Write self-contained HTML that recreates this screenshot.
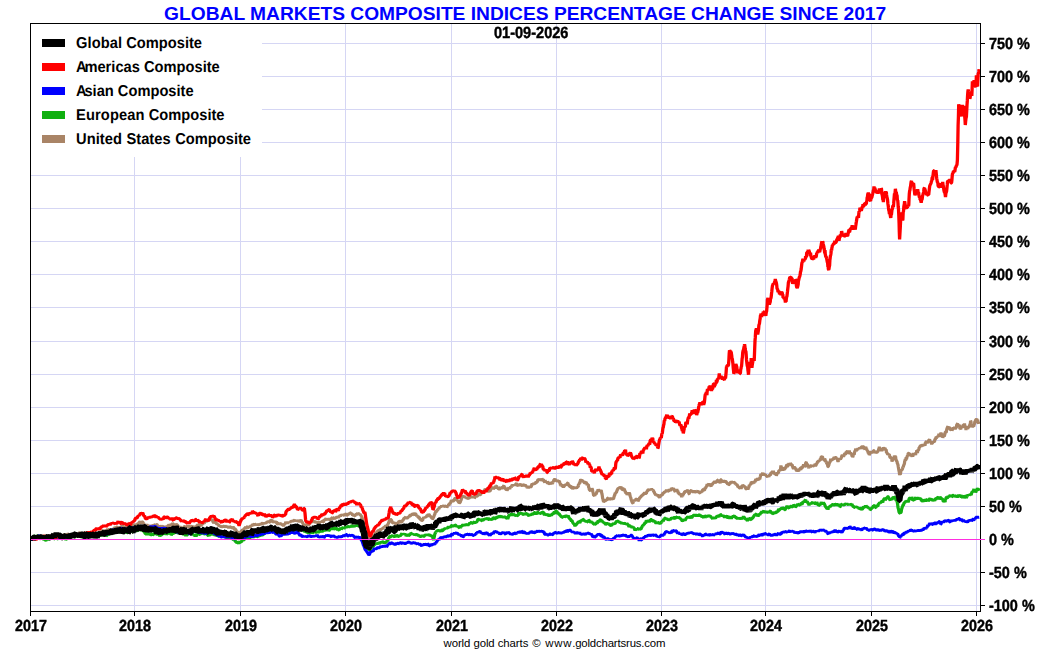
<!DOCTYPE html>
<html><head><meta charset="utf-8"><title>Global Markets Composite Indices</title>
<style>
html,body{margin:0;padding:0;background:#fff;}
body{width:1050px;height:650px;overflow:hidden;position:relative;font-family:"Liberation Sans",sans-serif;}
svg{position:absolute;left:0;top:0;}
.t{position:absolute;white-space:nowrap;color:#000;font-weight:bold;line-height:1;}
.yl{-webkit-text-stroke:0.4px #000;font-size:14.45px;left:989px;transform:scaleY(1.12);transform-origin:0 50%;text-rendering:geometricPrecision;will-change:transform;}
.xl{-webkit-text-stroke:0.4px #000;font-size:14.3px;width:60px;text-align:center;transform:scaleY(1.12);transform-origin:50% 50%;text-rendering:geometricPrecision;will-change:transform;}
.lg{font-size:14.68px;left:76px;}
.ka{letter-spacing:-2.2px;}
.lg{transform:scaleY(1.07);transform-origin:0 85%;text-rendering:geometricPrecision;}
.sw{position:absolute;left:42px;width:23px;height:8px;}
</style></head><body>

<svg width="1050" height="650" viewBox="0 0 1050 650">
<rect x="0" y="0" width="1050" height="650" fill="#fff"/>
<g shape-rendering="crispEdges" stroke="#d5d6f4" stroke-width="1" fill="none"><line x1="31" y1="43.5" x2="980" y2="43.5"/><line x1="31" y1="76.5" x2="980" y2="76.5"/><line x1="31" y1="109.5" x2="980" y2="109.5"/><line x1="31" y1="142.5" x2="980" y2="142.5"/><line x1="31" y1="175.5" x2="980" y2="175.5"/><line x1="31" y1="208.5" x2="980" y2="208.5"/><line x1="31" y1="241.5" x2="980" y2="241.5"/><line x1="31" y1="274.5" x2="980" y2="274.5"/><line x1="31" y1="307.5" x2="980" y2="307.5"/><line x1="31" y1="341.5" x2="980" y2="341.5"/><line x1="31" y1="374.5" x2="980" y2="374.5"/><line x1="31" y1="407.5" x2="980" y2="407.5"/><line x1="31" y1="440.5" x2="980" y2="440.5"/><line x1="31" y1="473.5" x2="980" y2="473.5"/><line x1="31" y1="506.5" x2="980" y2="506.5"/><line x1="31" y1="572.5" x2="980" y2="572.5"/><line x1="31" y1="605.5" x2="980" y2="605.5"/><line x1="134.5" y1="24" x2="134.5" y2="611"/><line x1="240.5" y1="24" x2="240.5" y2="611"/><line x1="345.5" y1="24" x2="345.5" y2="611"/><line x1="451.5" y1="24" x2="451.5" y2="611"/><line x1="556.5" y1="24" x2="556.5" y2="611"/><line x1="661.5" y1="24" x2="661.5" y2="611"/><line x1="765.5" y1="24" x2="765.5" y2="611"/><line x1="871.5" y1="24" x2="871.5" y2="611"/><line x1="976.5" y1="24" x2="976.5" y2="611"/></g>
<rect x="31" y="24" width="231" height="133" fill="#fff"/>
<defs><clipPath id="plot"><rect x="31" y="24" width="949" height="587"/></clipPath></defs>
<g fill="none" stroke-linejoin="bevel" stroke-linecap="butt" clip-path="url(#plot)">
<path d="M30.0,538.6 L30.3,538.1 L30.6,538.0 L30.9,538.1 L31.2,538.0 L31.5,537.8 L31.8,538.0 L32.1,537.9 L32.4,538.2 L32.7,537.7 L33.0,537.2 L33.3,537.2 L33.6,537.4 L33.9,538.1 L34.2,537.7 L34.5,537.6 L34.8,538.1 L35.1,538.3 L35.4,538.4 L35.7,538.0 L36.0,537.1 L36.3,538.0 L36.6,537.8 L36.9,537.2 L37.2,537.3 L37.5,537.1 L37.8,537.0 L38.1,537.4 L38.4,537.6 L38.7,537.2 L39.0,537.2 L39.3,536.6 L39.6,536.8 L39.9,535.7 L40.1,536.1 L40.4,535.9 L40.7,535.5 L41.0,536.0 L41.3,536.1 L41.6,536.6 L41.9,536.2 L42.2,536.3 L42.5,535.8 L42.8,536.0 L43.1,536.2 L43.4,535.9 L43.7,535.0 L44.0,535.9 L44.3,536.0 L44.6,536.1 L44.9,535.4 L45.2,535.7 L45.5,535.8 L45.8,536.6 L46.1,535.8 L46.4,535.9 L46.7,536.2 L47.0,536.1 L47.3,536.7 L47.6,536.0 L47.9,535.8 L48.2,536.2 L48.5,536.5 L48.8,536.7 L49.1,536.4 L49.4,535.9 L49.7,536.3 L50.0,536.2 L50.3,535.9 L50.6,535.7 L50.9,536.3 L51.2,536.2 L51.5,536.3 L51.8,536.8 L52.1,536.4 L52.4,536.5 L52.7,536.8 L53.0,536.5 L53.3,536.0 L53.6,536.6 L53.9,535.9 L54.2,536.8 L54.5,537.0 L54.8,537.1 L55.1,536.9 L55.4,535.8 L55.7,536.5 L56.0,536.2 L56.3,536.8 L56.6,537.0 L56.9,537.0 L57.2,536.3 L57.5,536.8 L57.8,536.1 L58.1,535.9 L58.4,535.5 L58.7,535.6 L59.0,536.8 L59.3,536.8 L59.6,537.2 L59.9,537.1 L60.1,536.7 L60.4,536.1 L60.7,535.7 L61.0,535.8 L61.3,535.9 L61.6,535.4 L61.9,535.4 L62.2,536.0 L62.5,535.6 L62.8,535.2 L63.1,535.3 L63.4,535.5 L63.7,535.0 L64.0,534.9 L64.3,535.3 L64.6,534.6 L64.9,534.3 L65.2,534.6 L65.5,534.9 L65.8,535.5 L66.1,535.2 L66.4,535.4 L66.7,535.1 L67.0,534.8 L67.3,534.4 L67.6,533.8 L67.9,534.0 L68.2,534.9 L68.5,534.3 L68.8,535.2 L69.1,535.2 L69.4,534.9 L69.7,535.1 L70.0,535.4 L70.3,535.1 L70.6,535.1 L70.9,535.5 L71.2,534.8 L71.5,535.0 L71.8,535.6 L72.1,535.6 L72.4,534.4 L72.7,534.7 L73.0,534.7 L73.3,534.1 L73.6,534.0 L73.9,534.0 L74.2,534.1 L74.5,534.3 L74.8,534.3 L75.1,534.5 L75.4,534.8 L75.7,534.7 L76.0,533.8 L76.3,533.2 L76.6,534.2 L76.9,534.0 L77.2,533.8 L77.5,534.2 L77.8,534.0 L78.1,533.7 L78.4,533.8 L78.7,534.3 L79.0,533.0 L79.3,532.8 L79.6,532.8 L79.9,532.9 L80.1,533.5 L80.4,534.3 L80.7,533.5 L81.0,533.2 L81.3,533.4 L81.6,533.2 L81.9,534.0 L82.2,534.0 L82.5,533.6 L82.8,533.9 L83.1,534.0 L83.4,533.6 L83.7,533.6 L84.0,533.2 L84.3,533.1 L84.6,533.2 L84.9,533.6 L85.2,533.7 L85.5,533.4 L85.8,533.1 L86.1,533.6 L86.4,533.4 L86.7,533.8 L87.0,532.8 L87.3,533.0 L87.6,533.1 L87.9,533.1 L88.2,533.1 L88.5,533.1 L88.8,533.3 L89.1,533.6 L89.4,533.0 L89.7,533.4 L90.0,533.5 L90.3,533.8 L90.6,533.4 L90.9,533.5 L91.2,533.3 L91.5,532.8 L91.8,532.4 L92.1,532.6 L92.4,532.5 L92.7,532.3 L93.0,533.0 L93.3,533.4 L93.6,533.3 L93.9,534.2 L94.2,533.9 L94.5,534.6 L94.8,534.7 L95.2,533.9 L95.5,534.6 L95.8,534.5 L96.1,534.6 L96.4,534.0 L96.7,534.1 L97.0,533.6 L97.3,533.9 L97.6,533.9 L97.9,533.5 L98.2,533.9 L98.5,533.3 L98.8,533.2 L99.1,532.8 L99.4,532.6 L99.7,532.7 L100.0,532.7 L100.3,531.8 L100.6,531.7 L100.9,532.2 L101.2,531.7 L101.5,531.6 L101.8,531.2 L102.1,531.4 L102.4,530.8 L102.7,530.3 L103.0,529.8 L103.3,530.9 L103.6,530.7 L103.9,530.4 L104.2,531.1 L104.5,531.4 L104.8,531.1 L105.2,531.1 L105.5,530.7 L105.8,531.1 L106.1,530.9 L106.4,530.6 L106.7,530.7 L107.0,529.8 L107.3,529.7 L107.6,530.1 L107.9,529.6 L108.2,529.8 L108.5,529.7 L108.8,530.1 L109.1,529.9 L109.4,529.4 L109.7,529.1 L110.0,529.6 L110.3,530.3 L110.6,530.1 L110.9,529.5 L111.2,530.2 L111.5,530.3 L111.8,530.2 L112.1,530.8 L112.4,529.9 L112.7,530.0 L113.0,529.8 L113.3,529.1 L113.6,528.8 L113.9,528.7 L114.2,528.8 L114.5,528.2 L114.8,527.8 L115.2,527.2 L115.5,528.1 L115.8,527.5 L116.1,527.7 L116.4,527.2 L116.7,527.2 L117.0,527.6 L117.3,527.5 L117.6,527.8 L117.9,527.4 L118.2,527.2 L118.5,526.8 L118.8,528.1 L119.1,527.8 L119.4,527.9 L119.7,527.6 L120.0,527.9 L120.3,527.5 L120.6,527.1 L120.9,527.2 L121.2,526.7 L121.5,526.7 L121.8,526.3 L122.1,526.5 L122.4,526.0 L122.7,525.4 L123.0,527.0 L123.3,527.5 L123.6,527.2 L123.9,526.8 L124.2,527.2 L124.5,526.9 L124.8,527.2 L125.1,527.4 L125.4,527.3 L125.7,526.8 L126.0,527.4 L126.3,526.3 L126.6,525.7 L126.9,525.3 L127.2,525.4 L127.5,526.3 L127.8,524.6 L128.1,524.9 L128.4,524.6 L128.7,525.4 L129.0,525.5 L129.3,525.7 L129.6,526.2 L129.9,526.1 L130.1,525.1 L130.4,525.3 L130.7,525.3 L131.0,524.8 L131.3,525.1 L131.6,524.7 L131.9,525.6 L132.2,525.8 L132.5,526.2 L132.8,525.8 L133.1,524.9 L133.4,525.4 L133.7,525.0 L134.0,524.9 L134.3,524.9 L134.6,525.7 L134.9,526.0 L135.2,525.1 L135.5,525.1 L135.8,525.4 L136.1,524.7 L136.4,524.1 L136.7,525.2 L137.0,524.5 L137.3,524.8 L137.6,523.9 L137.9,523.9 L138.1,522.8 L138.4,523.6 L138.7,522.6 L139.0,523.4 L139.3,522.0 L139.6,521.9 L139.9,522.4 L140.2,522.8 L140.5,522.7 L140.8,522.5 L141.1,522.4 L141.4,522.2 L141.7,521.8 L142.0,522.0 L142.3,522.4 L142.6,522.0 L142.9,522.3 L143.2,523.0 L143.5,522.9 L143.8,523.9 L144.1,524.5 L144.4,524.1 L144.7,525.1 L145.0,525.3 L145.3,525.0 L145.6,525.2 L145.9,526.3 L146.2,526.1 L146.5,525.2 L146.8,524.3 L147.1,525.1 L147.4,525.3 L147.7,525.7 L148.0,526.2 L148.3,526.4 L148.6,526.2 L148.9,526.1 L149.2,526.4 L149.5,526.3 L149.8,526.0 L150.1,525.9 L150.4,526.9 L150.7,526.1 L151.0,526.1 L151.3,525.6 L151.6,526.2 L151.9,525.6 L152.2,525.8 L152.5,525.5 L152.8,524.7 L153.1,525.1 L153.4,525.5 L153.7,524.8 L154.0,525.0 L154.3,525.2 L154.6,524.9 L154.9,524.9 L155.2,524.8 L155.5,526.1 L155.8,525.2 L156.1,525.4 L156.4,525.0 L156.7,524.7 L157.0,524.7 L157.3,525.0 L157.6,526.1 L157.9,525.7 L158.1,526.4 L158.4,526.1 L158.7,526.9 L159.0,526.2 L159.3,526.6 L159.6,526.1 L159.9,526.3 L160.2,527.3 L160.5,527.0 L160.8,526.3 L161.1,526.4 L161.4,527.0 L161.7,526.5 L162.0,526.9 L162.3,526.8 L162.6,526.8 L162.9,527.1 L163.2,526.4 L163.5,526.2 L163.8,527.0 L164.1,527.1 L164.4,526.6 L164.7,526.1 L165.0,526.7 L165.3,526.9 L165.6,526.5 L165.9,527.0 L166.1,527.1 L166.4,527.3 L166.7,526.5 L167.0,526.0 L167.3,526.4 L167.6,526.5 L167.9,525.9 L168.2,525.6 L168.5,525.4 L168.8,525.2 L169.1,524.7 L169.4,525.0 L169.7,525.7 L170.0,525.8 L170.3,524.9 L170.6,525.4 L170.9,525.5 L171.2,524.9 L171.5,525.1 L171.8,524.1 L172.1,524.0 L172.4,524.3 L172.7,523.6 L173.0,523.8 L173.3,524.4 L173.6,525.2 L173.9,525.4 L174.2,526.5 L174.5,525.1 L174.8,524.8 L175.1,524.4 L175.4,524.1 L175.7,524.7 L176.0,524.5 L176.3,524.6 L176.6,524.3 L176.9,524.7 L177.2,525.3 L177.5,524.9 L177.8,525.7 L178.1,526.1 L178.4,526.8 L178.7,526.3 L179.0,527.3 L179.3,526.9 L179.6,527.2 L179.9,526.9 L180.1,526.5 L180.4,527.2 L180.7,527.0 L181.0,527.5 L181.3,527.2 L181.6,528.0 L181.9,528.2 L182.2,528.3 L182.5,528.6 L182.8,527.9 L183.1,528.0 L183.4,528.7 L183.7,528.0 L184.0,527.0 L184.3,526.7 L184.6,526.7 L184.9,526.8 L185.2,526.8 L185.5,527.0 L185.8,527.4 L186.1,527.4 L186.4,527.0 L186.7,527.0 L187.0,526.2 L187.3,525.7 L187.6,526.6 L187.9,526.2 L188.2,526.5 L188.5,526.3 L188.8,526.4 L189.1,525.8 L189.4,526.2 L189.7,526.8 L190.0,527.3 L190.3,526.6 L190.6,527.1 L190.9,527.5 L191.2,527.4 L191.5,527.0 L191.8,526.4 L192.1,526.3 L192.4,526.8 L192.7,527.5 L193.0,526.1 L193.3,526.5 L193.6,527.0 L193.9,527.3 L194.1,527.3 L194.4,527.5 L194.7,527.9 L195.0,528.1 L195.3,527.4 L195.6,527.1 L195.9,527.1 L196.2,526.7 L196.5,526.5 L196.8,526.0 L197.1,525.2 L197.4,525.1 L197.7,525.6 L198.0,524.9 L198.3,525.2 L198.6,525.0 L198.9,524.9 L199.2,524.6 L199.5,524.0 L199.8,525.0 L200.1,525.2 L200.4,525.1 L200.7,525.6 L201.0,525.8 L201.3,524.9 L201.6,525.2 L201.9,524.0 L202.1,524.6 L202.4,523.8 L202.7,523.8 L203.0,523.0 L203.3,523.0 L203.6,522.9 L203.9,523.3 L204.2,523.5 L204.5,522.6 L204.8,521.5 L205.1,521.8 L205.4,521.4 L205.7,521.5 L206.0,521.3 L206.3,521.0 L206.6,522.0 L206.9,521.2 L207.2,520.5 L207.5,520.7 L207.8,520.2 L208.1,520.1 L208.4,519.6 L208.7,520.3 L209.0,520.3 L209.3,519.6 L209.6,518.6 L209.9,519.0 L210.2,519.4 L210.5,519.6 L210.8,519.8 L211.1,519.5 L211.4,519.4 L211.7,519.9 L212.0,520.1 L212.3,520.0 L212.6,520.2 L212.9,521.3 L213.2,522.4 L213.5,522.5 L213.8,521.6 L214.1,522.4 L214.4,522.3 L214.6,522.0 L214.9,522.9 L215.2,521.5 L215.5,522.7 L215.8,522.3 L216.1,523.0 L216.4,523.5 L216.7,523.8 L217.0,524.2 L217.3,523.7 L217.6,524.9 L217.9,524.6 L218.2,524.9 L218.5,524.9 L218.8,525.6 L219.1,526.3 L219.4,526.0 L219.6,526.4 L219.9,525.8 L220.2,526.3 L220.5,526.4 L220.8,526.3 L221.1,526.5 L221.4,526.8 L221.7,526.7 L222.0,526.5 L222.3,526.6 L222.6,526.6 L222.9,526.6 L223.2,526.5 L223.5,526.2 L223.8,526.4 L224.1,526.2 L224.4,526.8 L224.7,526.7 L225.0,526.5 L225.3,526.1 L225.6,526.3 L225.9,526.7 L226.2,527.3 L226.5,526.6 L226.8,526.2 L227.1,526.9 L227.5,526.9 L227.8,527.0 L228.1,527.1 L228.4,527.4 L228.7,527.8 L229.0,527.4 L229.3,527.0 L229.6,527.5 L229.9,526.9 L230.2,526.9 L230.5,527.2 L230.8,527.3 L231.1,526.8 L231.4,527.3 L231.7,527.6 L232.0,527.8 L232.3,528.0 L232.6,527.9 L232.9,527.3 L233.2,527.6 L233.5,527.5 L233.8,527.6 L234.1,528.2 L234.4,529.2 L234.7,529.5 L235.0,529.4 L235.3,529.2 L235.6,529.3 L235.9,530.0 L236.2,530.7 L236.5,531.2 L236.8,531.2 L237.1,531.8 L237.4,532.3 L237.7,532.3 L238.0,532.3 L238.3,532.3 L238.6,533.2 L238.9,533.3 L239.2,533.2 L239.5,533.5 L239.8,532.9 L240.1,532.1 L240.4,532.9 L240.7,531.7 L240.9,531.7 L241.2,531.2 L241.5,530.1 L241.8,530.6 L242.1,530.3 L242.4,530.1 L242.7,530.4 L243.0,530.0 L243.3,529.4 L243.6,529.5 L243.9,529.2 L244.2,528.5 L244.5,528.6 L244.8,528.0 L245.1,527.9 L245.3,527.5 L245.6,527.3 L245.9,528.1 L246.2,528.0 L246.5,527.3 L246.8,527.4 L247.1,527.4 L247.4,526.7 L247.7,526.5 L248.0,527.7 L248.3,527.6 L248.6,526.9 L248.9,527.1 L249.2,527.1 L249.5,527.6 L249.8,527.0 L250.1,526.8 L250.4,526.8 L250.8,526.1 L251.1,525.3 L251.4,525.7 L251.7,525.5 L252.0,525.7 L252.3,525.3 L252.6,524.3 L252.9,524.5 L253.2,525.7 L253.5,524.8 L253.8,524.4 L254.1,524.3 L254.4,525.0 L254.7,524.5 L255.0,524.7 L255.3,524.3 L255.6,524.3 L255.9,524.3 L256.1,524.1 L256.4,524.6 L256.7,524.8 L257.0,523.6 L257.3,524.6 L257.6,524.7 L257.9,525.2 L258.2,524.4 L258.5,524.6 L258.8,524.6 L259.1,524.6 L259.4,523.9 L259.7,524.9 L260.0,524.5 L260.3,524.6 L260.6,524.0 L260.9,523.6 L261.1,524.4 L261.4,525.0 L261.7,523.6 L262.0,523.4 L262.3,523.8 L262.6,523.1 L262.9,522.8 L263.2,523.8 L263.5,522.9 L263.8,523.3 L264.1,523.4 L264.4,523.0 L264.7,523.3 L265.0,523.6 L265.3,523.1 L265.6,523.4 L265.9,523.0 L266.2,522.8 L266.5,522.5 L266.8,522.5 L267.1,521.9 L267.4,521.9 L267.7,522.0 L268.0,521.6 L268.3,521.8 L268.6,522.3 L268.9,521.8 L269.2,521.6 L269.5,522.1 L269.8,522.1 L270.1,521.7 L270.4,521.5 L270.7,520.4 L271.0,520.0 L271.2,520.2 L271.5,520.7 L271.8,520.0 L272.1,520.5 L272.4,521.9 L272.7,521.8 L273.0,520.8 L273.3,521.5 L273.6,521.9 L273.9,522.1 L274.2,521.3 L274.5,521.9 L274.8,521.6 L275.1,520.9 L275.4,522.1 L275.7,522.1 L276.0,522.3 L276.2,522.5 L276.5,521.7 L276.8,522.4 L277.1,523.6 L277.4,524.0 L277.7,524.1 L278.0,523.3 L278.3,523.7 L278.6,523.7 L278.9,523.9 L279.2,523.5 L279.5,523.8 L279.8,524.0 L280.1,524.7 L280.4,524.2 L280.8,523.7 L281.1,523.6 L281.4,524.5 L281.7,524.4 L282.0,524.3 L282.3,525.1 L282.6,525.0 L282.9,525.4 L283.2,525.4 L283.5,525.7 L283.8,525.4 L284.1,524.7 L284.4,524.5 L284.7,524.7 L285.0,523.5 L285.3,523.7 L285.6,522.7 L285.9,522.0 L286.2,523.0 L286.5,523.3 L286.8,522.9 L287.1,522.9 L287.4,523.5 L287.7,522.8 L288.0,521.8 L288.3,522.8 L288.6,522.2 L288.9,522.6 L289.2,522.2 L289.5,523.0 L289.8,522.2 L290.1,522.8 L290.4,521.5 L290.6,521.9 L290.9,521.3 L291.2,521.3 L291.5,522.1 L291.8,520.9 L292.1,521.2 L292.4,520.2 L292.7,521.3 L293.0,521.0 L293.3,521.0 L293.6,520.7 L293.9,520.4 L294.2,520.4 L294.5,520.3 L294.8,520.1 L295.1,521.6 L295.4,520.4 L295.8,521.2 L296.1,520.7 L296.4,520.5 L296.7,521.1 L297.0,520.7 L297.3,520.8 L297.6,520.8 L297.9,521.0 L298.2,521.6 L298.5,520.3 L298.8,520.6 L299.1,521.1 L299.4,521.3 L299.7,521.5 L300.0,521.1 L300.3,521.3 L300.6,520.6 L300.9,520.4 L301.2,520.7 L301.5,520.9 L301.8,522.0 L302.1,521.8 L302.4,522.6 L302.7,523.0 L303.0,523.5 L303.3,524.2 L303.6,524.8 L303.9,524.3 L304.1,525.4 L304.4,525.0 L304.7,525.3 L305.0,524.9 L305.3,525.2 L305.6,525.0 L305.9,525.2 L306.2,524.7 L306.5,524.5 L306.8,524.8 L307.2,524.9 L307.5,523.9 L307.8,524.5 L308.1,524.9 L308.4,524.8 L308.7,524.8 L309.0,524.7 L309.3,523.7 L309.6,522.7 L309.9,523.5 L310.2,523.1 L310.5,522.4 L310.8,522.8 L311.1,522.1 L311.4,523.0 L311.6,522.1 L311.9,521.1 L312.2,521.1 L312.5,521.4 L312.8,520.8 L313.1,521.0 L313.4,521.0 L313.7,521.6 L314.0,520.7 L314.3,522.0 L314.6,521.8 L314.9,522.6 L315.2,522.3 L315.5,522.0 L315.8,522.1 L316.1,522.7 L316.4,522.0 L316.7,522.3 L317.0,522.8 L317.3,522.5 L317.6,522.5 L317.9,522.8 L318.2,522.3 L318.5,522.3 L318.8,522.8 L319.1,522.5 L319.4,522.7 L319.7,522.5 L320.0,521.6 L320.3,521.9 L320.6,522.2 L320.9,521.7 L321.2,522.1 L321.5,521.5 L321.8,522.0 L322.1,521.5 L322.4,521.1 L322.7,521.1 L323.0,521.1 L323.3,521.8 L323.6,521.8 L323.9,520.8 L324.2,520.1 L324.5,519.8 L324.8,520.1 L325.1,520.4 L325.4,519.3 L325.7,518.9 L326.0,518.6 L326.3,519.5 L326.6,519.7 L326.9,519.3 L327.2,520.1 L327.5,519.5 L327.8,519.0 L328.1,519.3 L328.4,519.5 L328.7,519.0 L329.0,518.3 L329.3,518.9 L329.6,519.4 L329.9,519.9 L330.2,519.9 L330.5,519.1 L330.8,519.2 L331.1,519.0 L331.4,518.8 L331.7,517.9 L332.0,517.8 L332.3,518.5 L332.6,518.2 L332.9,517.7 L333.2,517.9 L333.5,517.8 L333.8,517.8 L334.1,518.7 L334.4,519.3 L334.7,518.2 L335.0,518.8 L335.3,518.2 L335.6,518.6 L335.9,517.4 L336.2,517.4 L336.5,518.0 L336.8,517.3 L337.1,517.0 L337.4,517.2 L337.7,516.7 L338.0,516.9 L338.3,517.9 L338.6,517.0 L338.9,516.4 L339.2,516.5 L339.5,516.0 L339.8,515.8 L340.1,515.6 L340.4,516.4 L340.7,515.8 L341.0,515.3 L341.3,515.0 L341.6,515.6 L341.9,514.8 L342.2,515.6 L342.5,514.9 L342.8,514.4 L343.1,515.3 L343.4,515.1 L343.7,515.2 L344.0,514.9 L344.3,514.3 L344.6,515.1 L344.9,515.0 L345.2,515.1 L345.5,514.1 L345.8,514.2 L346.1,513.3 L346.4,514.4 L346.7,515.0 L347.0,515.2 L347.3,515.1 L347.6,514.6 L347.9,514.8 L348.2,514.4 L348.5,514.2 L348.8,513.9 L349.1,513.8 L349.4,513.8 L349.7,513.9 L350.0,513.3 L350.3,512.8 L350.6,512.9 L350.9,513.8 L351.2,513.5 L351.5,513.0 L351.8,514.0 L352.1,513.9 L352.4,514.3 L352.6,515.9 L352.9,514.3 L353.2,515.8 L353.5,515.5 L353.8,516.3 L354.1,514.9 L354.4,515.4 L354.7,515.8 L355.0,515.9 L355.3,515.0 L355.6,514.5 L355.9,514.5 L356.2,514.2 L356.5,514.8 L356.8,514.4 L357.0,513.9 L357.3,513.6 L357.6,513.1 L357.9,513.7 L358.2,514.0 L358.5,513.6 L358.8,513.7 L359.1,514.1 L359.4,514.2 L359.7,513.7 L360.0,514.7 L360.3,514.0 L360.6,515.7 L360.9,515.5 L361.2,515.6 L361.5,517.3 L361.8,517.1 L362.1,517.5 L362.4,519.4 L362.7,519.6 L363.0,521.2 L363.3,521.8 L363.6,523.5 L363.9,525.6 L364.2,526.5 L364.5,527.8 L364.8,528.5 L365.1,530.4 L365.4,531.2 L365.6,532.1 L365.9,533.0 L366.2,534.3 L366.5,535.9 L366.8,537.3 L367.1,537.5 L367.4,538.2 L367.8,538.2 L368.1,539.0 L368.4,539.1 L368.7,539.7 L369.0,539.8 L369.3,540.4 L369.6,540.3 L369.9,539.3 L370.2,539.2 L370.5,539.0 L370.8,538.1 L371.1,538.0 L371.4,538.0 L371.7,537.0 L372.0,537.6 L372.3,536.8 L372.6,536.6 L372.9,536.6 L373.2,535.5 L373.5,535.4 L373.8,535.7 L374.1,535.8 L374.4,534.5 L374.7,534.5 L375.0,533.7 L375.3,533.6 L375.6,533.4 L375.9,532.9 L376.2,532.6 L376.5,533.0 L376.8,532.4 L377.1,532.2 L377.4,531.9 L377.7,530.9 L378.0,530.7 L378.3,531.7 L378.6,531.2 L378.9,530.9 L379.2,531.2 L379.5,529.3 L379.8,529.8 L380.2,529.4 L380.5,529.8 L380.8,530.0 L381.1,529.4 L381.4,529.1 L381.7,529.4 L382.0,528.7 L382.3,528.7 L382.6,528.9 L382.9,528.0 L383.2,528.3 L383.5,527.0 L383.8,527.2 L384.0,527.2 L384.3,527.3 L384.6,526.8 L384.9,527.3 L385.2,526.3 L385.5,526.1 L385.8,526.3 L386.1,525.8 L386.4,526.0 L386.7,525.7 L387.0,525.1 L387.3,526.2 L387.6,525.5 L387.9,524.6 L388.2,523.4 L388.5,523.7 L388.8,522.5 L389.1,521.1 L389.4,520.5 L389.7,520.8 L390.0,519.7 L390.3,518.8 L390.6,519.4 L390.9,519.7 L391.2,519.8 L391.5,520.3 L391.8,520.9 L392.1,522.3 L392.4,522.4 L392.6,523.0 L392.9,523.0 L393.2,522.5 L393.5,522.7 L393.8,523.5 L394.1,522.9 L394.4,522.6 L394.7,523.0 L395.0,522.6 L395.3,523.8 L395.6,523.6 L395.9,524.3 L396.2,524.5 L396.5,523.8 L396.8,523.4 L397.1,522.9 L397.4,523.3 L397.7,522.9 L398.1,522.8 L398.4,522.6 L398.7,521.8 L399.0,521.1 L399.3,521.5 L399.6,521.2 L399.9,521.3 L400.2,521.9 L400.5,522.2 L400.8,522.0 L401.1,521.9 L401.4,522.2 L401.7,521.8 L402.0,522.0 L402.3,520.9 L402.6,520.0 L402.9,520.6 L403.2,519.9 L403.5,519.4 L403.8,518.6 L404.1,518.4 L404.4,518.1 L404.7,518.8 L405.0,517.4 L405.3,517.3 L405.5,518.3 L405.8,517.8 L406.1,518.0 L406.4,518.1 L406.7,517.8 L407.0,517.5 L407.3,517.9 L407.6,517.9 L407.9,517.7 L408.2,517.7 L408.5,516.4 L408.9,517.1 L409.2,516.0 L409.5,516.2 L409.8,515.5 L410.1,515.3 L410.4,515.9 L410.7,515.9 L411.0,514.8 L411.3,514.2 L411.6,515.2 L411.9,514.6 L412.2,514.5 L412.5,514.3 L412.9,513.4 L413.2,513.7 L413.5,514.2 L413.8,513.8 L414.1,514.5 L414.4,514.7 L414.7,515.0 L415.0,512.9 L415.3,513.9 L415.6,513.7 L415.9,514.2 L416.2,514.9 L416.5,515.5 L416.8,516.1 L417.1,515.7 L417.4,516.1 L417.7,517.0 L418.0,516.2 L418.3,517.2 L418.6,517.5 L418.9,517.1 L419.2,517.3 L419.5,518.0 L419.8,519.2 L420.2,519.1 L420.5,518.7 L420.8,519.4 L421.1,520.5 L421.4,520.3 L421.7,520.6 L422.0,520.5 L422.3,520.4 L422.6,520.4 L422.9,518.9 L423.2,518.7 L423.5,517.5 L423.8,517.7 L424.0,517.1 L424.3,517.6 L424.6,518.2 L424.9,517.2 L425.2,517.5 L425.5,517.1 L425.8,517.1 L426.1,517.3 L426.4,516.5 L426.7,516.2 L427.0,515.8 L427.3,515.1 L427.6,515.2 L427.9,515.2 L428.2,514.2 L428.5,515.0 L428.8,513.9 L429.1,514.5 L429.4,515.0 L429.7,516.2 L430.0,516.7 L430.3,515.7 L430.6,516.8 L430.9,516.7 L431.2,516.9 L431.5,518.1 L431.8,518.0 L432.1,518.0 L432.4,519.0 L432.7,518.8 L433.0,518.6 L433.3,517.5 L433.6,517.2 L433.9,516.2 L434.2,515.7 L434.5,514.6 L434.8,514.3 L435.1,512.9 L435.4,512.5 L435.7,511.9 L436.0,511.4 L436.3,510.9 L436.6,511.3 L436.9,511.1 L437.2,510.2 L437.4,509.8 L437.7,509.8 L438.0,509.6 L438.3,509.0 L438.6,508.5 L438.9,509.1 L439.2,508.0 L439.5,507.7 L439.8,507.4 L440.1,507.3 L440.4,506.7 L440.7,506.9 L441.0,506.6 L441.3,507.1 L441.7,505.5 L442.0,506.8 L442.3,505.9 L442.6,506.6 L442.9,505.8 L443.2,506.0 L443.5,505.7 L443.8,506.4 L444.1,506.3 L444.4,506.3 L444.7,505.9 L445.0,506.0 L445.3,506.5 L445.6,505.8 L445.9,506.2 L446.2,505.8 L446.5,506.4 L446.8,507.3 L447.1,506.9 L447.4,506.6 L447.7,505.7 L448.0,506.1 L448.3,505.2 L448.6,504.8 L448.9,505.7 L449.2,504.6 L449.5,503.1 L449.8,503.9 L450.1,503.0 L450.4,502.9 L450.7,502.7 L451.0,501.4 L451.2,500.9 L451.5,500.4 L451.8,501.4 L452.1,501.0 L452.4,500.6 L452.7,500.7 L453.0,500.9 L453.3,500.9 L453.6,500.8 L453.9,500.7 L454.2,499.5 L454.5,499.3 L454.7,498.6 L455.0,498.4 L455.3,498.6 L455.6,499.3 L455.9,498.6 L456.2,498.5 L456.5,499.4 L456.8,500.4 L457.1,500.4 L457.4,499.9 L457.7,500.9 L458.0,500.8 L458.3,501.6 L458.6,502.1 L458.9,502.5 L459.2,503.0 L459.5,502.8 L459.8,502.6 L460.1,502.4 L460.4,501.8 L460.8,500.4 L461.1,500.3 L461.4,498.7 L461.7,498.0 L462.0,497.5 L462.3,496.3 L462.6,496.8 L462.9,495.6 L463.2,496.1 L463.5,496.4 L463.9,496.8 L464.2,496.2 L464.5,496.7 L464.8,496.8 L465.1,497.1 L465.4,497.2 L465.7,498.0 L466.0,497.1 L466.3,498.1 L466.6,498.0 L466.9,498.4 L467.3,498.1 L467.6,498.2 L467.9,498.4 L468.2,498.0 L468.5,498.4 L468.8,498.6 L469.1,497.8 L469.4,496.7 L469.7,496.3 L470.0,496.9 L470.3,497.2 L470.6,497.1 L470.9,497.1 L471.2,496.5 L471.5,496.4 L471.8,497.1 L472.1,497.9 L472.4,496.1 L472.7,497.1 L473.1,497.7 L473.4,497.2 L473.7,497.0 L474.0,497.3 L474.3,496.8 L474.6,497.8 L474.9,497.6 L475.2,495.8 L475.5,496.0 L475.8,496.2 L476.1,495.9 L476.4,496.1 L476.7,495.4 L477.0,496.1 L477.3,496.1 L477.6,495.6 L477.9,495.6 L478.2,493.8 L478.5,493.7 L478.8,494.1 L479.1,494.5 L479.4,494.6 L479.7,494.8 L480.0,494.6 L480.3,494.7 L480.6,494.7 L480.9,493.7 L481.1,493.3 L481.4,491.6 L481.7,491.9 L482.0,492.3 L482.3,493.1 L482.6,492.7 L482.9,492.8 L483.2,493.1 L483.5,491.4 L483.8,491.0 L484.1,490.4 L484.4,491.2 L484.7,490.0 L485.0,488.9 L485.3,489.4 L485.6,489.1 L485.9,489.7 L486.1,488.7 L486.4,490.7 L486.7,489.9 L487.0,490.5 L487.3,490.8 L487.6,490.8 L487.9,491.0 L488.2,491.3 L488.5,491.2 L488.8,491.3 L489.1,491.2 L489.4,491.2 L489.7,489.7 L490.0,490.9 L490.3,490.8 L490.6,489.7 L490.9,489.4 L491.2,488.2 L491.5,488.1 L491.8,487.7 L492.1,487.7 L492.4,488.1 L492.7,488.1 L493.0,488.6 L493.3,488.0 L493.6,488.5 L493.9,488.4 L494.2,487.5 L494.5,488.3 L494.7,487.0 L495.0,486.9 L495.3,488.0 L495.6,487.6 L495.9,486.1 L496.2,486.2 L496.5,486.0 L496.8,486.7 L497.1,487.7 L497.4,487.6 L497.7,488.1 L498.0,488.2 L498.3,488.5 L498.6,489.3 L498.9,489.1 L499.2,488.6 L499.5,490.1 L499.8,487.8 L500.1,487.6 L500.4,488.0 L500.7,487.0 L501.0,487.7 L501.2,487.4 L501.5,488.1 L501.8,487.7 L502.1,488.7 L502.4,488.1 L502.7,486.4 L503.0,487.5 L503.3,486.9 L503.6,485.9 L503.9,485.6 L504.2,487.0 L504.5,486.6 L504.8,487.9 L505.2,487.6 L505.5,489.0 L505.8,489.2 L506.1,489.4 L506.4,488.8 L506.7,489.6 L507.0,490.5 L507.3,489.9 L507.6,489.4 L507.9,488.8 L508.2,488.7 L508.5,488.1 L508.8,487.5 L509.1,489.2 L509.4,487.7 L509.7,489.2 L510.0,487.8 L510.3,487.3 L510.6,486.7 L510.9,487.2 L511.1,486.6 L511.4,487.5 L511.7,485.7 L512.0,485.5 L512.3,486.4 L512.6,485.3 L512.9,484.8 L513.2,485.3 L513.5,484.9 L513.8,485.7 L514.1,484.2 L514.4,485.5 L514.7,484.3 L515.0,485.2 L515.3,484.8 L515.6,484.2 L515.9,484.4 L516.2,483.6 L516.5,483.3 L516.8,484.0 L517.1,484.3 L517.4,484.7 L517.7,485.5 L518.0,485.8 L518.3,485.3 L518.6,485.2 L518.9,485.9 L519.2,485.0 L519.5,484.5 L519.8,485.2 L520.1,484.4 L520.4,484.0 L520.7,486.0 L521.0,485.1 L521.3,484.6 L521.6,484.4 L521.9,485.5 L522.2,485.6 L522.5,486.3 L522.8,485.4 L523.1,486.2 L523.4,484.9 L523.7,484.8 L524.0,485.3 L524.3,485.2 L524.6,485.1 L524.9,485.4 L525.2,484.9 L525.5,485.3 L525.8,485.6 L526.2,486.6 L526.5,486.2 L526.8,487.1 L527.1,487.4 L527.4,487.2 L527.7,487.1 L528.0,487.0 L528.3,487.2 L528.6,487.2 L528.9,487.3 L529.2,487.1 L529.5,486.7 L529.8,486.2 L530.1,486.7 L530.4,487.7 L530.6,487.2 L530.9,486.0 L531.2,487.1 L531.5,485.7 L531.8,484.4 L532.1,484.1 L532.4,484.5 L532.7,483.5 L533.0,484.0 L533.3,483.9 L533.6,483.6 L533.9,483.2 L534.2,484.3 L534.5,483.6 L534.8,483.7 L535.1,483.4 L535.4,483.4 L535.6,482.9 L535.9,482.4 L536.2,481.4 L536.5,482.3 L536.8,482.1 L537.1,481.8 L537.4,481.5 L537.7,480.1 L538.0,479.9 L538.3,479.8 L538.6,479.8 L538.9,480.2 L539.2,479.1 L539.5,479.4 L539.8,478.8 L540.2,480.8 L540.5,480.1 L540.8,479.1 L541.1,480.4 L541.4,479.4 L541.7,479.7 L542.0,478.8 L542.3,479.2 L542.6,479.9 L542.9,480.0 L543.2,479.5 L543.5,480.1 L543.8,481.0 L544.2,481.3 L544.5,481.9 L544.8,482.6 L545.1,480.2 L545.4,481.6 L545.7,481.4 L546.0,482.3 L546.3,481.2 L546.6,482.7 L546.9,482.5 L547.2,482.8 L547.5,482.9 L547.8,482.8 L548.2,482.3 L548.5,482.3 L548.8,483.5 L549.1,483.6 L549.4,483.7 L549.7,482.9 L550.0,483.6 L550.3,483.7 L550.6,484.2 L550.9,483.5 L551.2,482.5 L551.5,483.2 L551.8,482.0 L552.1,484.3 L552.4,482.7 L552.6,483.4 L552.9,481.5 L553.2,482.0 L553.5,481.1 L553.8,480.5 L554.1,479.6 L554.4,479.7 L554.7,479.3 L555.0,478.6 L555.3,480.2 L555.6,480.2 L555.9,480.0 L556.2,480.7 L556.5,480.8 L556.8,480.8 L557.2,481.3 L557.5,480.9 L557.8,480.7 L558.1,481.0 L558.4,481.0 L558.7,481.4 L559.0,481.9 L559.3,481.3 L559.6,481.7 L559.9,483.4 L560.2,483.2 L560.5,485.6 L560.8,484.7 L561.2,486.1 L561.5,484.2 L561.8,485.5 L562.1,485.7 L562.4,485.5 L562.7,486.2 L563.0,486.7 L563.3,487.5 L563.6,486.3 L563.9,485.1 L564.2,486.8 L564.5,485.4 L564.8,485.0 L565.2,485.1 L565.5,484.6 L565.8,484.8 L566.1,484.4 L566.4,484.7 L566.7,484.3 L567.0,484.3 L567.3,483.6 L567.6,483.1 L567.9,483.0 L568.2,483.9 L568.5,485.3 L568.8,485.0 L569.1,485.9 L569.4,485.9 L569.6,485.6 L569.9,485.9 L570.2,487.5 L570.5,487.3 L570.8,487.4 L571.1,487.6 L571.4,486.6 L571.7,486.7 L572.0,486.4 L572.3,487.6 L572.6,489.2 L572.9,488.2 L573.2,487.8 L573.5,487.9 L573.8,487.5 L574.1,488.0 L574.4,487.8 L574.6,487.5 L574.9,487.2 L575.2,488.0 L575.5,487.6 L575.8,487.9 L576.1,487.8 L576.4,488.7 L576.7,486.9 L577.0,487.8 L577.3,487.1 L577.6,487.1 L577.9,486.5 L578.2,487.1 L578.5,484.2 L578.8,484.7 L579.2,483.4 L579.5,483.2 L579.8,483.6 L580.1,481.3 L580.4,480.5 L580.7,479.6 L581.0,480.0 L581.3,479.4 L581.6,481.2 L581.9,480.3 L582.2,481.9 L582.5,480.6 L582.8,480.6 L583.2,482.0 L583.5,481.6 L583.8,482.0 L584.1,482.4 L584.4,482.8 L584.7,482.9 L585.0,482.3 L585.3,483.5 L585.6,482.3 L585.9,482.2 L586.2,482.7 L586.5,482.9 L586.8,483.8 L587.1,485.2 L587.4,484.4 L587.7,484.8 L588.0,484.6 L588.3,484.5 L588.6,487.0 L589.0,487.8 L589.3,489.7 L589.6,489.9 L589.9,489.7 L590.2,490.5 L590.5,490.8 L590.8,490.1 L591.1,490.1 L591.4,489.8 L591.7,489.3 L592.0,488.5 L592.3,489.0 L592.6,490.4 L592.9,491.9 L593.3,493.4 L593.6,495.4 L593.9,495.4 L594.2,495.6 L594.5,494.8 L594.8,495.7 L595.1,494.8 L595.4,494.0 L595.8,494.0 L596.1,494.4 L596.4,493.3 L596.7,492.5 L597.0,491.0 L597.3,491.2 L597.6,490.6 L597.9,489.9 L598.2,491.4 L598.5,489.3 L598.8,490.2 L599.1,490.7 L599.4,490.7 L599.7,490.6 L600.0,491.0 L600.3,490.0 L600.6,491.0 L600.9,491.2 L601.2,489.9 L601.5,491.9 L601.8,493.5 L602.1,494.6 L602.4,496.5 L602.6,498.4 L602.9,498.8 L603.2,500.6 L603.5,501.1 L603.8,501.7 L604.1,501.5 L604.4,500.4 L604.7,501.3 L605.0,501.6 L605.3,500.2 L605.5,500.6 L605.8,500.2 L606.1,499.7 L606.4,500.1 L606.7,500.6 L607.0,499.6 L607.3,498.8 L607.6,498.2 L607.9,498.2 L608.2,500.2 L608.5,499.0 L608.8,499.0 L609.1,498.5 L609.4,498.8 L609.7,499.0 L610.0,498.7 L610.3,498.8 L610.6,499.2 L610.9,499.4 L611.2,498.8 L611.5,499.2 L611.8,498.9 L612.1,498.8 L612.4,498.9 L612.7,498.9 L613.0,499.5 L613.3,498.3 L613.6,498.4 L613.9,497.5 L614.2,496.0 L614.6,495.6 L614.9,494.5 L615.2,492.9 L615.5,493.3 L615.8,492.9 L616.1,492.5 L616.4,492.5 L616.7,491.3 L617.0,490.6 L617.3,489.9 L617.6,489.4 L617.9,488.6 L618.3,488.4 L618.6,488.1 L618.9,488.4 L619.2,488.7 L619.5,487.6 L619.8,487.3 L620.1,487.7 L620.4,487.6 L620.7,487.3 L621.0,486.9 L621.3,487.7 L621.6,488.9 L621.9,489.0 L622.2,489.6 L622.4,489.6 L622.7,488.7 L623.0,488.5 L623.3,488.8 L623.6,489.7 L623.9,489.2 L624.2,488.9 L624.5,489.5 L624.8,490.8 L625.1,491.6 L625.4,491.6 L625.6,492.1 L625.9,493.3 L626.2,493.2 L626.5,492.4 L626.8,493.7 L627.1,494.8 L627.4,494.1 L627.6,494.8 L627.9,493.6 L628.2,493.5 L628.5,492.6 L628.8,493.2 L629.1,492.6 L629.4,493.2 L629.7,493.8 L630.0,495.6 L630.3,496.5 L630.6,497.3 L630.9,498.2 L631.2,499.8 L631.5,500.3 L631.8,501.4 L632.1,501.9 L632.4,502.7 L632.7,503.0 L633.0,503.1 L633.3,501.4 L633.6,501.5 L633.9,500.6 L634.2,501.4 L634.6,499.5 L634.9,500.1 L635.2,499.9 L635.5,499.8 L635.8,499.8 L636.1,499.2 L636.4,499.1 L636.7,499.0 L637.1,498.7 L637.4,500.2 L637.7,500.1 L638.0,501.1 L638.3,500.6 L638.6,499.2 L638.9,499.3 L639.2,499.1 L639.5,498.2 L639.7,497.8 L640.0,497.5 L640.3,496.8 L640.6,497.2 L640.9,496.8 L641.2,496.2 L641.5,495.9 L641.8,495.6 L642.1,495.7 L642.4,495.2 L642.7,494.8 L643.0,494.9 L643.3,494.4 L643.7,494.0 L644.0,493.7 L644.3,494.4 L644.6,493.3 L644.9,492.2 L645.2,493.3 L645.5,493.2 L645.8,492.5 L646.1,493.3 L646.4,493.3 L646.7,491.9 L647.0,491.5 L647.3,491.7 L647.6,490.4 L647.9,490.2 L648.2,489.9 L648.5,489.2 L648.8,489.8 L649.0,490.0 L649.3,489.7 L649.6,489.4 L649.9,490.0 L650.2,489.5 L650.5,490.1 L650.8,489.1 L651.1,489.7 L651.4,489.4 L651.7,489.1 L652.0,489.4 L652.3,490.3 L652.6,489.5 L652.9,490.3 L653.2,489.7 L653.5,491.3 L653.8,491.5 L654.1,491.8 L654.4,492.6 L654.7,493.6 L655.0,493.7 L655.3,494.3 L655.6,495.2 L655.9,494.7 L656.2,494.6 L656.5,495.1 L656.8,495.2 L657.1,494.7 L657.4,495.9 L657.7,494.2 L658.0,495.7 L658.3,495.3 L658.6,496.2 L658.9,496.8 L659.2,497.1 L659.5,497.4 L659.8,496.9 L660.1,496.7 L660.4,496.2 L660.7,496.2 L661.0,494.8 L661.3,494.9 L661.6,495.1 L661.9,494.6 L662.2,494.8 L662.5,494.8 L662.9,493.2 L663.2,492.8 L663.5,493.3 L663.8,492.9 L664.1,493.0 L664.4,492.2 L664.7,492.0 L665.0,491.8 L665.3,492.0 L665.6,491.4 L665.9,491.4 L666.2,490.7 L666.5,490.0 L666.8,490.7 L667.1,490.9 L667.4,490.3 L667.7,491.2 L668.0,490.7 L668.3,491.2 L668.7,491.3 L669.0,490.1 L669.3,489.3 L669.6,489.9 L669.9,490.1 L670.2,490.8 L670.5,490.2 L670.8,489.4 L671.1,489.7 L671.4,488.0 L671.7,488.4 L672.0,489.0 L672.3,489.9 L672.6,488.8 L672.9,488.4 L673.2,488.9 L673.5,488.5 L673.8,489.2 L674.1,490.2 L674.4,490.2 L674.7,491.1 L675.0,491.3 L675.3,490.8 L675.6,491.2 L675.9,490.3 L676.2,490.3 L676.5,490.9 L676.8,489.1 L677.1,490.6 L677.4,491.8 L677.7,490.6 L678.0,492.2 L678.3,493.3 L678.6,492.0 L678.9,493.7 L679.2,494.0 L679.5,493.8 L679.8,494.6 L680.2,493.2 L680.5,495.4 L680.8,494.8 L681.1,495.6 L681.4,495.5 L681.7,497.1 L682.0,496.0 L682.3,495.3 L682.6,496.1 L682.9,494.9 L683.2,494.3 L683.5,494.1 L683.8,493.3 L684.1,493.0 L684.4,493.5 L684.7,491.9 L685.0,491.7 L685.3,491.7 L685.6,492.0 L685.9,491.4 L686.2,490.5 L686.5,491.2 L686.8,491.0 L687.1,490.6 L687.4,490.1 L687.7,490.5 L688.0,490.3 L688.3,491.7 L688.6,491.9 L688.9,493.8 L689.2,493.9 L689.5,492.2 L689.8,492.1 L690.1,490.8 L690.4,491.2 L690.7,490.8 L691.0,491.4 L691.3,490.5 L691.6,490.3 L691.9,491.4 L692.2,490.7 L692.5,492.1 L692.8,491.8 L693.1,492.2 L693.4,491.8 L693.7,492.2 L694.0,491.3 L694.3,490.4 L694.6,491.3 L694.9,491.8 L695.2,491.9 L695.5,491.8 L695.8,492.3 L696.1,491.1 L696.4,491.5 L696.7,491.7 L697.0,491.6 L697.3,492.2 L697.6,491.2 L697.9,490.5 L698.2,492.2 L698.5,492.0 L698.8,492.4 L699.1,491.5 L699.4,492.8 L699.7,492.9 L700.0,492.6 L700.3,492.3 L700.6,492.2 L700.9,491.1 L701.2,492.0 L701.5,491.7 L701.8,491.6 L702.1,491.8 L702.4,490.5 L702.7,489.8 L703.0,489.8 L703.3,489.3 L703.6,490.0 L703.9,489.1 L704.2,489.8 L704.5,489.8 L704.8,489.5 L705.1,487.6 L705.4,488.0 L705.7,487.9 L706.0,487.0 L706.3,486.6 L706.6,486.6 L706.9,485.2 L707.2,484.1 L707.5,485.1 L707.8,484.3 L708.1,484.9 L708.4,484.4 L708.7,484.2 L709.0,483.7 L709.3,484.2 L709.6,485.1 L709.9,486.0 L710.2,484.7 L710.5,484.8 L710.8,485.9 L711.1,486.3 L711.4,484.9 L711.7,484.5 L712.0,484.7 L712.3,484.9 L712.6,483.7 L712.9,483.7 L713.2,483.0 L713.5,482.8 L713.8,482.8 L714.1,482.2 L714.4,481.9 L714.7,481.4 L715.0,482.8 L715.3,482.0 L715.6,481.1 L715.9,482.1 L716.2,482.4 L716.5,482.5 L716.8,480.7 L717.1,481.1 L717.4,480.2 L717.7,480.2 L718.0,481.3 L718.3,480.6 L718.6,481.2 L718.9,481.3 L719.2,482.1 L719.5,481.8 L719.8,482.2 L720.2,483.2 L720.5,480.9 L720.8,479.7 L721.1,479.7 L721.4,480.5 L721.7,480.5 L722.0,481.0 L722.3,480.4 L722.6,481.3 L722.9,481.4 L723.2,481.6 L723.5,481.4 L723.8,482.1 L724.1,481.4 L724.4,481.2 L724.7,481.5 L725.0,481.7 L725.3,481.0 L725.6,480.6 L725.9,482.2 L726.2,482.4 L726.5,481.8 L726.8,482.5 L727.1,482.4 L727.4,483.6 L727.7,484.2 L728.0,484.0 L728.3,483.9 L728.6,484.7 L728.9,484.6 L729.2,484.4 L729.5,483.4 L729.8,483.9 L730.1,483.4 L730.4,483.1 L730.6,482.4 L730.9,481.7 L731.2,482.6 L731.5,482.1 L731.8,481.9 L732.1,483.0 L732.4,482.2 L732.7,482.0 L733.0,481.8 L733.3,483.2 L733.6,482.2 L733.9,482.4 L734.2,482.9 L734.5,482.1 L734.8,482.8 L735.1,483.4 L735.4,484.4 L735.7,483.6 L736.0,484.2 L736.3,484.4 L736.6,484.8 L736.9,484.4 L737.2,485.2 L737.5,485.5 L737.8,486.5 L738.1,486.9 L738.4,486.3 L738.7,487.3 L739.0,487.4 L739.3,487.8 L739.6,487.9 L739.9,487.9 L740.2,488.4 L740.5,487.7 L740.8,486.9 L741.1,489.0 L741.4,487.4 L741.6,486.6 L741.9,486.1 L742.2,485.9 L742.5,485.9 L742.8,486.4 L743.1,486.0 L743.4,485.8 L743.7,485.6 L744.0,485.5 L744.3,487.0 L744.6,486.4 L744.9,487.0 L745.2,487.3 L745.5,486.5 L745.8,489.0 L746.1,489.0 L746.4,488.3 L746.7,488.8 L747.0,489.5 L747.3,488.2 L747.6,488.1 L747.9,489.3 L748.2,488.6 L748.5,487.8 L748.8,487.3 L749.1,486.0 L749.4,484.8 L749.6,485.0 L749.9,485.1 L750.2,485.0 L750.5,483.9 L750.8,484.6 L751.1,482.9 L751.4,482.1 L751.7,482.3 L752.0,483.1 L752.3,482.8 L752.6,482.8 L752.9,483.2 L753.2,482.9 L753.5,482.6 L753.8,483.4 L754.1,482.4 L754.4,481.9 L754.7,481.4 L755.0,481.6 L755.3,481.3 L755.6,479.8 L755.9,479.3 L756.2,480.0 L756.5,480.1 L756.8,480.2 L757.1,479.4 L757.4,478.3 L757.7,478.9 L758.0,478.4 L758.3,479.5 L758.6,479.6 L758.9,479.2 L759.2,479.0 L759.5,478.7 L759.8,479.3 L760.1,477.5 L760.4,476.3 L760.6,475.4 L760.9,474.0 L761.2,474.4 L761.5,475.4 L761.8,474.7 L762.1,474.8 L762.4,473.6 L762.7,472.8 L763.0,474.4 L763.3,473.2 L763.6,474.4 L763.9,473.4 L764.2,474.4 L764.5,474.3 L764.8,475.7 L765.1,474.6 L765.4,474.4 L765.6,475.0 L765.9,475.4 L766.2,475.2 L766.5,476.3 L766.8,476.3 L767.1,476.4 L767.4,476.5 L767.7,476.8 L768.0,476.1 L768.3,476.2 L768.6,476.3 L768.9,476.9 L769.2,475.5 L769.5,475.4 L769.8,474.7 L770.1,475.0 L770.4,475.6 L770.7,473.5 L771.0,473.2 L771.3,473.1 L771.6,473.7 L771.9,472.1 L772.2,471.8 L772.5,471.3 L772.8,472.4 L773.1,472.3 L773.4,470.9 L773.7,472.5 L774.0,472.2 L774.3,474.4 L774.6,473.7 L774.9,473.6 L775.2,474.5 L775.5,474.3 L775.8,473.7 L776.1,473.8 L776.4,475.8 L776.7,474.7 L777.0,473.5 L777.3,473.4 L777.6,472.9 L777.9,473.9 L778.2,472.5 L778.5,472.6 L778.8,470.8 L779.1,470.7 L779.4,470.5 L779.7,471.2 L780.0,469.6 L780.3,469.8 L780.6,468.7 L780.9,465.5 L781.2,468.2 L781.5,467.6 L781.8,468.0 L782.1,468.7 L782.4,470.6 L782.7,469.1 L783.0,468.9 L783.3,468.2 L783.6,467.5 L783.9,468.9 L784.2,469.2 L784.5,469.2 L784.8,469.0 L785.1,468.4 L785.4,466.9 L785.7,467.7 L786.0,467.6 L786.3,466.4 L786.6,464.4 L786.9,466.2 L787.2,465.2 L787.5,464.9 L787.8,466.0 L788.1,465.9 L788.4,463.6 L788.7,464.1 L789.0,463.4 L789.3,464.9 L789.6,463.6 L789.9,465.1 L790.2,464.4 L790.5,463.5 L790.8,463.8 L791.1,464.1 L791.4,464.9 L791.7,465.3 L792.0,464.7 L792.3,465.2 L792.6,467.0 L792.9,467.2 L793.2,468.2 L793.5,468.8 L793.8,468.2 L794.1,468.8 L794.4,467.3 L794.6,467.2 L794.9,467.6 L795.2,468.4 L795.5,468.8 L795.8,468.0 L796.1,469.8 L796.4,470.6 L796.7,470.1 L797.0,471.8 L797.3,469.6 L797.6,470.1 L797.9,470.4 L798.2,470.7 L798.5,470.3 L798.8,470.4 L799.2,470.1 L799.5,468.7 L799.8,469.2 L800.1,469.0 L800.4,468.0 L800.7,470.2 L801.0,467.2 L801.3,467.4 L801.6,467.1 L801.9,467.9 L802.2,467.8 L802.5,467.2 L802.8,466.4 L803.1,466.0 L803.4,465.3 L803.6,464.4 L803.9,465.5 L804.2,464.9 L804.5,465.7 L804.8,466.5 L805.1,466.3 L805.4,464.6 L805.7,463.0 L806.0,462.5 L806.3,462.3 L806.6,463.3 L806.9,464.0 L807.2,464.1 L807.5,463.9 L807.8,466.1 L808.1,467.0 L808.4,466.5 L808.6,468.3 L808.9,466.9 L809.2,467.4 L809.5,466.8 L809.8,467.5 L810.1,466.6 L810.4,467.4 L810.7,465.8 L811.0,465.6 L811.3,465.0 L811.6,465.8 L811.9,465.0 L812.2,466.4 L812.5,465.8 L812.8,466.4 L813.1,466.1 L813.4,465.9 L813.7,464.8 L814.0,465.3 L814.3,465.1 L814.6,464.9 L814.9,464.8 L815.2,464.9 L815.5,466.3 L815.8,465.3 L816.1,465.0 L816.4,463.9 L816.7,463.7 L817.0,463.1 L817.3,462.9 L817.6,461.1 L817.9,462.0 L818.2,461.3 L818.5,461.1 L818.8,461.2 L819.1,461.0 L819.4,460.2 L819.6,460.8 L819.9,460.0 L820.2,459.1 L820.5,460.3 L820.8,459.4 L821.1,457.1 L821.4,456.8 L821.7,456.9 L822.0,457.4 L822.3,456.8 L822.6,457.2 L822.9,458.5 L823.2,458.8 L823.5,460.1 L823.8,458.7 L824.1,459.9 L824.4,460.1 L824.7,458.9 L825.0,459.3 L825.3,460.6 L825.6,462.0 L825.9,461.0 L826.2,462.0 L826.5,462.7 L826.8,463.9 L827.1,463.8 L827.4,462.8 L827.7,465.8 L828.0,466.7 L828.3,466.7 L828.6,465.4 L828.9,464.9 L829.2,463.1 L829.5,462.9 L829.8,462.1 L830.1,461.6 L830.4,461.2 L830.7,458.7 L831.0,459.7 L831.3,460.1 L831.6,459.8 L831.9,459.9 L832.2,459.7 L832.5,458.7 L832.8,459.4 L833.1,459.2 L833.4,459.5 L833.7,458.6 L834.0,458.2 L834.3,456.9 L834.6,458.5 L834.9,459.1 L835.2,457.9 L835.5,457.5 L835.8,457.4 L836.2,457.8 L836.5,459.0 L836.8,458.3 L837.1,459.4 L837.4,458.0 L837.7,460.9 L838.0,461.4 L838.3,461.0 L838.6,459.8 L838.9,460.3 L839.2,458.7 L839.5,459.0 L839.8,459.2 L840.2,458.7 L840.5,459.4 L840.8,458.5 L841.1,458.1 L841.4,457.5 L841.7,456.4 L842.0,455.6 L842.3,455.1 L842.6,456.0 L842.9,455.1 L843.2,455.9 L843.5,456.9 L843.8,455.4 L844.1,455.9 L844.4,454.0 L844.7,453.8 L845.0,454.1 L845.3,454.5 L845.7,453.8 L846.0,453.3 L846.3,451.6 L846.6,452.5 L846.9,451.6 L847.2,451.4 L847.5,451.8 L847.8,452.6 L848.1,452.7 L848.4,452.5 L848.7,453.5 L849.0,453.2 L849.3,450.5 L849.6,452.3 L849.9,453.2 L850.2,453.9 L850.5,453.5 L850.8,453.2 L851.2,453.6 L851.5,454.7 L851.8,454.9 L852.1,456.4 L852.4,456.2 L852.7,457.1 L853.0,456.3 L853.3,455.0 L853.6,455.3 L853.9,453.7 L854.2,454.8 L854.5,452.5 L854.8,451.6 L855.2,450.9 L855.5,450.0 L855.8,448.7 L856.1,450.3 L856.4,451.2 L856.7,449.1 L857.0,449.3 L857.3,449.2 L857.6,449.9 L857.9,449.2 L858.2,448.2 L858.5,449.4 L858.8,448.4 L859.1,449.1 L859.4,448.2 L859.7,447.7 L860.0,448.5 L860.3,447.9 L860.6,447.9 L860.9,449.0 L861.2,447.7 L861.5,447.2 L861.8,446.5 L862.1,447.0 L862.4,446.7 L862.7,445.8 L863.0,446.9 L863.3,446.8 L863.6,446.8 L863.9,447.2 L864.2,449.3 L864.5,448.7 L864.8,449.0 L865.2,447.6 L865.5,447.8 L865.8,447.0 L866.1,448.1 L866.4,449.5 L866.7,448.8 L867.0,450.4 L867.3,450.4 L867.6,451.3 L867.9,451.0 L868.1,452.5 L868.4,453.2 L868.7,453.0 L869.0,454.0 L869.3,454.7 L869.6,454.4 L869.9,453.5 L870.2,453.5 L870.5,451.9 L870.8,452.3 L871.1,451.0 L871.4,452.4 L871.7,452.2 L872.0,451.6 L872.3,452.0 L872.6,452.2 L872.9,452.1 L873.2,451.1 L873.5,451.0 L873.8,450.7 L874.1,450.7 L874.4,451.9 L874.7,452.3 L875.0,451.9 L875.3,453.2 L875.6,452.3 L875.9,452.2 L876.2,451.7 L876.5,452.5 L876.8,452.7 L877.2,452.0 L877.5,452.5 L877.8,450.7 L878.1,450.7 L878.4,450.6 L878.7,448.9 L879.0,448.9 L879.3,446.8 L879.6,448.3 L879.9,448.7 L880.2,448.0 L880.5,451.0 L880.8,449.8 L881.1,449.2 L881.4,449.1 L881.7,449.8 L882.0,450.4 L882.3,450.1 L882.6,449.1 L882.9,448.6 L883.2,448.0 L883.5,448.2 L883.8,448.5 L884.1,447.6 L884.4,449.1 L884.7,448.5 L885.0,447.7 L885.3,449.4 L885.6,449.5 L885.9,450.4 L886.2,449.4 L886.5,453.2 L886.8,452.3 L887.1,453.0 L887.4,453.8 L887.7,454.1 L888.0,453.5 L888.3,454.5 L888.6,454.1 L888.9,455.1 L889.2,454.3 L889.5,455.2 L889.8,456.8 L890.2,457.4 L890.5,458.2 L890.8,457.5 L891.1,457.8 L891.4,458.6 L891.7,458.3 L892.0,461.6 L892.3,460.2 L892.6,458.8 L892.9,459.7 L893.2,459.6 L893.5,458.2 L893.8,457.8 L894.1,456.9 L894.4,455.9 L894.7,456.6 L895.0,455.6 L895.3,456.6 L895.6,456.3 L895.9,459.4 L896.2,459.9 L896.5,461.1 L896.8,461.2 L897.1,461.9 L897.4,463.6 L897.7,463.9 L898.0,465.0 L898.3,467.0 L898.6,468.7 L899.0,470.9 L899.3,472.1 L899.6,475.1 L899.9,474.0 L900.2,474.5 L900.5,473.5 L900.8,471.7 L901.1,470.2 L901.4,469.7 L901.7,470.3 L902.0,469.8 L902.3,469.3 L902.6,468.4 L902.9,466.7 L903.2,467.4 L903.5,465.9 L903.8,465.1 L904.1,464.4 L904.4,463.8 L904.7,461.3 L905.0,460.6 L905.3,459.1 L905.6,460.1 L905.9,459.7 L906.2,457.2 L906.5,459.2 L906.8,457.6 L907.1,456.6 L907.4,455.8 L907.6,455.6 L907.9,454.6 L908.2,453.4 L908.5,453.3 L908.8,454.0 L909.1,453.3 L909.4,453.2 L909.7,455.2 L910.0,454.1 L910.3,455.0 L910.6,455.3 L910.9,455.8 L911.2,455.6 L911.5,455.5 L911.8,456.0 L912.1,456.5 L912.4,455.4 L912.7,456.5 L913.0,455.7 L913.3,453.0 L913.6,454.8 L913.9,453.0 L914.2,454.0 L914.5,453.5 L914.8,454.2 L915.1,453.1 L915.4,454.2 L915.6,455.1 L915.9,452.3 L916.2,452.4 L916.5,452.7 L916.8,450.3 L917.1,452.0 L917.4,452.8 L917.7,451.4 L918.0,449.5 L918.3,450.0 L918.6,449.9 L918.9,449.1 L919.2,447.4 L919.5,448.0 L919.8,446.7 L920.1,446.4 L920.4,446.8 L920.6,445.8 L920.9,445.5 L921.2,446.5 L921.5,445.9 L921.8,446.2 L922.1,444.3 L922.4,445.8 L922.7,445.3 L923.0,444.3 L923.3,445.2 L923.6,445.2 L923.9,444.7 L924.2,445.6 L924.5,444.4 L924.8,445.1 L925.1,445.6 L925.4,442.4 L925.7,442.7 L926.0,441.8 L926.3,441.7 L926.6,443.6 L926.9,441.3 L927.2,443.5 L927.5,441.8 L927.8,441.7 L928.1,441.3 L928.4,441.7 L928.7,440.5 L929.0,440.2 L929.3,439.9 L929.6,439.2 L929.9,440.9 L930.2,441.5 L930.5,441.6 L930.8,442.4 L931.1,442.8 L931.4,443.0 L931.7,444.4 L932.0,442.8 L932.3,442.8 L932.6,442.8 L932.9,442.4 L933.2,441.4 L933.5,441.7 L933.8,442.3 L934.2,441.6 L934.5,441.7 L934.8,439.7 L935.1,439.1 L935.4,439.0 L935.7,438.8 L936.0,436.9 L936.3,437.0 L936.6,437.6 L936.9,437.4 L937.2,436.4 L937.5,437.4 L937.8,436.2 L938.1,436.6 L938.4,435.8 L938.6,435.2 L938.9,433.8 L939.2,434.5 L939.5,436.9 L939.8,435.9 L940.1,435.0 L940.4,434.4 L940.7,433.6 L941.0,432.9 L941.3,433.7 L941.6,434.0 L941.9,434.1 L942.2,433.8 L942.5,435.3 L942.8,437.9 L943.1,435.9 L943.4,436.1 L943.7,434.6 L944.0,436.3 L944.3,436.5 L944.6,435.2 L944.9,434.0 L945.2,432.4 L945.5,432.2 L945.8,432.5 L946.1,432.7 L946.4,431.5 L946.7,429.5 L947.0,428.6 L947.3,427.9 L947.6,426.9 L947.9,426.6 L948.2,427.6 L948.5,427.3 L948.8,427.9 L949.1,427.3 L949.4,427.7 L949.6,428.5 L949.9,428.8 L950.2,429.6 L950.5,429.6 L950.8,429.1 L951.1,428.8 L951.4,429.8 L951.7,427.7 L952.0,430.5 L952.3,429.9 L952.6,428.7 L952.9,427.9 L953.2,428.3 L953.5,427.5 L953.8,428.8 L954.1,428.0 L954.4,429.2 L954.6,426.5 L954.9,428.4 L955.2,429.1 L955.5,428.4 L955.8,427.3 L956.1,427.5 L956.4,427.3 L956.7,424.3 L957.0,425.1 L957.3,423.9 L957.6,423.3 L957.9,426.3 L958.2,425.2 L958.5,425.2 L958.8,425.2 L959.1,426.4 L959.4,424.9 L959.6,425.5 L959.9,429.2 L960.2,427.6 L960.5,428.9 L960.8,429.3 L961.1,426.7 L961.4,427.2 L961.7,427.4 L962.0,427.0 L962.3,427.5 L962.6,426.8 L962.9,426.1 L963.2,425.0 L963.5,425.0 L963.8,425.0 L964.2,426.6 L964.5,423.4 L964.8,426.2 L965.1,426.0 L965.4,427.2 L965.7,427.5 L966.0,430.0 L966.3,427.8 L966.6,426.2 L966.9,426.9 L967.2,427.8 L967.5,428.3 L967.8,428.7 L968.2,427.3 L968.5,427.3 L968.8,427.0 L969.1,427.1 L969.4,426.4 L969.7,425.0 L970.0,424.2 L970.3,423.8 L970.6,420.9 L970.9,421.3 L971.2,423.7 L971.5,425.2 L971.8,426.0 L972.1,425.5 L972.4,426.4 L972.7,426.7 L973.0,426.3 L973.3,425.5 L973.6,426.6 L973.9,425.7 L974.2,424.3 L974.5,423.9 L974.8,421.8 L975.1,421.2 L975.4,423.0 L975.6,420.5 L975.9,419.2 L976.2,419.6 L976.5,419.2 L976.8,418.7 L977.1,420.7 L977.4,420.4 L977.7,419.7 L978.0,422.2 L978.3,422.8 L978.7,423.6 L979.0,421.5" stroke="#a98567" stroke-width="3.2"/>
<path d="M30.0,539.2 L30.3,539.0 L30.6,538.8 L30.9,538.6 L31.2,538.6 L31.5,538.1 L31.8,538.5 L32.1,538.0 L32.4,537.8 L32.7,537.3 L33.0,537.5 L33.3,536.8 L33.6,536.7 L33.9,536.0 L34.2,536.1 L34.5,536.5 L34.8,536.7 L35.1,536.3 L35.4,536.8 L35.7,537.3 L36.0,536.2 L36.3,536.3 L36.6,536.1 L36.9,535.2 L37.2,536.2 L37.5,536.2 L37.8,536.2 L38.1,536.2 L38.4,536.3 L38.7,536.5 L39.0,536.8 L39.3,536.5 L39.6,536.7 L39.9,538.0 L40.1,537.1 L40.4,536.9 L40.7,537.8 L41.0,538.1 L41.3,537.6 L41.6,538.2 L41.9,537.8 L42.2,537.5 L42.5,538.3 L42.8,538.1 L43.1,538.2 L43.4,539.2 L43.7,539.4 L44.0,539.2 L44.3,539.3 L44.6,538.9 L44.9,539.1 L45.2,539.6 L45.5,540.2 L45.8,540.4 L46.1,540.1 L46.4,540.0 L46.7,539.7 L47.0,540.4 L47.3,539.7 L47.6,540.1 L47.9,539.5 L48.2,538.4 L48.5,539.3 L48.8,538.9 L49.1,538.8 L49.4,538.8 L49.7,538.8 L50.0,539.4 L50.3,538.4 L50.6,538.6 L50.9,538.2 L51.2,538.9 L51.5,538.4 L51.8,538.2 L52.1,538.4 L52.4,538.2 L52.7,538.7 L53.0,537.9 L53.3,537.7 L53.6,538.0 L53.9,538.9 L54.2,538.8 L54.5,538.4 L54.8,538.2 L55.1,538.4 L55.4,538.4 L55.7,537.9 L56.0,538.6 L56.3,538.3 L56.6,538.5 L56.9,538.3 L57.2,538.2 L57.5,538.7 L57.8,538.8 L58.1,538.9 L58.4,538.0 L58.7,538.3 L59.0,538.0 L59.3,538.3 L59.6,537.0 L59.9,538.0 L60.1,537.5 L60.4,537.6 L60.7,538.3 L61.0,538.1 L61.3,537.0 L61.6,537.4 L61.9,538.2 L62.2,538.3 L62.5,538.8 L62.8,538.0 L63.1,538.3 L63.4,537.7 L63.7,538.2 L64.0,538.2 L64.3,538.4 L64.6,538.2 L64.9,538.9 L65.2,538.7 L65.5,539.9 L65.8,539.4 L66.1,538.0 L66.4,538.1 L66.7,538.2 L67.0,538.1 L67.3,538.8 L67.6,538.7 L67.9,538.7 L68.2,538.8 L68.5,537.5 L68.8,538.0 L69.1,538.1 L69.4,538.1 L69.7,537.7 L70.0,538.2 L70.3,537.8 L70.6,537.4 L70.9,537.6 L71.2,537.0 L71.5,537.0 L71.8,536.4 L72.1,536.1 L72.4,536.4 L72.7,535.9 L73.0,536.4 L73.3,537.4 L73.6,537.0 L73.9,537.0 L74.2,537.1 L74.5,536.9 L74.8,536.7 L75.1,536.4 L75.4,536.6 L75.7,537.1 L76.0,536.2 L76.3,536.2 L76.6,536.2 L76.9,536.6 L77.2,536.5 L77.5,536.9 L77.8,536.5 L78.1,536.6 L78.4,535.6 L78.7,536.6 L79.0,535.4 L79.3,535.8 L79.6,535.6 L79.9,535.5 L80.1,536.2 L80.4,536.2 L80.7,536.5 L81.0,536.7 L81.3,536.9 L81.6,536.8 L81.9,537.0 L82.2,537.0 L82.5,537.2 L82.8,536.4 L83.1,537.0 L83.4,537.0 L83.7,537.3 L84.0,536.9 L84.3,536.7 L84.6,535.7 L84.9,536.0 L85.2,535.4 L85.5,536.4 L85.8,536.5 L86.1,536.7 L86.4,536.3 L86.7,536.4 L87.0,536.3 L87.3,536.3 L87.6,536.1 L87.9,536.3 L88.2,536.6 L88.5,537.9 L88.8,536.7 L89.1,536.6 L89.4,536.8 L89.7,536.1 L90.0,535.7 L90.3,536.5 L90.6,535.7 L90.9,536.0 L91.2,536.0 L91.5,535.9 L91.8,535.1 L92.1,535.4 L92.4,535.6 L92.7,535.0 L93.0,535.7 L93.3,536.1 L93.6,535.4 L93.9,535.9 L94.2,535.8 L94.5,536.1 L94.8,535.4 L95.1,535.7 L95.4,536.8 L95.7,536.5 L96.0,536.4 L96.3,537.5 L96.6,536.5 L96.9,536.5 L97.2,536.4 L97.5,535.6 L97.8,536.0 L98.1,536.1 L98.4,536.4 L98.7,536.3 L99.0,535.6 L99.3,535.9 L99.6,535.2 L99.9,535.5 L100.1,535.9 L100.4,535.5 L100.7,534.9 L101.0,535.9 L101.3,534.9 L101.6,534.6 L101.9,534.9 L102.2,535.1 L102.5,534.7 L102.8,534.9 L103.1,534.9 L103.4,534.5 L103.7,535.5 L104.0,535.3 L104.3,535.2 L104.6,535.4 L104.9,535.1 L105.2,533.9 L105.5,535.5 L105.8,535.4 L106.1,535.4 L106.4,535.4 L106.7,535.7 L107.0,535.6 L107.3,534.7 L107.6,535.3 L107.9,533.8 L108.2,534.6 L108.5,534.0 L108.8,534.6 L109.1,534.4 L109.4,534.0 L109.7,534.1 L110.0,533.6 L110.3,532.8 L110.6,533.0 L110.9,532.9 L111.2,533.4 L111.5,533.1 L111.8,532.7 L112.1,533.0 L112.4,532.6 L112.7,531.8 L113.0,532.1 L113.3,532.0 L113.6,531.8 L113.9,531.1 L114.2,532.0 L114.5,531.4 L114.8,531.6 L115.1,531.2 L115.4,531.5 L115.7,531.1 L116.0,531.3 L116.3,530.6 L116.6,531.3 L116.9,531.2 L117.2,531.5 L117.5,531.3 L117.8,531.0 L118.1,532.2 L118.4,532.0 L118.7,531.7 L119.0,531.9 L119.3,531.1 L119.6,532.4 L119.9,531.9 L120.1,532.0 L120.4,531.9 L120.7,531.4 L121.0,531.7 L121.3,531.9 L121.6,531.4 L121.9,531.6 L122.2,531.7 L122.5,531.9 L122.8,531.6 L123.1,530.8 L123.4,531.1 L123.7,531.4 L124.0,531.1 L124.3,530.4 L124.6,531.9 L124.9,531.3 L125.2,531.9 L125.5,532.1 L125.8,532.5 L126.1,531.8 L126.4,533.2 L126.7,532.8 L127.0,532.4 L127.3,532.4 L127.6,532.4 L127.9,531.6 L128.2,531.9 L128.5,532.6 L128.8,532.9 L129.1,532.5 L129.4,533.1 L129.7,532.1 L130.0,531.2 L130.3,532.0 L130.6,531.3 L130.9,532.2 L131.2,530.8 L131.5,530.6 L131.8,529.7 L132.1,530.7 L132.4,530.7 L132.7,531.4 L133.0,531.7 L133.3,531.6 L133.6,531.1 L133.9,531.1 L134.1,530.7 L134.4,530.6 L134.7,530.6 L135.0,530.9 L135.3,529.9 L135.6,530.3 L135.9,531.3 L136.2,530.7 L136.5,530.6 L136.8,530.5 L137.1,530.2 L137.4,530.7 L137.7,530.8 L138.0,530.2 L138.3,529.5 L138.6,529.0 L138.9,528.7 L139.2,528.5 L139.5,529.5 L139.8,529.1 L140.1,528.8 L140.4,528.8 L140.6,529.4 L140.9,529.1 L141.2,530.1 L141.5,530.3 L141.8,529.2 L142.1,529.8 L142.4,529.8 L142.7,529.9 L143.0,530.0 L143.3,531.4 L143.6,531.0 L143.9,531.4 L144.2,532.1 L144.5,532.1 L144.8,532.8 L145.1,533.4 L145.4,533.8 L145.7,533.6 L146.0,534.0 L146.3,534.2 L146.6,534.9 L146.9,534.1 L147.2,533.6 L147.5,533.6 L147.8,533.0 L148.1,533.7 L148.4,533.3 L148.7,533.9 L149.0,534.1 L149.3,533.9 L149.6,534.0 L149.9,534.1 L150.1,534.1 L150.4,535.1 L150.7,534.9 L151.0,534.2 L151.3,534.3 L151.6,534.2 L151.9,534.4 L152.2,534.2 L152.5,534.9 L152.8,534.3 L153.1,534.7 L153.4,534.6 L153.7,534.0 L154.0,533.5 L154.3,533.5 L154.6,533.5 L154.9,534.0 L155.2,533.1 L155.5,533.4 L155.8,533.7 L156.1,533.8 L156.4,534.0 L156.7,534.1 L157.0,534.3 L157.3,534.0 L157.6,533.7 L157.9,533.5 L158.2,533.6 L158.5,533.5 L158.8,533.7 L159.1,534.8 L159.4,535.4 L159.7,536.3 L160.0,535.6 L160.3,534.9 L160.6,534.5 L160.9,534.9 L161.2,535.0 L161.5,534.9 L161.8,534.3 L162.1,533.7 L162.4,534.2 L162.7,534.2 L163.0,533.2 L163.3,533.2 L163.6,533.3 L163.9,533.5 L164.1,533.3 L164.4,533.4 L164.7,533.2 L165.0,534.3 L165.3,533.7 L165.6,533.9 L165.9,534.2 L166.2,533.6 L166.5,534.5 L166.8,533.9 L167.1,533.9 L167.4,533.7 L167.7,532.9 L168.0,532.8 L168.3,533.2 L168.6,533.4 L168.9,533.2 L169.2,533.8 L169.5,533.4 L169.8,533.0 L170.1,532.5 L170.4,533.2 L170.7,534.4 L171.0,534.2 L171.3,534.9 L171.6,534.6 L171.9,534.2 L172.2,533.5 L172.5,533.8 L172.8,533.9 L173.2,532.8 L173.5,533.5 L173.8,533.6 L174.1,533.0 L174.4,531.6 L174.7,531.9 L175.0,532.1 L175.3,531.5 L175.6,532.2 L175.9,532.2 L176.2,532.4 L176.5,531.7 L176.8,531.8 L177.1,532.4 L177.4,532.7 L177.7,532.9 L178.0,532.9 L178.3,532.5 L178.6,532.5 L178.9,533.3 L179.2,532.7 L179.5,531.9 L179.8,532.3 L180.1,532.1 L180.4,533.4 L180.7,531.8 L181.0,531.8 L181.3,532.7 L181.6,533.2 L181.9,533.4 L182.2,534.5 L182.5,533.5 L182.8,534.4 L183.2,534.1 L183.5,534.9 L183.8,534.4 L184.1,534.2 L184.4,534.8 L184.7,534.7 L185.0,534.9 L185.3,535.0 L185.6,534.5 L185.9,535.7 L186.2,535.0 L186.5,536.0 L186.8,535.2 L187.1,534.6 L187.4,534.6 L187.7,534.6 L188.0,533.7 L188.3,533.8 L188.6,533.8 L188.9,533.0 L189.2,533.4 L189.5,533.0 L189.8,532.7 L190.1,533.5 L190.4,533.5 L190.7,534.2 L191.0,533.9 L191.3,533.7 L191.6,534.3 L191.9,534.6 L192.2,533.7 L192.5,534.0 L192.8,534.1 L193.1,534.5 L193.4,534.2 L193.7,535.5 L194.0,535.4 L194.3,535.4 L194.6,535.4 L194.9,536.0 L195.2,535.2 L195.5,535.2 L195.8,535.3 L196.1,536.4 L196.4,535.5 L196.7,534.5 L197.0,534.5 L197.3,534.1 L197.6,534.1 L197.9,534.8 L198.2,534.2 L198.5,534.1 L198.8,533.8 L199.1,534.3 L199.4,534.3 L199.7,534.1 L200.0,533.8 L200.3,533.8 L200.6,533.6 L200.9,534.0 L201.2,534.1 L201.5,532.9 L201.8,533.7 L202.1,533.0 L202.4,533.3 L202.7,533.0 L203.0,533.1 L203.3,533.3 L203.6,533.7 L203.9,533.7 L204.1,534.0 L204.4,533.9 L204.7,534.0 L205.0,533.6 L205.3,533.7 L205.6,533.5 L205.9,533.6 L206.2,534.4 L206.5,533.5 L206.8,534.1 L207.1,534.4 L207.4,534.9 L207.7,534.5 L208.0,535.4 L208.3,535.6 L208.6,535.2 L208.9,535.3 L209.2,535.9 L209.5,535.2 L209.8,534.7 L210.2,534.5 L210.5,534.9 L210.8,533.5 L211.1,535.4 L211.4,533.9 L211.7,534.3 L212.0,533.9 L212.3,534.2 L212.6,534.0 L212.9,534.5 L213.2,534.3 L213.5,535.2 L213.8,534.3 L214.1,534.3 L214.4,534.8 L214.7,535.1 L215.0,535.0 L215.3,535.3 L215.6,534.8 L215.9,535.6 L216.2,535.3 L216.5,534.9 L216.8,535.6 L217.1,535.9 L217.4,535.1 L217.7,535.3 L218.0,535.7 L218.3,535.3 L218.6,535.6 L218.9,536.3 L219.2,536.6 L219.5,536.2 L219.8,537.0 L220.1,536.3 L220.4,536.3 L220.7,536.6 L221.0,536.4 L221.3,536.6 L221.6,536.5 L221.9,536.8 L222.1,535.9 L222.4,536.6 L222.7,536.0 L223.0,536.3 L223.3,536.3 L223.6,535.7 L223.9,536.6 L224.2,536.0 L224.5,536.8 L224.8,536.8 L225.1,536.6 L225.4,536.7 L225.7,536.2 L226.0,536.7 L226.3,537.7 L226.6,537.6 L226.9,537.1 L227.2,537.7 L227.5,537.4 L227.8,536.9 L228.2,538.1 L228.5,537.6 L228.8,538.0 L229.1,537.2 L229.4,537.2 L229.7,537.5 L230.0,538.2 L230.3,537.7 L230.6,537.9 L230.9,538.4 L231.2,538.2 L231.5,538.4 L231.8,538.1 L232.2,538.5 L232.5,539.2 L232.8,538.9 L233.1,539.3 L233.4,540.3 L233.7,539.7 L234.0,539.5 L234.3,539.8 L234.6,540.1 L234.9,541.0 L235.2,541.0 L235.5,541.4 L235.8,541.7 L236.1,542.4 L236.4,542.3 L236.6,542.5 L236.9,542.1 L237.2,542.0 L237.5,542.5 L237.8,542.5 L238.1,542.9 L238.4,543.0 L238.7,542.5 L239.0,542.5 L239.3,542.5 L239.6,542.7 L239.9,542.7 L240.2,541.8 L240.5,541.8 L240.8,542.0 L241.1,541.8 L241.4,541.5 L241.6,541.6 L241.9,541.1 L242.2,540.5 L242.5,540.1 L242.8,540.5 L243.1,539.3 L243.4,539.8 L243.7,540.0 L244.0,539.8 L244.3,539.4 L244.6,538.7 L244.9,538.8 L245.2,537.8 L245.5,538.4 L245.8,538.7 L246.1,538.2 L246.4,538.7 L246.7,538.3 L247.0,538.6 L247.3,537.7 L247.6,538.0 L247.9,537.8 L248.2,537.3 L248.5,537.4 L248.8,537.1 L249.1,537.4 L249.4,537.1 L249.7,537.8 L250.0,537.8 L250.3,537.2 L250.6,537.6 L250.9,537.7 L251.2,536.6 L251.5,536.9 L251.8,537.0 L252.1,537.2 L252.4,537.6 L252.7,536.4 L253.0,536.7 L253.3,536.9 L253.6,536.7 L253.9,536.8 L254.1,536.0 L254.4,536.7 L254.7,536.7 L255.0,535.7 L255.3,535.4 L255.6,535.5 L255.9,536.1 L256.2,536.6 L256.5,536.3 L256.8,536.9 L257.1,536.7 L257.4,536.7 L257.7,536.5 L258.0,536.5 L258.3,535.9 L258.6,536.1 L258.9,535.9 L259.2,535.1 L259.5,535.7 L259.8,535.8 L260.2,535.4 L260.5,535.0 L260.8,535.1 L261.1,534.2 L261.4,534.2 L261.7,535.0 L262.0,534.4 L262.3,535.1 L262.6,535.3 L262.9,534.7 L263.2,534.7 L263.5,534.1 L263.8,533.1 L264.2,533.0 L264.5,532.7 L264.8,532.6 L265.1,531.4 L265.4,531.5 L265.7,531.2 L266.0,531.2 L266.3,531.4 L266.6,531.4 L266.9,530.3 L267.2,530.2 L267.5,530.4 L267.8,530.8 L268.1,530.4 L268.4,530.3 L268.7,530.1 L269.0,529.6 L269.3,529.7 L269.6,529.1 L269.9,530.1 L270.2,529.8 L270.5,529.7 L270.8,529.1 L271.1,529.7 L271.4,529.0 L271.7,529.2 L272.0,529.6 L272.3,529.8 L272.6,529.2 L272.9,530.3 L273.2,529.8 L273.5,530.1 L273.8,529.0 L274.1,529.3 L274.4,529.8 L274.7,530.2 L275.0,529.8 L275.3,529.6 L275.6,530.3 L275.9,529.7 L276.2,529.8 L276.5,530.2 L276.8,529.9 L277.1,529.8 L277.4,530.1 L277.7,530.9 L278.0,531.6 L278.3,531.5 L278.6,531.2 L278.9,531.3 L279.2,530.9 L279.5,532.7 L279.8,531.9 L280.1,532.0 L280.4,531.9 L280.6,530.5 L280.9,531.2 L281.2,532.0 L281.5,531.2 L281.8,531.6 L282.1,532.1 L282.4,531.8 L282.7,532.4 L283.0,531.4 L283.3,532.0 L283.6,531.9 L283.9,532.6 L284.2,532.3 L284.5,532.8 L284.8,531.9 L285.1,532.5 L285.4,532.3 L285.7,531.7 L286.0,531.2 L286.3,530.7 L286.7,531.8 L287.0,531.1 L287.3,532.3 L287.6,532.2 L287.9,531.3 L288.2,531.3 L288.5,531.5 L288.8,531.6 L289.1,532.1 L289.4,531.3 L289.7,530.2 L290.0,529.9 L290.3,530.4 L290.6,530.9 L290.9,530.5 L291.2,530.7 L291.5,530.8 L291.8,530.2 L292.1,530.8 L292.4,530.7 L292.7,531.0 L293.0,532.3 L293.3,531.3 L293.6,530.8 L293.9,530.7 L294.2,530.6 L294.5,530.9 L294.8,530.2 L295.1,529.0 L295.4,529.3 L295.7,529.3 L296.0,528.7 L296.3,529.4 L296.6,529.3 L296.9,529.3 L297.2,529.2 L297.5,529.0 L297.8,528.1 L298.1,529.4 L298.4,528.8 L298.7,529.3 L299.0,529.6 L299.3,528.9 L299.6,529.5 L299.9,528.3 L300.2,528.9 L300.5,530.1 L300.8,529.6 L301.1,528.9 L301.4,529.6 L301.7,530.7 L302.0,530.2 L302.3,529.6 L302.6,529.7 L302.9,530.3 L303.2,530.5 L303.5,530.3 L303.8,530.5 L304.1,530.9 L304.4,531.3 L304.6,531.4 L304.9,531.9 L305.2,531.6 L305.5,531.3 L305.8,531.0 L306.1,532.6 L306.4,532.3 L306.7,532.2 L307.0,531.9 L307.3,532.6 L307.6,532.6 L307.9,532.6 L308.2,532.6 L308.5,532.9 L308.8,532.4 L309.1,532.5 L309.4,532.2 L309.7,531.8 L310.0,532.9 L310.3,533.0 L310.6,532.5 L310.9,531.9 L311.2,531.6 L311.5,532.9 L311.8,532.4 L312.1,531.8 L312.4,532.6 L312.7,533.0 L313.0,532.8 L313.3,532.4 L313.6,532.0 L313.9,530.8 L314.2,531.7 L314.5,531.7 L314.8,531.8 L315.1,532.3 L315.4,532.0 L315.7,532.0 L316.0,532.4 L316.3,532.4 L316.6,531.7 L316.9,532.1 L317.2,531.7 L317.5,531.8 L317.8,532.6 L318.1,532.1 L318.4,531.9 L318.7,531.8 L319.0,531.9 L319.3,531.8 L319.6,530.6 L319.9,530.8 L320.2,531.6 L320.5,531.9 L320.8,531.5 L321.1,530.9 L321.4,531.8 L321.7,530.8 L322.0,531.1 L322.3,531.4 L322.6,531.2 L322.9,530.7 L323.2,530.8 L323.5,530.8 L323.8,530.1 L324.1,530.7 L324.4,529.4 L324.7,530.2 L325.0,530.2 L325.3,530.2 L325.6,530.3 L325.9,530.0 L326.1,529.6 L326.4,529.5 L326.7,529.9 L327.0,529.6 L327.3,529.5 L327.6,530.2 L327.9,529.4 L328.2,530.0 L328.5,529.6 L328.8,531.2 L329.1,530.4 L329.4,530.4 L329.7,529.5 L330.0,529.2 L330.3,529.5 L330.6,528.8 L330.9,528.6 L331.2,529.2 L331.5,527.9 L331.8,528.5 L332.1,529.5 L332.4,528.8 L332.7,528.2 L333.0,528.4 L333.3,528.1 L333.6,527.6 L333.9,527.8 L334.1,529.0 L334.4,529.0 L334.7,528.5 L335.0,528.8 L335.3,527.8 L335.6,528.2 L335.9,528.0 L336.2,528.4 L336.5,527.8 L336.8,529.2 L337.1,529.5 L337.4,528.9 L337.7,529.1 L338.0,529.1 L338.3,529.4 L338.6,529.7 L338.9,530.0 L339.2,530.1 L339.5,529.5 L339.8,528.8 L340.1,528.8 L340.4,528.5 L340.7,529.2 L341.0,528.7 L341.3,528.4 L341.6,528.8 L341.9,528.6 L342.1,528.2 L342.4,527.8 L342.7,527.8 L343.0,528.1 L343.3,527.5 L343.6,528.6 L343.9,527.2 L344.2,528.0 L344.5,528.0 L344.8,527.9 L345.1,527.3 L345.4,528.2 L345.7,527.1 L346.0,526.9 L346.3,527.0 L346.6,526.5 L346.9,527.1 L347.2,526.9 L347.5,527.5 L347.8,526.2 L348.1,526.5 L348.4,526.4 L348.7,526.0 L349.0,527.1 L349.3,526.9 L349.6,527.2 L349.9,526.7 L350.2,526.3 L350.5,526.5 L350.8,527.4 L351.1,526.1 L351.4,526.2 L351.7,525.8 L352.0,525.5 L352.3,526.0 L352.6,526.0 L352.9,526.8 L353.2,526.0 L353.5,527.1 L353.8,526.4 L354.1,526.8 L354.4,526.1 L354.7,525.7 L355.0,526.0 L355.3,525.9 L355.6,526.1 L355.9,525.4 L356.2,526.0 L356.5,525.6 L356.8,525.1 L357.1,525.9 L357.4,524.8 L357.7,525.1 L358.0,525.2 L358.3,525.8 L358.6,526.2 L358.9,525.2 L359.2,525.9 L359.5,525.4 L359.8,525.7 L360.1,526.3 L360.4,526.6 L360.7,527.1 L361.0,526.8 L361.3,528.3 L361.6,529.0 L361.9,530.7 L362.1,530.9 L362.4,531.4 L362.7,532.4 L363.0,534.1 L363.3,535.0 L363.6,535.6 L363.9,536.8 L364.1,538.7 L364.4,539.3 L364.7,540.0 L365.0,540.8 L365.3,541.9 L365.6,543.0 L365.9,543.3 L366.1,544.4 L366.4,546.0 L366.7,546.2 L367.0,546.9 L367.3,547.7 L367.6,548.2 L367.9,548.9 L368.1,549.3 L368.4,549.2 L368.7,549.6 L369.0,549.8 L369.3,549.0 L369.6,549.4 L369.9,549.9 L370.1,550.0 L370.4,549.1 L370.7,550.1 L371.0,549.6 L371.3,547.8 L371.6,548.1 L371.9,547.5 L372.1,547.2 L372.4,547.7 L372.7,547.0 L373.0,546.6 L373.3,546.6 L373.6,545.7 L373.9,545.2 L374.2,544.9 L374.5,544.7 L374.7,544.7 L375.0,544.4 L375.3,543.9 L375.6,544.1 L375.9,543.7 L376.2,543.7 L376.5,543.2 L376.8,543.6 L377.1,543.3 L377.4,543.6 L377.7,543.5 L378.0,543.4 L378.3,543.1 L378.6,543.1 L378.9,543.9 L379.2,543.5 L379.5,544.0 L379.8,542.9 L380.1,541.9 L380.4,542.5 L380.7,542.1 L381.0,542.3 L381.3,543.0 L381.6,542.4 L381.9,542.1 L382.2,542.6 L382.5,542.1 L382.9,541.9 L383.2,541.9 L383.5,542.5 L383.8,543.0 L384.1,542.8 L384.4,542.9 L384.7,542.3 L385.0,543.1 L385.3,542.6 L385.6,542.4 L385.9,542.2 L386.2,542.1 L386.5,541.3 L386.8,541.4 L387.1,541.5 L387.4,540.5 L387.7,540.0 L388.0,540.0 L388.3,539.5 L388.6,538.3 L389.0,537.8 L389.3,537.3 L389.6,536.7 L389.9,536.3 L390.2,537.3 L390.5,536.9 L390.8,536.5 L391.1,535.5 L391.4,535.9 L391.7,536.4 L392.0,535.7 L392.3,535.6 L392.6,536.5 L392.9,536.0 L393.2,537.2 L393.5,535.9 L393.8,536.1 L394.1,536.6 L394.4,536.7 L394.7,535.6 L395.0,535.9 L395.3,536.6 L395.6,537.0 L395.9,536.0 L396.2,535.5 L396.5,535.1 L396.8,535.4 L397.1,535.9 L397.4,535.9 L397.7,535.6 L398.0,536.2 L398.3,536.3 L398.6,536.3 L398.9,535.9 L399.2,536.1 L399.5,536.0 L399.8,535.1 L400.1,535.6 L400.4,535.5 L400.6,535.5 L400.9,535.2 L401.2,534.3 L401.5,534.0 L401.8,533.7 L402.1,534.4 L402.4,534.5 L402.7,533.4 L403.0,534.0 L403.3,534.2 L403.6,533.6 L403.9,534.5 L404.2,534.1 L404.5,533.7 L404.8,534.3 L405.2,533.9 L405.5,534.6 L405.8,535.0 L406.1,536.0 L406.4,535.4 L406.7,535.4 L407.0,535.3 L407.3,536.1 L407.6,534.7 L407.9,534.8 L408.2,535.4 L408.5,535.2 L408.8,534.9 L409.1,535.3 L409.4,535.3 L409.6,534.9 L409.9,535.0 L410.2,534.2 L410.5,533.7 L410.8,533.1 L411.1,533.3 L411.4,533.9 L411.7,533.5 L412.0,534.0 L412.3,533.6 L412.6,534.2 L412.9,533.8 L413.2,534.5 L413.5,534.1 L413.8,534.8 L414.1,534.5 L414.4,534.8 L414.7,534.4 L415.0,534.8 L415.3,534.5 L415.6,534.7 L415.9,534.7 L416.2,534.3 L416.5,534.5 L416.8,534.7 L417.1,534.6 L417.4,534.5 L417.7,535.0 L418.0,535.4 L418.3,535.3 L418.6,536.2 L418.9,535.7 L419.1,535.7 L419.4,536.0 L419.7,536.0 L420.0,536.3 L420.3,536.4 L420.6,536.2 L420.9,536.6 L421.2,536.5 L421.5,536.8 L421.8,536.0 L422.1,535.9 L422.4,536.4 L422.7,536.1 L423.0,536.0 L423.3,535.1 L423.7,536.1 L424.0,536.3 L424.3,536.2 L424.6,535.3 L424.9,535.2 L425.2,535.4 L425.5,535.0 L425.8,535.0 L426.1,534.6 L426.4,535.4 L426.7,534.0 L427.0,534.8 L427.3,534.4 L427.6,535.5 L427.9,534.6 L428.2,534.9 L428.5,534.8 L428.8,534.3 L429.1,534.8 L429.4,534.6 L429.7,535.1 L430.0,535.4 L430.3,536.3 L430.5,535.6 L430.8,534.9 L431.1,535.6 L431.4,536.4 L431.7,535.9 L432.0,536.4 L432.3,537.4 L432.6,537.4 L432.9,538.1 L433.2,538.7 L433.5,540.2 L433.8,538.9 L434.1,537.4 L434.4,536.5 L434.7,534.6 L435.0,533.7 L435.3,533.0 L435.6,532.6 L435.9,532.0 L436.1,532.4 L436.4,531.0 L436.7,531.4 L437.0,530.7 L437.3,530.8 L437.6,530.3 L437.9,531.2 L438.2,530.0 L438.5,530.6 L438.8,530.4 L439.1,530.7 L439.4,530.4 L439.7,530.9 L440.0,531.5 L440.3,531.1 L440.7,531.4 L441.0,530.8 L441.3,529.9 L441.6,530.0 L441.9,529.8 L442.2,530.6 L442.5,530.7 L442.8,530.6 L443.1,529.9 L443.4,530.2 L443.7,529.3 L444.0,528.9 L444.3,529.2 L444.6,528.8 L444.9,528.6 L445.2,528.8 L445.5,528.2 L445.8,529.0 L446.1,528.1 L446.4,528.6 L446.7,527.9 L447.0,528.2 L447.3,528.0 L447.6,527.7 L447.9,528.0 L448.1,527.1 L448.4,526.7 L448.7,527.4 L449.0,527.4 L449.3,526.5 L449.6,527.1 L449.9,527.9 L450.2,526.3 L450.5,526.8 L450.8,526.6 L451.1,526.0 L451.4,525.5 L451.7,525.5 L452.0,525.5 L452.3,526.3 L452.6,526.2 L452.9,526.0 L453.2,526.5 L453.5,525.8 L453.8,524.9 L454.1,525.8 L454.4,525.6 L454.7,526.1 L455.0,525.4 L455.3,525.1 L455.7,525.2 L456.0,525.6 L456.3,526.3 L456.6,526.1 L456.9,526.5 L457.2,525.9 L457.5,526.5 L457.8,525.7 L458.1,526.2 L458.4,526.4 L458.7,526.9 L459.0,527.6 L459.3,527.7 L459.6,526.4 L459.9,526.6 L460.2,526.3 L460.5,528.0 L460.8,527.0 L461.1,526.2 L461.4,526.4 L461.7,526.1 L462.0,526.3 L462.3,525.3 L462.7,524.9 L463.0,525.2 L463.3,525.1 L463.6,525.6 L463.9,524.7 L464.2,525.7 L464.5,525.2 L464.8,525.0 L465.1,525.0 L465.4,525.5 L465.7,524.6 L466.0,524.3 L466.3,524.9 L466.6,525.3 L466.9,524.8 L467.2,524.6 L467.5,523.8 L467.8,525.5 L468.1,525.0 L468.4,524.7 L468.7,524.2 L469.0,524.3 L469.3,523.6 L469.6,523.5 L469.9,522.9 L470.1,523.8 L470.4,523.2 L470.7,522.9 L471.0,523.4 L471.3,522.6 L471.6,522.4 L471.9,522.9 L472.2,522.6 L472.5,523.3 L472.8,523.3 L473.1,523.5 L473.4,522.4 L473.7,522.4 L474.0,522.1 L474.3,521.9 L474.6,522.8 L474.9,523.0 L475.2,521.8 L475.5,522.4 L475.8,522.5 L476.1,522.6 L476.4,521.9 L476.7,521.8 L477.0,521.5 L477.3,521.0 L477.6,520.1 L477.9,519.5 L478.1,519.3 L478.4,519.3 L478.7,519.3 L479.0,519.5 L479.3,519.1 L479.6,520.1 L479.9,519.8 L480.2,520.1 L480.5,519.5 L480.8,519.7 L481.1,520.8 L481.4,520.4 L481.7,520.7 L482.0,520.8 L482.3,520.0 L482.6,519.4 L482.9,519.5 L483.2,520.1 L483.5,520.0 L483.8,519.5 L484.1,519.4 L484.4,519.9 L484.7,518.8 L485.0,519.0 L485.3,519.3 L485.6,518.7 L485.9,518.2 L486.1,519.8 L486.4,517.7 L486.7,518.9 L487.0,518.7 L487.3,518.7 L487.6,518.5 L487.9,518.7 L488.2,519.5 L488.5,519.5 L488.8,519.5 L489.1,518.8 L489.4,518.8 L489.7,519.6 L490.0,519.0 L490.3,519.4 L490.6,519.2 L490.9,520.1 L491.2,519.4 L491.5,519.5 L491.8,519.3 L492.1,518.9 L492.4,519.8 L492.7,518.4 L493.0,518.2 L493.3,517.3 L493.6,517.9 L493.9,517.7 L494.1,517.9 L494.4,518.3 L494.7,517.8 L495.0,518.6 L495.3,518.7 L495.6,518.7 L495.9,517.5 L496.2,517.5 L496.5,516.8 L496.8,517.8 L497.1,517.9 L497.4,517.1 L497.7,516.4 L498.0,516.9 L498.3,516.6 L498.6,516.7 L498.9,517.0 L499.2,517.2 L499.5,516.7 L499.8,516.7 L500.1,516.6 L500.4,516.7 L500.7,516.3 L501.0,516.0 L501.3,517.0 L501.6,516.7 L501.9,516.9 L502.1,516.7 L502.4,517.0 L502.7,516.9 L503.0,516.4 L503.3,517.7 L503.6,516.4 L503.9,517.1 L504.2,516.6 L504.5,517.1 L504.8,517.5 L505.1,516.8 L505.4,516.7 L505.7,517.8 L506.0,517.8 L506.3,517.3 L506.6,517.9 L506.9,518.1 L507.2,518.3 L507.5,517.8 L507.8,519.0 L508.1,517.9 L508.4,517.0 L508.7,515.6 L509.0,515.2 L509.3,515.2 L509.6,515.7 L509.9,515.1 L510.1,515.6 L510.4,514.8 L510.7,514.7 L511.0,515.0 L511.3,514.1 L511.6,513.5 L511.9,514.2 L512.2,514.5 L512.5,514.7 L512.8,515.0 L513.1,515.5 L513.4,514.7 L513.7,515.2 L514.0,514.4 L514.3,514.5 L514.6,514.3 L514.9,515.4 L515.2,515.4 L515.5,515.2 L515.8,516.0 L516.1,515.4 L516.4,514.5 L516.7,515.0 L517.0,515.1 L517.3,515.6 L517.6,515.7 L517.9,515.4 L518.1,515.8 L518.4,514.2 L518.7,513.2 L519.0,512.9 L519.3,513.4 L519.6,513.6 L519.9,513.6 L520.2,513.5 L520.5,513.7 L520.8,512.9 L521.1,513.4 L521.4,513.2 L521.7,514.0 L522.0,512.7 L522.3,513.9 L522.6,513.2 L522.9,514.3 L523.2,514.6 L523.5,514.4 L523.8,514.4 L524.1,514.5 L524.4,515.0 L524.7,513.5 L525.0,515.0 L525.3,513.9 L525.7,513.6 L526.0,513.3 L526.3,513.5 L526.6,514.2 L526.9,514.1 L527.2,514.0 L527.5,514.2 L527.8,515.2 L528.1,514.5 L528.4,515.3 L528.7,515.6 L529.0,516.0 L529.3,515.1 L529.6,515.0 L529.9,514.9 L530.2,515.1 L530.5,515.5 L530.8,514.4 L531.1,514.7 L531.4,514.1 L531.7,514.2 L532.0,513.9 L532.3,514.1 L532.7,514.3 L533.0,514.0 L533.3,513.0 L533.6,514.5 L533.9,513.6 L534.2,512.7 L534.5,512.7 L534.8,512.4 L535.1,512.9 L535.4,512.7 L535.7,513.1 L536.0,513.5 L536.3,513.8 L536.6,513.5 L536.9,512.9 L537.2,513.4 L537.5,511.7 L537.8,512.0 L538.1,513.8 L538.4,512.6 L538.7,513.5 L539.0,512.9 L539.3,514.0 L539.6,512.2 L539.9,513.5 L540.2,513.1 L540.5,513.3 L540.8,513.3 L541.1,512.8 L541.4,513.1 L541.7,512.9 L542.0,511.5 L542.3,512.1 L542.6,512.1 L542.9,512.3 L543.2,512.5 L543.5,512.6 L543.8,513.1 L544.1,514.5 L544.4,514.9 L544.6,514.2 L544.9,515.1 L545.2,514.4 L545.5,514.1 L545.8,514.1 L546.1,513.7 L546.4,515.9 L546.7,514.1 L547.0,515.0 L547.3,515.0 L547.6,514.3 L547.9,513.9 L548.2,515.3 L548.5,515.6 L548.8,515.4 L549.1,515.2 L549.4,515.4 L549.6,515.6 L549.9,516.0 L550.2,515.5 L550.5,516.0 L550.8,514.6 L551.1,514.7 L551.4,515.7 L551.7,514.9 L552.0,514.0 L552.3,514.1 L552.6,513.4 L552.9,513.8 L553.2,513.7 L553.5,512.7 L553.8,513.0 L554.1,512.4 L554.4,511.4 L554.6,511.9 L554.9,513.1 L555.2,513.2 L555.5,512.4 L555.8,510.8 L556.1,510.9 L556.4,510.8 L556.7,512.5 L557.0,512.1 L557.3,511.6 L557.6,512.8 L557.9,514.3 L558.2,513.9 L558.5,514.0 L558.8,514.0 L559.1,513.8 L559.4,513.9 L559.6,515.0 L559.9,515.1 L560.2,515.4 L560.5,515.4 L560.8,516.2 L561.1,516.4 L561.4,516.2 L561.7,516.8 L562.0,517.4 L562.3,517.3 L562.6,516.1 L562.9,516.4 L563.2,517.0 L563.5,516.8 L563.8,516.7 L564.1,516.9 L564.4,517.4 L564.7,516.4 L565.0,516.9 L565.3,516.7 L565.6,515.4 L565.9,515.9 L566.2,515.1 L566.5,516.1 L566.8,515.8 L567.1,516.2 L567.4,516.7 L567.7,516.3 L568.0,516.3 L568.3,516.0 L568.6,516.4 L568.9,518.2 L569.2,518.1 L569.5,518.5 L569.8,518.7 L570.2,519.2 L570.5,519.3 L570.8,519.5 L571.1,520.6 L571.4,521.0 L571.7,520.5 L572.0,520.5 L572.3,521.3 L572.6,522.1 L572.9,522.7 L573.2,523.2 L573.5,523.7 L573.8,523.6 L574.1,524.0 L574.4,524.4 L574.7,525.3 L575.0,526.3 L575.3,525.5 L575.6,525.0 L575.9,525.3 L576.2,524.4 L576.5,524.3 L576.8,524.0 L577.2,523.2 L577.5,523.2 L577.8,522.2 L578.1,522.6 L578.4,521.3 L578.7,521.5 L579.0,521.6 L579.3,521.6 L579.6,522.3 L579.9,522.7 L580.2,522.2 L580.5,521.1 L580.8,520.8 L581.1,520.9 L581.4,520.2 L581.6,520.3 L581.9,521.1 L582.2,519.8 L582.5,520.5 L582.8,519.9 L583.1,519.3 L583.4,519.4 L583.7,520.1 L584.0,520.7 L584.3,519.9 L584.6,521.1 L584.9,520.8 L585.2,521.2 L585.5,520.9 L585.8,521.3 L586.1,521.6 L586.4,521.3 L586.7,521.7 L587.0,520.6 L587.3,521.8 L587.6,521.8 L587.9,520.6 L588.2,520.8 L588.5,520.9 L588.8,520.2 L589.1,520.3 L589.4,520.8 L589.7,522.2 L590.0,521.9 L590.3,522.3 L590.6,522.0 L590.9,520.8 L591.2,522.0 L591.5,522.1 L591.8,522.5 L592.2,522.4 L592.5,522.8 L592.8,522.4 L593.1,523.2 L593.4,524.0 L593.7,524.0 L594.0,524.1 L594.3,524.3 L594.6,523.6 L594.9,524.3 L595.2,524.2 L595.5,524.1 L595.8,523.6 L596.1,523.6 L596.4,522.8 L596.7,522.7 L597.0,522.7 L597.3,522.8 L597.6,522.6 L597.9,522.0 L598.2,520.4 L598.5,520.9 L598.8,521.3 L599.1,521.4 L599.4,521.2 L599.7,519.9 L600.0,520.1 L600.3,519.8 L600.6,519.6 L600.9,520.2 L601.2,520.4 L601.5,520.2 L601.8,520.8 L602.1,522.1 L602.4,521.0 L602.7,522.1 L603.0,521.8 L603.3,522.7 L603.6,522.4 L603.9,522.3 L604.2,523.1 L604.5,523.1 L604.8,523.2 L605.1,523.2 L605.4,524.0 L605.7,524.3 L606.0,524.1 L606.3,523.9 L606.6,523.9 L606.9,523.2 L607.2,523.6 L607.5,523.4 L607.8,523.8 L608.1,522.9 L608.4,523.8 L608.7,524.0 L609.0,523.9 L609.3,525.0 L609.6,524.7 L609.9,524.9 L610.2,525.3 L610.5,525.3 L610.8,524.9 L611.1,524.8 L611.4,525.1 L611.7,525.1 L612.0,525.0 L612.3,524.5 L612.6,524.0 L612.9,523.9 L613.2,523.9 L613.5,524.4 L613.8,522.9 L614.1,523.7 L614.4,523.1 L614.7,523.6 L615.0,523.7 L615.3,523.2 L615.6,522.6 L615.9,522.4 L616.1,521.7 L616.4,521.5 L616.7,520.9 L617.0,521.6 L617.3,520.9 L617.6,521.0 L617.9,521.7 L618.2,521.5 L618.5,521.6 L618.8,521.8 L619.1,521.6 L619.4,522.1 L619.7,521.8 L620.0,522.5 L620.3,523.3 L620.6,522.4 L620.9,523.0 L621.2,523.1 L621.5,522.8 L621.8,523.0 L622.1,522.9 L622.4,523.5 L622.7,523.2 L623.0,523.8 L623.3,523.5 L623.7,522.7 L624.0,523.3 L624.3,522.7 L624.6,523.4 L624.9,523.4 L625.2,523.3 L625.5,524.4 L625.8,523.5 L626.1,524.5 L626.4,524.2 L626.7,523.8 L627.0,524.1 L627.3,524.0 L627.6,524.1 L627.9,524.4 L628.2,524.2 L628.5,525.8 L628.8,526.1 L629.1,527.0 L629.4,526.1 L629.7,527.0 L630.0,525.8 L630.3,525.9 L630.6,527.2 L630.9,526.9 L631.2,527.0 L631.5,526.9 L631.8,526.7 L632.1,527.0 L632.4,527.0 L632.6,527.2 L632.9,526.9 L633.2,527.8 L633.5,527.5 L633.8,527.8 L634.1,528.0 L634.4,529.0 L634.7,529.2 L635.0,530.7 L635.3,529.2 L635.6,529.7 L635.9,529.6 L636.2,529.3 L636.5,529.1 L636.8,529.8 L637.2,528.6 L637.5,529.9 L637.8,528.6 L638.1,528.6 L638.4,528.1 L638.7,528.7 L639.0,529.4 L639.3,529.7 L639.6,528.7 L639.9,528.2 L640.2,528.7 L640.5,529.2 L640.8,529.1 L641.1,529.2 L641.4,527.9 L641.7,527.4 L642.0,527.2 L642.3,526.1 L642.6,525.8 L642.9,525.5 L643.2,525.8 L643.5,524.5 L643.8,524.6 L644.1,524.1 L644.4,524.2 L644.7,523.2 L645.0,522.8 L645.3,522.9 L645.6,523.2 L645.9,522.2 L646.2,520.5 L646.5,521.1 L646.8,520.3 L647.1,521.5 L647.4,520.7 L647.7,521.0 L648.0,521.1 L648.3,522.2 L648.7,521.2 L649.0,521.9 L649.3,521.1 L649.6,521.3 L649.9,521.1 L650.2,520.7 L650.5,519.7 L650.8,519.7 L651.1,519.5 L651.4,519.6 L651.7,519.5 L652.0,520.3 L652.3,520.0 L652.6,520.4 L652.9,521.0 L653.2,521.3 L653.5,520.9 L653.8,521.2 L654.1,521.2 L654.4,521.2 L654.7,521.6 L655.0,521.0 L655.3,522.2 L655.7,522.8 L656.0,523.0 L656.3,522.5 L656.6,522.9 L656.9,523.2 L657.2,522.6 L657.5,522.9 L657.8,522.5 L658.1,522.9 L658.4,522.7 L658.7,522.7 L659.0,523.8 L659.3,523.5 L659.6,523.3 L659.9,523.3 L660.2,523.7 L660.5,523.2 L660.8,523.3 L661.1,522.7 L661.4,521.5 L661.7,522.4 L662.0,521.3 L662.3,521.1 L662.7,521.1 L663.0,520.5 L663.3,521.4 L663.6,519.8 L663.9,519.0 L664.2,519.0 L664.5,518.8 L664.8,518.2 L665.1,518.2 L665.4,519.6 L665.7,518.3 L666.0,518.9 L666.3,518.8 L666.6,518.2 L666.9,519.1 L667.2,519.0 L667.5,519.2 L667.8,520.1 L668.1,519.2 L668.4,520.6 L668.7,520.0 L669.0,519.4 L669.3,520.0 L669.7,519.5 L670.0,519.5 L670.3,519.9 L670.6,519.2 L670.9,518.8 L671.2,518.6 L671.5,517.5 L671.8,519.0 L672.1,518.2 L672.4,517.4 L672.7,517.8 L673.0,518.0 L673.3,518.0 L673.6,518.3 L673.9,518.2 L674.2,518.9 L674.5,518.4 L674.8,518.6 L675.1,517.8 L675.4,516.3 L675.7,517.8 L676.0,517.6 L676.3,518.0 L676.6,517.1 L676.9,517.1 L677.2,516.7 L677.5,517.6 L677.8,517.5 L678.1,517.9 L678.4,517.7 L678.7,518.2 L679.0,517.5 L679.3,517.6 L679.6,518.5 L679.9,518.4 L680.2,518.0 L680.5,519.1 L680.8,519.0 L681.2,519.4 L681.5,519.5 L681.8,520.1 L682.1,520.7 L682.4,521.3 L682.7,520.6 L683.0,520.7 L683.3,520.4 L683.6,520.2 L683.9,520.2 L684.2,520.3 L684.5,519.3 L684.8,519.7 L685.1,520.2 L685.4,519.9 L685.7,519.0 L686.0,519.3 L686.3,517.8 L686.7,517.9 L687.0,518.2 L687.3,517.1 L687.6,516.8 L687.9,517.2 L688.2,517.1 L688.5,517.5 L688.8,517.2 L689.1,517.4 L689.4,517.8 L689.7,517.5 L690.0,517.0 L690.3,516.2 L690.6,516.5 L690.9,516.6 L691.2,516.9 L691.5,517.4 L691.8,517.3 L692.1,517.2 L692.4,516.8 L692.7,516.1 L693.0,516.4 L693.3,515.5 L693.6,515.3 L693.9,515.2 L694.1,515.3 L694.4,516.1 L694.7,515.0 L695.0,515.5 L695.3,515.2 L695.6,514.9 L695.9,515.2 L696.2,515.8 L696.5,516.3 L696.8,515.4 L697.1,515.5 L697.4,515.5 L697.7,515.1 L698.0,516.1 L698.3,515.6 L698.6,515.3 L698.9,515.0 L699.2,515.1 L699.5,514.9 L699.8,515.2 L700.1,514.8 L700.4,516.4 L700.7,515.9 L701.0,515.8 L701.3,515.9 L701.6,516.5 L701.9,517.1 L702.1,516.6 L702.4,516.7 L702.7,517.2 L703.0,516.9 L703.3,517.4 L703.6,517.9 L703.9,516.5 L704.2,516.0 L704.5,516.2 L704.8,515.6 L705.1,515.9 L705.4,516.5 L705.7,516.9 L706.0,516.8 L706.3,516.7 L706.6,517.3 L706.9,516.3 L707.2,516.2 L707.5,515.5 L707.8,516.3 L708.1,516.0 L708.4,516.6 L708.7,515.1 L709.0,515.8 L709.3,515.3 L709.6,516.0 L709.9,516.2 L710.1,516.9 L710.4,516.1 L710.7,516.5 L711.0,516.6 L711.3,517.9 L711.6,517.7 L711.9,517.5 L712.2,518.3 L712.5,518.5 L712.8,517.9 L713.1,518.0 L713.4,519.1 L713.7,518.0 L714.0,518.0 L714.3,518.8 L714.6,518.3 L714.9,518.8 L715.2,517.7 L715.5,518.4 L715.8,517.7 L716.1,517.3 L716.4,516.9 L716.7,516.8 L717.0,515.8 L717.3,516.6 L717.7,515.5 L718.0,515.7 L718.3,516.4 L718.6,516.4 L718.9,517.1 L719.2,515.7 L719.5,515.1 L719.8,515.5 L720.1,515.7 L720.4,514.5 L720.7,514.6 L721.0,514.8 L721.3,515.5 L721.6,515.5 L721.9,515.9 L722.2,515.0 L722.5,515.9 L722.8,515.7 L723.1,516.4 L723.4,515.8 L723.7,516.0 L724.0,516.7 L724.3,517.0 L724.7,516.6 L725.0,516.6 L725.3,516.5 L725.6,515.9 L725.9,516.2 L726.2,516.8 L726.5,516.8 L726.8,515.2 L727.1,517.1 L727.4,517.4 L727.7,518.1 L728.0,517.8 L728.3,517.6 L728.6,517.2 L728.9,517.9 L729.2,517.7 L729.5,517.0 L729.8,516.8 L730.1,517.4 L730.4,517.2 L730.7,516.9 L731.0,518.0 L731.3,518.8 L731.6,517.8 L731.9,517.3 L732.2,517.0 L732.5,516.5 L732.8,517.6 L733.1,516.7 L733.4,515.7 L733.7,517.2 L734.0,516.0 L734.3,515.8 L734.6,516.4 L734.9,516.5 L735.2,516.7 L735.5,516.3 L735.8,517.4 L736.1,518.3 L736.4,518.2 L736.7,518.0 L737.0,517.8 L737.3,517.6 L737.6,519.4 L737.9,518.1 L738.2,517.9 L738.5,518.9 L738.8,518.3 L739.1,518.9 L739.4,518.0 L739.7,518.2 L740.0,517.6 L740.3,518.4 L740.6,518.6 L740.9,519.3 L741.2,518.6 L741.5,519.4 L741.8,518.1 L742.2,518.5 L742.5,519.0 L742.8,517.5 L743.1,517.4 L743.4,516.1 L743.7,518.1 L744.0,517.4 L744.3,517.3 L744.6,517.9 L744.9,518.5 L745.2,518.6 L745.5,518.5 L745.8,519.4 L746.2,519.3 L746.5,519.1 L746.8,520.1 L747.1,520.1 L747.4,521.1 L747.7,520.2 L748.0,519.5 L748.3,518.9 L748.6,518.6 L748.9,519.1 L749.2,519.2 L749.5,519.0 L749.8,518.7 L750.1,518.7 L750.4,518.3 L750.7,519.2 L751.0,519.6 L751.3,519.7 L751.6,518.3 L751.9,518.0 L752.2,518.2 L752.5,518.5 L752.8,517.9 L753.1,517.1 L753.4,517.4 L753.7,516.3 L754.0,515.8 L754.3,515.6 L754.6,515.0 L754.9,514.8 L755.2,514.8 L755.5,514.9 L755.8,514.5 L756.1,514.1 L756.4,513.9 L756.7,515.2 L757.0,515.3 L757.3,515.0 L757.6,514.9 L757.9,515.2 L758.2,515.4 L758.5,515.5 L758.8,515.4 L759.1,514.8 L759.4,514.5 L759.7,514.0 L760.0,514.9 L760.3,513.3 L760.6,514.0 L760.9,512.4 L761.2,512.5 L761.5,512.1 L761.8,511.5 L762.1,512.0 L762.4,512.4 L762.7,512.5 L763.0,511.4 L763.3,511.3 L763.6,511.9 L763.9,511.2 L764.2,512.6 L764.5,511.5 L764.8,511.3 L765.1,511.8 L765.4,513.0 L765.7,512.2 L766.0,512.6 L766.3,511.7 L766.6,511.9 L766.9,511.1 L767.2,512.3 L767.5,511.8 L767.8,512.5 L768.1,512.8 L768.4,511.5 L768.7,512.0 L769.0,512.0 L769.3,511.8 L769.6,511.9 L769.9,511.2 L770.2,511.1 L770.5,511.4 L770.8,511.7 L771.1,512.5 L771.4,513.2 L771.7,512.5 L772.0,513.1 L772.3,513.4 L772.6,513.3 L772.9,511.8 L773.2,512.8 L773.5,513.6 L773.8,513.8 L774.1,512.4 L774.4,513.2 L774.7,512.8 L775.0,513.1 L775.3,513.6 L775.6,512.6 L775.9,512.3 L776.2,512.0 L776.5,512.0 L776.8,512.2 L777.1,512.0 L777.4,511.5 L777.7,511.6 L778.0,511.1 L778.3,509.8 L778.6,509.5 L778.9,510.4 L779.2,510.3 L779.5,509.8 L779.8,509.7 L780.1,508.8 L780.4,509.1 L780.7,508.5 L781.0,509.3 L781.3,508.8 L781.6,507.8 L781.9,508.2 L782.2,508.0 L782.5,508.3 L782.8,508.0 L783.1,508.0 L783.4,508.1 L783.7,508.9 L784.0,509.2 L784.3,509.0 L784.6,509.5 L784.9,509.7 L785.2,509.7 L785.5,508.8 L785.8,509.0 L786.1,507.4 L786.4,507.3 L786.7,506.6 L787.0,506.0 L787.3,506.7 L787.6,507.4 L787.9,508.4 L788.2,507.4 L788.5,506.9 L788.8,507.9 L789.1,508.0 L789.4,507.1 L789.7,505.8 L790.0,506.5 L790.3,507.5 L790.6,506.9 L790.9,505.5 L791.2,506.1 L791.5,505.3 L791.8,506.9 L792.1,506.8 L792.4,506.5 L792.7,507.1 L793.0,506.4 L793.3,505.6 L793.6,505.5 L793.9,505.8 L794.2,505.4 L794.5,505.4 L794.8,505.8 L795.1,506.1 L795.4,506.4 L795.7,506.8 L796.0,506.7 L796.3,505.9 L796.6,505.8 L796.9,506.0 L797.2,504.9 L797.5,503.8 L797.8,504.3 L798.1,504.4 L798.4,504.4 L798.6,505.2 L798.9,504.5 L799.2,505.8 L799.5,505.0 L799.8,505.1 L800.1,505.3 L800.4,504.5 L800.7,503.9 L801.0,503.7 L801.3,503.7 L801.6,503.2 L801.9,504.3 L802.2,503.9 L802.5,503.1 L802.8,502.5 L803.1,501.5 L803.4,501.7 L803.6,501.7 L803.9,502.3 L804.2,501.3 L804.5,501.7 L804.8,500.7 L805.1,500.3 L805.4,500.2 L805.7,499.8 L806.0,501.6 L806.3,501.3 L806.6,502.1 L806.9,501.6 L807.2,501.2 L807.5,502.3 L807.8,502.7 L808.1,503.4 L808.4,503.5 L808.7,503.6 L809.0,505.5 L809.3,503.6 L809.6,504.4 L809.9,504.0 L810.2,503.0 L810.5,503.7 L810.8,504.5 L811.1,503.2 L811.4,503.8 L811.7,502.7 L812.0,502.7 L812.3,503.0 L812.6,503.0 L812.9,502.7 L813.2,502.2 L813.5,502.8 L813.8,503.9 L814.1,503.1 L814.4,502.1 L814.7,502.5 L815.0,503.2 L815.3,502.9 L815.6,504.8 L815.9,503.5 L816.2,502.6 L816.5,503.2 L816.8,502.1 L817.1,502.9 L817.4,504.3 L817.7,504.9 L818.0,503.6 L818.3,504.2 L818.6,505.6 L818.9,505.4 L819.2,505.3 L819.5,504.8 L819.8,504.6 L820.1,504.0 L820.4,504.6 L820.7,504.2 L821.0,502.8 L821.3,502.3 L821.6,503.4 L821.9,503.3 L822.2,503.2 L822.5,503.4 L822.8,504.3 L823.1,503.7 L823.4,502.3 L823.7,503.2 L824.0,503.4 L824.3,503.5 L824.6,504.9 L824.9,504.9 L825.2,506.2 L825.5,506.6 L825.8,506.8 L826.2,507.5 L826.5,507.9 L826.8,508.4 L827.1,508.7 L827.4,508.5 L827.7,508.6 L828.0,509.6 L828.3,507.9 L828.6,507.1 L828.9,507.2 L829.1,506.9 L829.4,506.9 L829.7,506.7 L830.0,507.2 L830.3,506.3 L830.6,506.1 L830.9,505.4 L831.2,505.6 L831.5,505.4 L831.8,505.5 L832.1,504.7 L832.4,504.6 L832.6,504.6 L832.9,504.8 L833.2,503.6 L833.5,504.5 L833.8,504.9 L834.1,506.0 L834.4,505.1 L834.7,503.7 L835.0,504.1 L835.3,504.3 L835.6,503.6 L835.9,504.6 L836.2,504.9 L836.5,504.5 L836.8,503.5 L837.1,504.7 L837.4,504.8 L837.6,505.2 L837.9,505.8 L838.2,504.8 L838.5,504.5 L838.8,504.9 L839.1,503.8 L839.4,506.0 L839.7,505.4 L840.0,506.8 L840.3,506.6 L840.6,505.7 L840.9,506.2 L841.2,504.3 L841.5,504.3 L841.8,505.2 L842.1,504.3 L842.4,505.5 L842.6,505.0 L842.9,504.1 L843.2,504.5 L843.5,505.1 L843.8,504.9 L844.1,505.0 L844.4,505.3 L844.7,503.9 L845.0,504.0 L845.3,503.9 L845.6,504.3 L845.9,503.6 L846.2,504.0 L846.5,504.6 L846.8,503.0 L847.1,504.8 L847.4,504.4 L847.7,504.6 L848.0,504.9 L848.3,504.5 L848.6,504.4 L848.9,505.1 L849.2,503.7 L849.5,504.8 L849.8,503.8 L850.1,504.9 L850.4,504.1 L850.7,504.3 L851.0,505.3 L851.3,504.5 L851.6,504.8 L851.9,503.8 L852.2,505.1 L852.5,506.0 L852.8,505.6 L853.1,506.4 L853.4,507.1 L853.7,506.8 L854.0,507.0 L854.3,507.2 L854.6,507.4 L854.9,507.4 L855.2,507.8 L855.5,506.0 L855.8,507.1 L856.1,506.3 L856.4,507.0 L856.7,506.6 L857.0,507.5 L857.3,507.3 L857.6,507.6 L857.9,507.4 L858.2,508.2 L858.5,508.2 L858.8,507.5 L859.1,508.8 L859.4,508.1 L859.6,507.5 L859.9,508.5 L860.2,508.9 L860.5,508.9 L860.8,508.7 L861.1,508.7 L861.4,508.0 L861.7,507.5 L862.0,509.1 L862.3,509.2 L862.6,508.9 L862.9,507.5 L863.2,507.3 L863.5,507.3 L863.8,507.5 L864.1,507.2 L864.4,506.6 L864.7,507.7 L865.0,507.0 L865.3,506.4 L865.6,505.9 L865.9,506.5 L866.2,506.0 L866.5,506.3 L866.8,507.3 L867.1,506.9 L867.5,507.0 L867.8,507.4 L868.1,507.1 L868.4,508.8 L868.7,508.0 L869.0,508.6 L869.3,508.3 L869.6,508.1 L869.9,508.9 L870.2,509.8 L870.5,509.6 L870.8,509.0 L871.1,508.8 L871.4,508.9 L871.7,508.0 L872.0,508.1 L872.3,507.1 L872.6,507.1 L872.9,506.7 L873.2,507.2 L873.5,507.1 L873.8,505.7 L874.1,505.7 L874.4,505.8 L874.7,505.8 L875.0,506.4 L875.3,505.8 L875.6,507.6 L875.9,507.7 L876.2,506.4 L876.5,506.5 L876.8,506.6 L877.1,505.8 L877.4,505.2 L877.6,506.4 L877.9,505.7 L878.2,505.1 L878.5,503.7 L878.8,504.0 L879.1,503.4 L879.4,503.2 L879.7,503.6 L880.0,502.3 L880.3,502.6 L880.6,503.0 L880.9,502.3 L881.2,502.0 L881.5,501.4 L881.8,501.6 L882.2,500.7 L882.5,502.0 L882.8,502.6 L883.1,500.6 L883.4,500.1 L883.7,500.1 L884.0,499.0 L884.3,498.6 L884.6,498.8 L884.9,497.7 L885.2,500.0 L885.5,499.6 L885.8,499.4 L886.2,498.0 L886.5,498.3 L886.8,498.8 L887.1,496.9 L887.4,497.5 L887.7,496.8 L888.0,496.6 L888.3,496.8 L888.6,498.2 L888.9,498.1 L889.2,498.2 L889.5,499.8 L889.8,499.7 L890.2,500.3 L890.5,499.3 L890.8,499.0 L891.1,499.2 L891.4,498.7 L891.7,499.2 L892.0,499.4 L892.3,498.9 L892.6,498.0 L892.9,497.4 L893.2,497.8 L893.5,496.6 L893.8,497.0 L894.1,497.2 L894.4,497.6 L894.7,497.7 L895.0,497.1 L895.3,496.8 L895.6,498.5 L895.9,500.1 L896.1,500.1 L896.4,500.6 L896.7,500.3 L897.0,500.7 L897.3,502.5 L897.6,504.1 L897.9,506.9 L898.1,508.0 L898.4,508.8 L898.7,510.2 L899.0,511.9 L899.3,512.4 L899.6,513.1 L899.9,513.2 L900.1,512.6 L900.4,512.2 L900.7,512.6 L901.0,512.5 L901.3,511.4 L901.6,509.1 L901.9,508.4 L902.1,507.4 L902.4,506.6 L902.7,506.2 L903.0,504.5 L903.3,505.1 L903.6,504.7 L903.9,503.2 L904.2,502.9 L904.5,503.3 L904.8,502.3 L905.2,502.4 L905.5,501.7 L905.8,501.4 L906.1,501.6 L906.4,501.3 L906.7,501.2 L907.0,501.8 L907.3,501.2 L907.6,502.2 L907.9,500.8 L908.2,502.0 L908.5,501.4 L908.8,499.9 L909.1,499.2 L909.4,498.3 L909.7,498.1 L910.0,497.9 L910.3,499.7 L910.6,499.0 L910.9,498.8 L911.2,498.1 L911.5,498.7 L911.8,496.9 L912.1,498.3 L912.4,499.5 L912.7,500.3 L913.0,500.1 L913.3,498.3 L913.6,499.8 L913.9,500.1 L914.2,499.4 L914.6,499.7 L914.9,499.8 L915.2,498.4 L915.5,497.9 L915.8,497.5 L916.1,498.5 L916.4,499.0 L916.7,498.2 L917.0,498.3 L917.3,498.6 L917.6,498.5 L917.9,497.6 L918.2,498.1 L918.5,499.0 L918.8,498.2 L919.1,498.9 L919.4,497.6 L919.7,498.7 L920.0,499.5 L920.3,498.3 L920.6,498.9 L920.9,499.8 L921.2,498.7 L921.5,501.2 L921.8,500.6 L922.1,500.7 L922.4,501.0 L922.7,501.2 L923.0,502.0 L923.3,500.6 L923.6,500.2 L923.9,500.3 L924.2,500.5 L924.5,500.7 L924.8,499.6 L925.1,500.7 L925.4,501.5 L925.8,500.1 L926.1,499.6 L926.4,499.8 L926.7,500.8 L927.0,499.8 L927.3,499.7 L927.6,500.7 L927.9,499.7 L928.2,501.1 L928.5,500.6 L928.8,500.0 L929.1,499.5 L929.4,499.0 L929.7,498.9 L930.0,498.5 L930.3,499.1 L930.6,500.2 L930.9,499.5 L931.2,498.9 L931.5,499.3 L931.8,500.0 L932.0,500.8 L932.3,499.7 L932.6,500.1 L932.9,501.0 L933.2,499.9 L933.5,499.5 L933.8,500.2 L934.1,501.2 L934.4,500.1 L934.7,500.9 L935.0,499.6 L935.3,498.5 L935.6,499.1 L935.9,498.0 L936.1,499.0 L936.4,498.8 L936.7,497.9 L937.0,497.9 L937.3,498.1 L937.6,497.4 L937.9,497.3 L938.2,496.9 L938.5,497.7 L938.8,497.9 L939.1,497.4 L939.4,499.5 L939.7,498.6 L940.0,497.2 L940.3,497.5 L940.6,497.6 L940.9,498.5 L941.2,498.9 L941.5,498.7 L941.8,499.2 L942.1,498.9 L942.4,498.9 L942.7,499.5 L943.0,500.9 L943.3,501.0 L943.6,500.9 L943.9,500.1 L944.2,501.4 L944.5,500.7 L944.8,501.5 L945.1,502.1 L945.4,499.2 L945.7,499.7 L946.0,497.8 L946.3,497.8 L946.6,496.6 L946.9,497.4 L947.2,498.4 L947.5,497.5 L947.8,496.8 L948.1,496.0 L948.4,496.8 L948.7,496.9 L949.0,496.4 L949.3,497.1 L949.6,496.0 L949.9,495.5 L950.2,495.0 L950.5,495.8 L950.8,496.4 L951.1,495.8 L951.4,496.4 L951.7,495.6 L952.0,496.7 L952.3,496.6 L952.6,495.7 L952.9,495.3 L953.2,495.3 L953.5,495.9 L953.8,496.1 L954.1,496.4 L954.4,495.8 L954.7,496.9 L955.0,495.6 L955.3,495.8 L955.5,497.3 L955.8,496.7 L956.1,496.1 L956.4,496.8 L956.7,496.1 L957.0,496.2 L957.3,497.5 L957.6,496.4 L957.9,496.4 L958.2,495.7 L958.5,495.5 L958.8,495.7 L959.1,496.3 L959.4,495.6 L959.7,495.7 L960.0,496.0 L960.3,496.3 L960.6,496.9 L960.9,495.1 L961.2,495.9 L961.5,497.6 L961.9,496.4 L962.2,497.1 L962.5,497.8 L962.8,497.3 L963.1,496.0 L963.4,496.3 L963.7,496.7 L964.0,496.6 L964.3,498.1 L964.6,497.3 L964.9,497.1 L965.2,496.9 L965.5,496.2 L965.8,495.7 L966.1,495.9 L966.4,498.1 L966.7,496.5 L967.0,496.9 L967.3,495.5 L967.6,496.2 L967.8,495.4 L968.1,495.8 L968.4,494.3 L968.7,494.8 L969.0,495.0 L969.3,495.2 L969.6,494.1 L969.9,494.9 L970.2,494.7 L970.5,494.7 L970.8,494.3 L971.1,495.1 L971.4,494.1 L971.7,492.8 L972.0,492.4 L972.3,491.4 L972.6,491.5 L972.9,491.8 L973.3,490.9 L973.6,490.7 L973.9,488.8 L974.2,492.0 L974.5,491.4 L974.8,490.7 L975.1,491.6 L975.4,491.2 L975.7,492.3 L976.0,491.8 L976.3,489.5 L976.6,490.8 L976.9,489.0 L977.2,489.3 L977.4,488.0 L977.7,489.6 L978.0,489.0 L978.3,488.8 L978.6,489.8 L978.9,490.0 L979.2,488.8" stroke="#12b012" stroke-width="3.2"/>
<path d="M30.0,538.6 L30.3,538.7 L30.6,538.4 L30.9,539.2 L31.2,539.5 L31.5,539.4 L31.8,539.9 L32.1,539.5 L32.4,539.2 L32.7,538.7 L33.0,539.0 L33.3,539.1 L33.6,539.0 L33.9,538.5 L34.2,538.0 L34.5,537.3 L34.8,537.4 L35.1,537.4 L35.4,536.8 L35.7,537.3 L36.0,536.5 L36.3,536.3 L36.6,536.8 L36.9,537.5 L37.2,536.6 L37.5,536.5 L37.8,536.9 L38.1,536.9 L38.4,536.7 L38.7,536.9 L39.0,535.8 L39.3,535.7 L39.6,536.4 L39.9,537.0 L40.1,537.1 L40.4,537.2 L40.7,537.0 L41.0,537.7 L41.3,538.2 L41.6,537.5 L41.9,537.6 L42.2,538.5 L42.5,538.0 L42.8,538.3 L43.1,538.6 L43.4,538.1 L43.7,538.2 L44.0,537.7 L44.3,537.6 L44.6,537.9 L44.9,537.9 L45.2,537.2 L45.5,537.6 L45.8,537.2 L46.1,538.2 L46.4,537.9 L46.7,537.0 L47.0,537.3 L47.3,536.8 L47.6,537.5 L47.9,537.8 L48.2,537.7 L48.5,538.2 L48.8,536.9 L49.1,537.9 L49.4,537.8 L49.7,537.3 L50.0,537.4 L50.3,537.7 L50.6,537.8 L50.9,537.0 L51.2,537.9 L51.5,538.1 L51.8,537.5 L52.1,537.6 L52.4,537.4 L52.7,537.7 L53.0,538.9 L53.3,538.6 L53.6,538.0 L53.9,538.5 L54.2,537.8 L54.5,538.0 L54.8,537.9 L55.1,537.5 L55.4,537.2 L55.7,537.8 L56.0,537.2 L56.3,536.8 L56.6,536.9 L56.9,536.4 L57.2,537.1 L57.5,536.8 L57.8,537.1 L58.1,536.9 L58.4,537.4 L58.7,537.0 L59.0,537.9 L59.3,538.2 L59.6,537.6 L59.9,536.9 L60.1,537.8 L60.4,538.1 L60.7,537.7 L61.0,538.5 L61.3,538.2 L61.6,538.0 L61.9,537.9 L62.2,537.9 L62.5,537.4 L62.8,537.4 L63.1,537.6 L63.4,537.9 L63.7,537.6 L64.0,537.4 L64.3,536.9 L64.6,536.4 L64.9,536.9 L65.2,536.8 L65.5,537.0 L65.8,536.7 L66.1,537.3 L66.4,536.7 L66.7,536.0 L67.0,536.0 L67.3,536.9 L67.6,537.5 L67.9,536.9 L68.2,536.5 L68.5,535.8 L68.8,536.8 L69.1,537.3 L69.4,537.0 L69.7,536.4 L70.0,536.8 L70.3,536.2 L70.6,537.1 L70.9,536.8 L71.2,536.7 L71.5,536.7 L71.8,537.1 L72.1,536.6 L72.4,536.5 L72.7,537.3 L73.0,536.8 L73.3,535.8 L73.6,536.6 L73.9,536.3 L74.2,535.7 L74.5,535.3 L74.8,536.2 L75.1,535.9 L75.4,536.3 L75.7,535.2 L76.0,535.7 L76.3,534.9 L76.6,535.3 L76.9,535.3 L77.2,536.0 L77.5,535.9 L77.8,535.2 L78.1,535.3 L78.4,534.6 L78.7,534.3 L79.0,534.3 L79.3,535.0 L79.6,534.5 L79.9,534.1 L80.1,534.9 L80.4,534.7 L80.7,535.1 L81.0,534.9 L81.3,534.4 L81.6,534.4 L81.9,535.0 L82.2,534.6 L82.5,534.3 L82.8,534.2 L83.1,534.6 L83.4,534.7 L83.7,534.2 L84.0,533.6 L84.3,534.0 L84.6,533.3 L84.9,533.7 L85.2,533.5 L85.5,533.7 L85.8,533.6 L86.1,534.2 L86.4,533.3 L86.7,533.0 L87.0,533.6 L87.3,534.8 L87.6,534.2 L87.9,533.9 L88.2,534.8 L88.5,534.8 L88.8,534.5 L89.1,534.7 L89.4,534.7 L89.7,535.1 L90.0,535.1 L90.3,534.9 L90.6,534.8 L90.9,534.8 L91.2,534.7 L91.5,535.4 L91.8,535.5 L92.1,535.0 L92.4,534.7 L92.7,535.0 L93.0,534.5 L93.3,534.9 L93.6,534.8 L93.9,534.4 L94.2,535.6 L94.5,534.9 L94.8,534.9 L95.1,534.1 L95.4,535.0 L95.7,534.8 L96.0,534.9 L96.3,533.9 L96.6,534.6 L96.9,534.2 L97.2,534.3 L97.5,534.3 L97.8,533.9 L98.1,533.3 L98.4,534.0 L98.7,533.8 L99.0,533.0 L99.3,533.5 L99.6,533.9 L99.9,533.5 L100.1,534.2 L100.4,533.6 L100.7,534.5 L101.0,534.1 L101.3,533.9 L101.6,534.2 L101.9,534.1 L102.2,534.6 L102.5,533.7 L102.8,533.3 L103.1,534.1 L103.4,533.8 L103.7,533.9 L104.0,533.4 L104.3,534.4 L104.6,534.7 L104.9,534.4 L105.2,534.3 L105.5,534.4 L105.8,533.3 L106.1,534.4 L106.4,533.9 L106.7,534.3 L107.0,534.0 L107.3,533.2 L107.6,532.7 L107.9,533.2 L108.2,532.2 L108.5,532.6 L108.8,532.8 L109.1,531.9 L109.4,531.6 L109.7,531.9 L110.0,532.2 L110.3,531.0 L110.6,531.1 L110.9,530.4 L111.2,530.8 L111.5,529.7 L111.8,529.9 L112.1,530.7 L112.4,529.7 L112.7,530.6 L113.0,530.3 L113.3,529.9 L113.6,530.3 L113.9,529.9 L114.2,529.9 L114.5,529.9 L114.8,530.5 L115.1,530.5 L115.4,529.6 L115.7,529.9 L116.0,529.9 L116.3,529.2 L116.6,529.5 L116.9,529.3 L117.2,529.7 L117.5,528.7 L117.8,529.0 L118.1,529.5 L118.4,529.7 L118.7,529.9 L119.0,529.8 L119.3,530.0 L119.6,529.4 L119.9,530.4 L120.1,529.8 L120.4,529.4 L120.7,528.7 L121.0,528.3 L121.3,528.3 L121.6,528.8 L121.9,529.4 L122.2,529.7 L122.5,529.2 L122.8,528.6 L123.1,529.0 L123.4,528.9 L123.7,529.4 L124.0,528.8 L124.3,529.0 L124.6,529.2 L124.9,528.2 L125.2,529.0 L125.5,529.6 L125.8,529.9 L126.1,529.6 L126.4,529.4 L126.7,529.5 L127.0,528.7 L127.3,529.0 L127.6,529.2 L127.9,528.9 L128.2,529.3 L128.5,529.2 L128.8,528.9 L129.1,528.9 L129.4,529.1 L129.7,529.2 L130.0,528.9 L130.3,529.1 L130.6,529.1 L130.9,528.5 L131.2,529.1 L131.5,527.8 L131.8,529.2 L132.1,527.7 L132.4,527.7 L132.7,528.5 L133.0,527.9 L133.3,528.0 L133.6,528.1 L133.9,527.5 L134.1,527.5 L134.4,528.1 L134.7,527.5 L135.0,528.2 L135.3,527.4 L135.6,528.1 L135.9,527.5 L136.2,527.6 L136.5,527.2 L136.8,527.0 L137.1,527.7 L137.4,526.7 L137.7,526.9 L138.0,528.1 L138.3,527.2 L138.6,527.9 L138.9,528.1 L139.2,527.4 L139.5,527.4 L139.8,527.9 L140.1,527.8 L140.4,528.0 L140.7,526.8 L141.0,526.9 L141.3,527.3 L141.6,527.7 L141.9,526.4 L142.2,526.9 L142.5,527.5 L142.8,527.2 L143.1,526.6 L143.4,526.1 L143.7,526.3 L144.0,525.5 L144.3,526.2 L144.6,526.5 L144.9,526.4 L145.2,526.3 L145.5,526.5 L145.8,526.8 L146.2,527.5 L146.5,527.1 L146.8,527.8 L147.1,527.0 L147.4,528.3 L147.7,528.4 L148.0,527.5 L148.3,528.0 L148.6,528.2 L148.9,528.1 L149.2,527.2 L149.5,527.7 L149.8,526.6 L150.1,526.9 L150.4,526.4 L150.7,527.1 L151.0,526.8 L151.3,526.3 L151.6,526.6 L151.9,526.9 L152.2,526.4 L152.5,527.7 L152.8,526.7 L153.1,526.8 L153.4,527.5 L153.7,525.7 L154.0,527.2 L154.3,526.2 L154.6,527.1 L154.9,526.7 L155.2,526.3 L155.5,526.1 L155.8,527.4 L156.1,527.0 L156.4,527.4 L156.7,527.2 L157.0,528.4 L157.3,527.8 L157.6,527.6 L157.9,528.5 L158.2,528.6 L158.5,527.6 L158.8,528.5 L159.1,529.3 L159.4,528.8 L159.7,528.8 L160.0,528.1 L160.3,528.8 L160.6,529.1 L160.9,528.6 L161.2,528.4 L161.5,528.6 L161.8,528.6 L162.1,528.5 L162.4,528.2 L162.7,528.6 L163.0,527.5 L163.3,528.1 L163.6,528.2 L163.9,528.4 L164.2,528.6 L164.5,529.0 L164.8,528.6 L165.1,528.5 L165.4,527.6 L165.7,528.3 L166.0,529.1 L166.3,529.1 L166.6,529.1 L166.9,529.3 L167.2,529.5 L167.5,530.3 L167.8,530.2 L168.1,530.3 L168.4,530.2 L168.7,529.7 L169.0,530.5 L169.3,529.6 L169.6,529.4 L169.9,529.5 L170.1,530.0 L170.4,530.1 L170.7,529.9 L171.0,529.8 L171.3,529.5 L171.6,529.8 L171.9,529.7 L172.2,529.9 L172.5,529.4 L172.8,530.2 L173.1,530.2 L173.4,529.8 L173.7,529.2 L174.0,529.8 L174.3,529.9 L174.6,529.6 L174.9,530.6 L175.2,530.1 L175.5,530.7 L175.8,531.2 L176.1,530.1 L176.4,530.5 L176.7,530.6 L177.0,531.3 L177.3,532.0 L177.6,532.3 L177.9,532.2 L178.1,531.1 L178.4,531.8 L178.7,531.5 L179.0,532.2 L179.3,532.4 L179.6,532.0 L179.9,532.5 L180.2,532.2 L180.5,532.5 L180.8,531.9 L181.1,531.6 L181.4,532.3 L181.7,532.4 L182.0,532.1 L182.3,531.1 L182.6,531.7 L182.9,531.0 L183.2,531.8 L183.5,531.8 L183.8,532.1 L184.1,531.9 L184.4,532.1 L184.7,531.2 L185.0,532.4 L185.3,532.0 L185.6,532.5 L185.9,531.9 L186.1,532.2 L186.4,531.9 L186.7,532.0 L187.0,532.2 L187.3,531.7 L187.6,532.1 L187.9,533.2 L188.2,532.6 L188.5,533.2 L188.8,532.8 L189.1,533.4 L189.4,533.2 L189.7,534.9 L190.0,533.5 L190.3,534.2 L190.6,532.6 L190.9,533.0 L191.2,532.8 L191.5,532.7 L191.8,532.8 L192.1,531.7 L192.4,531.3 L192.7,531.8 L193.0,531.1 L193.3,530.7 L193.6,531.8 L193.9,531.2 L194.2,531.2 L194.5,531.0 L194.8,530.9 L195.1,531.5 L195.4,531.5 L195.7,532.0 L196.0,531.5 L196.3,531.5 L196.6,531.9 L196.9,531.8 L197.2,531.3 L197.5,531.8 L197.8,531.7 L198.1,532.0 L198.4,532.5 L198.7,532.2 L199.0,532.9 L199.3,532.5 L199.6,532.5 L199.9,532.6 L200.1,532.5 L200.4,531.7 L200.7,531.9 L201.0,531.6 L201.3,531.9 L201.6,532.3 L201.9,532.0 L202.2,532.9 L202.5,532.8 L202.8,533.6 L203.1,533.2 L203.4,533.5 L203.7,532.4 L204.0,533.2 L204.3,532.5 L204.6,532.7 L204.9,533.7 L205.2,533.3 L205.5,533.6 L205.8,533.5 L206.1,533.1 L206.4,533.4 L206.7,532.9 L207.0,531.9 L207.3,533.3 L207.6,532.4 L207.9,532.5 L208.1,532.8 L208.4,533.2 L208.7,532.5 L209.0,532.6 L209.3,531.4 L209.6,532.6 L209.9,532.5 L210.2,532.0 L210.5,531.4 L210.8,532.1 L211.1,531.4 L211.4,532.2 L211.7,531.8 L212.0,532.0 L212.3,532.6 L212.6,532.9 L212.9,532.4 L213.2,533.1 L213.5,533.1 L213.8,533.4 L214.1,533.5 L214.4,533.9 L214.7,533.5 L215.0,533.9 L215.3,534.7 L215.6,534.4 L215.9,534.3 L216.2,534.6 L216.5,534.9 L216.8,533.9 L217.1,534.9 L217.4,534.9 L217.7,535.1 L218.0,536.3 L218.3,536.1 L218.6,535.4 L218.9,536.1 L219.2,535.7 L219.5,536.1 L219.8,536.6 L220.2,536.0 L220.5,536.2 L220.8,536.9 L221.1,536.6 L221.4,537.2 L221.7,537.2 L222.0,537.6 L222.3,536.5 L222.6,536.7 L222.9,537.1 L223.2,536.8 L223.5,536.5 L223.8,536.4 L224.1,536.7 L224.4,536.7 L224.7,537.2 L225.0,536.8 L225.3,536.9 L225.6,537.2 L225.9,537.3 L226.2,536.8 L226.5,536.6 L226.8,537.6 L227.1,537.2 L227.4,537.0 L227.7,536.8 L228.0,537.1 L228.3,537.3 L228.6,536.9 L228.9,536.8 L229.1,536.2 L229.4,536.3 L229.7,536.6 L230.0,536.8 L230.3,536.6 L230.6,536.8 L230.9,537.3 L231.2,537.2 L231.5,537.0 L231.8,537.3 L232.1,538.7 L232.4,538.6 L232.7,538.0 L233.0,537.8 L233.3,537.8 L233.6,538.8 L233.9,538.2 L234.2,539.1 L234.5,538.9 L234.8,539.0 L235.1,538.5 L235.4,538.1 L235.7,538.3 L236.0,538.4 L236.3,538.7 L236.6,538.3 L236.9,538.4 L237.2,538.7 L237.5,537.7 L237.8,538.9 L238.1,538.1 L238.4,538.1 L238.7,538.5 L239.0,537.8 L239.3,537.6 L239.6,538.3 L239.9,537.9 L240.2,538.0 L240.5,537.0 L240.8,537.7 L241.1,537.5 L241.4,537.7 L241.7,537.3 L242.0,538.5 L242.3,539.1 L242.6,538.7 L242.9,538.2 L243.2,537.5 L243.5,537.9 L243.8,537.8 L244.1,537.7 L244.4,537.3 L244.6,538.0 L244.9,537.6 L245.2,536.6 L245.5,536.6 L245.8,536.6 L246.1,536.3 L246.4,536.7 L246.7,536.6 L247.0,536.5 L247.3,536.3 L247.6,536.1 L247.9,536.2 L248.2,536.1 L248.5,536.0 L248.8,535.3 L249.1,536.2 L249.4,535.8 L249.7,535.5 L250.0,535.8 L250.3,536.8 L250.6,536.4 L250.9,537.3 L251.2,536.5 L251.5,537.6 L251.8,536.3 L252.1,537.3 L252.4,536.9 L252.7,536.5 L253.0,535.5 L253.3,535.7 L253.6,535.9 L253.9,535.9 L254.1,535.8 L254.4,535.3 L254.7,534.5 L255.0,535.4 L255.3,535.0 L255.6,535.6 L255.9,534.9 L256.2,535.3 L256.5,536.1 L256.8,535.8 L257.1,536.2 L257.4,535.6 L257.7,535.3 L258.0,535.1 L258.3,535.1 L258.6,535.0 L259.0,534.4 L259.3,533.7 L259.6,534.6 L259.9,533.7 L260.2,534.3 L260.5,534.5 L260.8,534.5 L261.1,534.5 L261.4,533.9 L261.7,533.7 L262.0,533.0 L262.3,534.0 L262.6,534.3 L263.0,533.9 L263.3,533.6 L263.6,534.5 L263.9,533.2 L264.2,533.5 L264.5,533.8 L264.8,533.5 L265.1,532.8 L265.4,532.8 L265.7,532.6 L266.0,533.3 L266.3,532.9 L266.6,532.8 L266.9,532.2 L267.2,532.4 L267.5,532.2 L267.8,533.2 L268.1,532.9 L268.4,533.3 L268.8,532.4 L269.1,532.9 L269.4,532.8 L269.7,533.2 L270.0,532.5 L270.3,532.8 L270.6,532.1 L270.9,531.3 L271.2,532.3 L271.5,531.6 L271.8,531.9 L272.1,531.9 L272.4,533.0 L272.7,532.2 L273.0,532.4 L273.2,532.4 L273.5,532.7 L273.8,533.1 L274.1,531.8 L274.4,531.8 L274.7,532.9 L275.0,532.5 L275.3,533.0 L275.6,533.7 L275.9,534.1 L276.2,534.1 L276.5,533.8 L276.8,533.8 L277.1,534.1 L277.4,533.5 L277.7,534.5 L278.0,534.0 L278.2,534.8 L278.5,534.8 L278.8,535.5 L279.1,535.8 L279.4,536.2 L279.7,536.1 L280.0,535.0 L280.3,535.7 L280.6,535.4 L280.9,535.7 L281.2,535.7 L281.5,535.7 L281.8,535.2 L282.1,533.9 L282.4,535.1 L282.7,534.0 L283.0,533.7 L283.3,533.6 L283.6,534.3 L283.9,534.9 L284.2,534.4 L284.5,534.0 L284.8,534.6 L285.1,533.4 L285.4,534.3 L285.7,534.2 L286.0,534.0 L286.3,534.1 L286.6,533.7 L286.9,533.9 L287.2,534.4 L287.5,533.9 L287.8,534.1 L288.1,534.0 L288.3,533.0 L288.6,533.9 L288.9,533.6 L289.2,533.8 L289.5,534.1 L289.8,533.1 L290.1,532.8 L290.4,532.6 L290.7,532.6 L291.0,533.5 L291.3,532.1 L291.6,532.1 L291.9,532.4 L292.2,532.0 L292.5,532.1 L292.8,532.3 L293.1,532.4 L293.4,532.5 L293.7,532.9 L294.0,533.0 L294.4,533.4 L294.7,533.3 L295.0,533.3 L295.3,533.3 L295.6,533.4 L295.9,532.6 L296.2,533.4 L296.5,531.7 L296.8,531.7 L297.1,532.4 L297.4,531.9 L297.7,532.1 L298.0,532.9 L298.3,533.4 L298.6,533.3 L298.9,533.6 L299.2,534.6 L299.5,534.8 L299.8,535.3 L300.1,535.6 L300.4,534.7 L300.7,534.6 L301.0,535.3 L301.2,534.9 L301.5,535.9 L301.8,536.3 L302.1,536.5 L302.4,536.4 L302.7,536.0 L303.0,536.0 L303.3,535.9 L303.6,536.8 L303.9,536.3 L304.2,537.2 L304.5,536.5 L304.8,536.2 L305.1,536.9 L305.4,536.2 L305.7,537.1 L306.0,536.7 L306.3,536.4 L306.6,536.7 L306.9,536.6 L307.3,536.7 L307.6,536.3 L307.9,536.2 L308.2,536.3 L308.5,536.4 L308.8,536.0 L309.1,536.6 L309.4,535.8 L309.7,535.6 L310.0,536.1 L310.3,536.3 L310.6,536.4 L310.9,536.5 L311.2,536.3 L311.5,536.9 L311.8,536.4 L312.1,536.5 L312.4,536.2 L312.7,535.8 L313.0,536.6 L313.3,535.7 L313.6,536.4 L313.9,536.9 L314.2,536.2 L314.5,536.3 L314.8,535.9 L315.1,536.5 L315.4,535.9 L315.7,535.8 L316.0,535.5 L316.3,535.7 L316.6,535.9 L316.9,536.2 L317.2,535.2 L317.5,535.5 L317.8,536.3 L318.1,536.3 L318.4,536.4 L318.7,537.6 L319.0,537.1 L319.3,536.9 L319.6,536.8 L319.9,536.4 L320.2,537.4 L320.5,536.6 L320.8,536.7 L321.1,536.3 L321.4,537.1 L321.7,536.8 L322.0,536.8 L322.3,537.1 L322.6,536.8 L322.9,536.4 L323.2,536.0 L323.5,536.9 L323.8,536.9 L324.1,537.4 L324.4,537.2 L324.7,536.8 L325.0,535.5 L325.3,535.8 L325.6,535.9 L325.9,535.8 L326.2,536.1 L326.5,535.3 L326.8,535.6 L327.1,535.8 L327.4,535.4 L327.7,536.0 L328.0,535.5 L328.3,534.5 L328.6,536.1 L328.9,535.7 L329.2,535.6 L329.5,536.1 L329.8,536.0 L330.1,536.0 L330.4,535.7 L330.7,536.0 L331.0,536.0 L331.3,536.8 L331.6,537.2 L331.9,535.9 L332.2,536.5 L332.5,535.4 L332.8,536.2 L333.1,535.3 L333.4,535.8 L333.7,536.7 L334.0,536.2 L334.3,536.2 L334.6,536.7 L334.9,536.9 L335.2,537.3 L335.5,537.0 L335.8,537.5 L336.1,536.5 L336.4,537.1 L336.7,537.3 L337.0,537.4 L337.3,537.0 L337.6,537.1 L337.9,537.1 L338.2,536.8 L338.5,536.9 L338.8,537.2 L339.1,536.8 L339.4,536.6 L339.7,537.4 L340.0,536.8 L340.3,536.7 L340.6,536.8 L340.9,536.7 L341.2,537.5 L341.5,536.8 L341.8,536.8 L342.1,536.4 L342.4,536.2 L342.7,536.5 L343.0,535.7 L343.3,535.6 L343.6,535.6 L343.9,535.2 L344.2,535.9 L344.5,535.8 L344.8,535.5 L345.1,535.4 L345.4,535.7 L345.7,534.3 L346.0,534.5 L346.3,535.0 L346.6,534.8 L346.9,534.9 L347.2,535.2 L347.5,535.6 L347.8,535.9 L348.1,536.0 L348.4,535.8 L348.7,535.4 L349.0,536.3 L349.3,535.3 L349.6,535.3 L349.9,535.1 L350.2,535.6 L350.5,535.2 L350.8,535.6 L351.1,535.7 L351.4,535.2 L351.7,535.3 L352.0,535.9 L352.3,535.5 L352.6,535.2 L352.9,535.0 L353.2,535.8 L353.5,535.5 L353.8,536.8 L354.1,536.4 L354.4,536.9 L354.7,537.4 L355.0,537.5 L355.3,537.8 L355.6,537.2 L355.9,537.6 L356.2,536.9 L356.5,537.0 L356.8,537.0 L357.1,536.4 L357.4,537.0 L357.7,537.2 L358.0,537.8 L358.3,537.5 L358.6,537.1 L358.9,537.1 L359.2,536.5 L359.5,537.4 L359.8,537.7 L360.1,538.0 L360.4,539.0 L360.7,538.0 L361.0,539.5 L361.3,540.0 L361.5,540.4 L361.8,540.6 L362.1,540.8 L362.4,542.1 L362.7,543.2 L363.0,543.9 L363.3,545.1 L363.6,545.4 L363.9,545.7 L364.1,546.9 L364.4,547.1 L364.7,548.5 L365.0,549.3 L365.3,549.7 L365.6,550.0 L365.9,550.6 L366.1,550.4 L366.4,551.6 L366.7,551.4 L367.0,552.0 L367.3,552.4 L367.6,552.9 L367.9,553.2 L368.1,553.8 L368.4,554.4 L368.7,554.8 L369.0,554.5 L369.3,554.6 L369.6,554.3 L369.9,553.3 L370.1,552.7 L370.4,552.3 L370.7,552.1 L371.0,552.0 L371.3,551.2 L371.6,551.6 L371.9,551.3 L372.2,551.4 L372.5,550.8 L372.7,551.2 L373.0,551.4 L373.3,550.7 L373.6,550.3 L373.9,549.6 L374.2,548.5 L374.5,548.7 L374.8,548.8 L375.1,549.1 L375.4,548.0 L375.7,548.8 L376.0,548.2 L376.2,548.8 L376.5,548.8 L376.8,548.3 L377.1,548.2 L377.4,547.8 L377.7,547.7 L378.0,547.7 L378.3,547.5 L378.6,547.0 L378.9,547.3 L379.2,547.7 L379.5,547.6 L379.8,547.1 L380.2,547.0 L380.5,546.7 L380.8,546.3 L381.1,546.8 L381.4,546.9 L381.7,546.5 L382.0,546.9 L382.3,547.3 L382.6,546.3 L382.9,546.1 L383.2,545.7 L383.5,546.5 L383.8,547.2 L384.1,546.4 L384.4,545.9 L384.6,546.2 L384.9,545.4 L385.2,546.0 L385.5,546.2 L385.8,546.1 L386.1,545.9 L386.4,545.5 L386.7,546.7 L387.0,546.5 L387.3,545.7 L387.6,545.7 L387.9,544.5 L388.2,545.0 L388.5,543.7 L388.7,544.0 L389.0,544.2 L389.3,543.7 L389.6,543.1 L389.9,542.9 L390.2,543.2 L390.5,543.8 L390.8,543.8 L391.1,543.3 L391.4,542.8 L391.7,542.9 L392.0,543.2 L392.3,543.1 L392.6,543.4 L392.9,543.8 L393.2,543.1 L393.5,544.0 L393.8,544.0 L394.1,544.7 L394.4,544.1 L394.7,544.4 L395.0,545.1 L395.3,544.5 L395.6,544.8 L395.9,543.7 L396.2,543.6 L396.5,543.0 L396.8,543.6 L397.1,543.7 L397.5,543.3 L397.8,543.3 L398.1,544.2 L398.4,543.8 L398.7,543.5 L399.0,543.4 L399.3,543.5 L399.6,542.4 L399.9,542.7 L400.2,542.6 L400.5,542.7 L400.8,543.0 L401.1,543.6 L401.4,543.4 L401.7,543.0 L402.1,542.5 L402.4,542.8 L402.7,542.9 L403.0,543.6 L403.3,543.1 L403.6,543.3 L403.9,543.0 L404.2,543.5 L404.5,543.5 L404.8,543.4 L405.1,543.3 L405.4,543.2 L405.7,543.4 L406.0,543.4 L406.3,542.9 L406.7,543.0 L407.0,542.4 L407.3,542.6 L407.6,542.5 L407.9,542.3 L408.2,542.2 L408.5,542.1 L408.8,542.1 L409.1,542.1 L409.4,542.5 L409.7,542.5 L410.0,543.3 L410.3,542.7 L410.6,542.7 L410.9,543.9 L411.1,543.2 L411.4,543.4 L411.7,543.7 L412.0,543.1 L412.3,542.8 L412.6,542.9 L412.9,542.9 L413.2,542.8 L413.5,543.5 L413.8,542.7 L414.1,542.7 L414.4,542.3 L414.7,543.1 L415.0,542.9 L415.3,543.0 L415.6,543.0 L415.9,544.1 L416.2,543.6 L416.5,543.7 L416.8,543.4 L417.1,543.9 L417.4,544.2 L417.7,543.2 L418.0,543.7 L418.3,543.5 L418.6,544.0 L418.9,544.0 L419.2,543.7 L419.5,544.5 L419.8,544.9 L420.1,544.2 L420.4,544.3 L420.6,544.7 L420.9,545.1 L421.2,545.3 L421.5,545.6 L421.8,545.8 L422.1,545.3 L422.4,545.4 L422.7,545.7 L423.0,544.9 L423.3,544.8 L423.6,545.1 L423.9,544.6 L424.2,544.4 L424.5,545.0 L424.8,543.7 L425.2,544.2 L425.5,544.6 L425.8,544.5 L426.1,544.6 L426.4,545.0 L426.7,544.7 L427.0,544.8 L427.3,545.1 L427.6,543.8 L427.9,544.0 L428.2,544.7 L428.5,545.2 L428.8,545.4 L429.1,545.5 L429.4,545.1 L429.6,545.9 L429.9,546.0 L430.2,544.8 L430.5,544.7 L430.8,545.0 L431.1,545.4 L431.4,545.7 L431.7,545.0 L432.0,544.6 L432.3,544.5 L432.6,544.0 L432.9,544.4 L433.2,543.8 L433.5,544.2 L433.8,544.1 L434.1,544.0 L434.4,544.0 L434.7,544.2 L435.0,543.9 L435.3,544.0 L435.6,542.7 L435.9,543.3 L436.2,542.2 L436.5,541.7 L436.8,541.6 L437.1,541.6 L437.4,540.2 L437.7,540.0 L438.0,540.3 L438.3,539.0 L438.6,539.5 L438.9,538.7 L439.2,539.7 L439.5,539.1 L439.8,538.9 L440.1,538.4 L440.4,537.4 L440.7,537.5 L441.0,537.6 L441.3,538.5 L441.6,538.2 L441.9,538.1 L442.2,537.7 L442.5,537.6 L442.8,538.1 L443.1,537.3 L443.4,537.5 L443.7,537.0 L444.0,536.8 L444.3,537.5 L444.6,536.9 L444.9,537.4 L445.2,536.7 L445.5,536.5 L445.8,537.2 L446.1,536.9 L446.4,536.7 L446.7,536.4 L447.0,536.0 L447.3,536.5 L447.6,536.0 L447.9,535.6 L448.2,535.1 L448.5,536.1 L448.8,536.2 L449.1,535.9 L449.4,535.8 L449.7,535.6 L450.0,535.7 L450.3,536.3 L450.6,536.1 L450.9,535.8 L451.2,534.9 L451.5,534.0 L451.8,534.1 L452.1,535.1 L452.4,535.4 L452.6,534.8 L452.9,533.9 L453.2,534.4 L453.5,533.7 L453.8,534.1 L454.1,533.4 L454.4,532.8 L454.7,533.3 L455.0,532.6 L455.3,533.2 L455.6,533.1 L455.9,533.8 L456.2,533.0 L456.5,532.9 L456.8,532.6 L457.1,533.4 L457.4,533.5 L457.6,534.2 L457.9,533.9 L458.2,534.1 L458.5,534.4 L458.8,534.5 L459.1,535.0 L459.4,534.6 L459.7,534.9 L460.0,534.8 L460.3,535.0 L460.6,534.8 L460.9,535.7 L461.2,535.8 L461.5,535.7 L461.8,536.0 L462.1,535.8 L462.4,535.9 L462.7,536.5 L463.0,536.9 L463.3,536.7 L463.6,536.5 L463.9,536.0 L464.1,535.7 L464.4,535.2 L464.7,535.6 L465.0,534.9 L465.3,534.9 L465.6,535.0 L465.9,534.5 L466.2,534.1 L466.5,534.6 L466.8,534.5 L467.1,534.1 L467.4,534.2 L467.7,533.6 L468.0,534.3 L468.3,534.1 L468.6,534.7 L468.9,534.7 L469.2,533.9 L469.5,534.6 L469.8,534.3 L470.1,534.1 L470.4,534.8 L470.7,534.8 L471.0,535.2 L471.3,534.3 L471.6,534.5 L471.9,535.3 L472.1,534.3 L472.4,535.2 L472.7,535.2 L473.0,534.6 L473.3,535.5 L473.6,535.5 L473.9,534.5 L474.2,535.0 L474.5,535.3 L474.8,534.6 L475.1,534.5 L475.4,534.6 L475.7,533.9 L476.0,534.2 L476.3,533.5 L476.6,532.6 L476.9,533.0 L477.2,532.5 L477.5,532.3 L477.8,531.9 L478.1,532.4 L478.4,532.1 L478.7,532.0 L479.0,531.9 L479.3,532.3 L479.6,531.9 L479.9,531.5 L480.1,531.4 L480.4,531.9 L480.7,532.1 L481.0,533.2 L481.3,532.6 L481.6,533.4 L481.9,533.1 L482.2,532.6 L482.5,533.8 L482.8,533.7 L483.1,533.4 L483.4,533.6 L483.7,533.2 L484.0,532.8 L484.3,534.1 L484.6,533.9 L484.9,533.2 L485.2,533.9 L485.5,533.1 L485.8,532.4 L486.1,532.8 L486.4,533.0 L486.7,533.2 L487.0,532.5 L487.3,533.1 L487.6,534.0 L487.9,534.5 L488.2,533.7 L488.5,535.1 L488.8,534.7 L489.1,534.9 L489.4,535.1 L489.7,534.6 L490.0,534.4 L490.3,535.1 L490.6,535.0 L490.9,534.2 L491.2,534.1 L491.5,534.6 L491.8,533.6 L492.1,532.7 L492.4,533.3 L492.7,533.8 L493.0,532.9 L493.3,533.9 L493.6,533.0 L493.9,532.0 L494.2,531.8 L494.5,532.2 L494.8,531.9 L495.1,531.4 L495.4,531.7 L495.7,531.9 L496.0,531.8 L496.3,531.6 L496.6,531.3 L496.9,532.2 L497.2,532.3 L497.5,532.2 L497.8,532.1 L498.1,533.4 L498.4,532.7 L498.7,532.2 L499.0,533.1 L499.3,533.6 L499.6,533.8 L499.9,533.9 L500.1,534.3 L500.4,533.9 L500.7,533.4 L501.0,533.5 L501.3,533.5 L501.6,533.4 L501.9,533.0 L502.2,532.9 L502.5,532.2 L502.8,532.8 L503.1,532.6 L503.4,531.9 L503.7,533.3 L504.0,532.9 L504.3,532.7 L504.6,532.9 L504.9,533.6 L505.2,534.0 L505.5,534.1 L505.8,533.4 L506.1,533.8 L506.4,532.9 L506.7,532.9 L507.0,532.9 L507.3,533.1 L507.6,532.8 L507.9,532.1 L508.1,533.5 L508.4,532.5 L508.7,532.6 L509.0,533.4 L509.3,532.9 L509.6,532.9 L509.9,533.8 L510.2,533.9 L510.5,533.7 L510.8,533.3 L511.1,534.0 L511.4,533.6 L511.7,534.1 L512.0,534.4 L512.3,534.2 L512.6,534.5 L512.9,534.1 L513.2,534.0 L513.5,533.7 L513.8,532.9 L514.1,533.9 L514.4,533.6 L514.7,533.1 L515.0,533.0 L515.3,533.2 L515.6,533.8 L515.9,533.8 L516.1,534.0 L516.4,533.4 L516.7,532.7 L517.0,533.2 L517.3,532.2 L517.6,532.8 L517.9,532.3 L518.2,532.4 L518.5,531.4 L518.8,531.8 L519.1,532.1 L519.4,532.3 L519.7,532.6 L520.0,532.1 L520.3,532.0 L520.6,532.1 L520.9,532.2 L521.2,532.1 L521.5,532.3 L521.8,531.3 L522.1,531.4 L522.4,532.4 L522.7,532.3 L523.0,532.6 L523.3,532.6 L523.6,532.0 L523.9,531.9 L524.1,532.0 L524.4,531.9 L524.7,532.4 L525.0,532.8 L525.3,532.6 L525.6,533.1 L525.9,533.3 L526.2,533.9 L526.5,533.2 L526.8,533.4 L527.1,533.5 L527.4,534.0 L527.7,533.2 L528.0,534.4 L528.3,533.2 L528.6,533.5 L528.9,532.8 L529.2,532.9 L529.5,532.7 L529.8,532.0 L530.1,532.6 L530.4,532.2 L530.7,531.8 L531.0,531.9 L531.3,531.9 L531.6,531.6 L531.9,531.8 L532.1,531.8 L532.4,532.3 L532.7,533.3 L533.0,532.8 L533.3,532.2 L533.6,532.7 L533.9,532.1 L534.2,532.1 L534.5,532.2 L534.8,532.7 L535.1,532.8 L535.4,532.1 L535.7,532.5 L536.0,531.8 L536.3,532.3 L536.6,531.2 L536.9,531.2 L537.2,531.6 L537.5,531.4 L537.8,531.0 L538.1,531.4 L538.4,530.4 L538.7,531.0 L539.0,531.6 L539.3,531.1 L539.7,531.9 L540.0,531.5 L540.3,531.6 L540.6,530.5 L540.9,531.2 L541.2,531.3 L541.5,530.7 L541.8,531.2 L542.1,530.9 L542.4,531.7 L542.7,531.7 L543.0,531.4 L543.3,531.7 L543.6,532.3 L543.9,531.7 L544.2,532.7 L544.5,533.7 L544.8,534.1 L545.1,534.4 L545.4,534.5 L545.7,533.5 L546.0,534.1 L546.3,534.8 L546.7,534.3 L547.0,534.7 L547.3,534.5 L547.6,535.4 L547.9,535.1 L548.2,535.3 L548.5,534.8 L548.8,534.9 L549.1,534.4 L549.4,534.6 L549.7,534.1 L550.0,533.9 L550.3,534.0 L550.6,534.4 L550.9,534.4 L551.2,534.7 L551.5,534.3 L551.8,534.1 L552.1,534.9 L552.4,534.7 L552.7,534.4 L553.0,534.4 L553.3,533.5 L553.6,533.4 L553.9,533.2 L554.1,533.4 L554.4,532.8 L554.7,532.8 L555.0,533.2 L555.3,532.5 L555.6,532.4 L555.9,532.3 L556.2,533.2 L556.5,533.1 L556.8,532.8 L557.1,532.7 L557.4,532.1 L557.7,532.9 L558.0,532.9 L558.3,532.4 L558.6,532.5 L558.9,533.0 L559.2,532.7 L559.5,532.4 L559.8,532.9 L560.1,533.6 L560.4,533.1 L560.7,532.8 L561.0,533.3 L561.3,533.1 L561.6,533.0 L561.9,532.4 L562.2,532.7 L562.5,533.1 L562.8,532.6 L563.1,532.6 L563.4,533.2 L563.7,532.2 L564.0,532.5 L564.3,532.0 L564.6,531.7 L564.9,531.4 L565.2,531.6 L565.5,531.8 L565.8,531.5 L566.1,530.3 L566.4,531.1 L566.6,530.2 L566.9,530.4 L567.2,530.8 L567.5,532.0 L567.8,531.5 L568.1,531.0 L568.4,530.4 L568.7,530.8 L569.0,530.6 L569.3,530.4 L569.6,530.4 L569.9,530.1 L570.2,530.2 L570.5,530.5 L570.8,531.2 L571.1,530.8 L571.4,531.9 L571.7,531.8 L572.0,532.0 L572.3,531.2 L572.6,532.2 L572.9,532.0 L573.2,531.5 L573.5,532.2 L573.8,532.1 L574.1,532.0 L574.4,533.1 L574.7,532.8 L575.0,533.1 L575.3,533.3 L575.6,533.0 L575.9,532.9 L576.2,533.0 L576.5,533.4 L576.8,533.1 L577.1,533.4 L577.4,532.6 L577.7,532.4 L578.0,533.2 L578.3,533.6 L578.6,533.0 L578.9,532.8 L579.2,532.5 L579.5,533.4 L579.8,532.3 L580.1,533.2 L580.4,533.7 L580.7,534.4 L581.0,534.2 L581.3,534.1 L581.6,534.6 L581.9,533.7 L582.2,534.2 L582.5,534.3 L582.8,534.5 L583.1,534.0 L583.4,533.9 L583.7,534.3 L584.0,534.0 L584.3,533.7 L584.7,534.3 L585.0,534.3 L585.3,534.9 L585.6,534.1 L585.9,534.1 L586.2,532.9 L586.5,533.4 L586.8,534.0 L587.1,532.9 L587.4,533.7 L587.7,533.0 L588.0,533.1 L588.3,533.0 L588.6,533.9 L588.9,533.3 L589.2,533.2 L589.5,533.7 L589.8,534.1 L590.1,533.8 L590.4,533.6 L590.7,535.0 L591.0,534.6 L591.3,533.9 L591.6,534.6 L591.9,535.1 L592.2,535.3 L592.5,536.9 L592.8,536.8 L593.1,536.7 L593.4,536.1 L593.7,536.2 L594.0,537.5 L594.3,537.0 L594.6,537.6 L594.9,537.2 L595.2,537.1 L595.5,536.5 L595.8,536.3 L596.1,536.5 L596.4,536.0 L596.7,535.5 L597.0,534.9 L597.3,534.9 L597.6,534.7 L597.9,534.0 L598.2,534.4 L598.5,534.5 L598.8,533.5 L599.1,534.2 L599.4,534.3 L599.7,534.7 L600.0,533.9 L600.3,534.6 L600.6,535.7 L600.9,535.8 L601.2,535.4 L601.5,535.6 L601.8,535.6 L602.1,535.8 L602.4,536.1 L602.7,536.8 L603.0,537.1 L603.3,537.8 L603.6,536.7 L603.9,537.0 L604.2,537.6 L604.5,537.0 L604.8,538.0 L605.1,538.9 L605.4,538.9 L605.7,539.2 L606.0,539.2 L606.3,539.1 L606.6,539.0 L606.9,539.0 L607.2,539.1 L607.5,538.4 L607.8,538.5 L608.1,539.9 L608.4,539.2 L608.7,539.1 L609.0,539.3 L609.3,539.4 L609.6,539.1 L609.9,539.5 L610.2,538.9 L610.5,539.5 L610.8,539.5 L611.1,539.7 L611.4,539.4 L611.7,539.6 L612.0,539.7 L612.3,539.8 L612.6,539.3 L612.9,538.9 L613.2,538.8 L613.5,538.4 L613.8,538.1 L614.1,538.3 L614.4,538.1 L614.7,537.5 L615.0,537.6 L615.3,536.8 L615.6,536.5 L615.9,536.7 L616.1,535.8 L616.4,535.9 L616.7,535.8 L617.0,535.9 L617.3,535.7 L617.6,536.1 L617.9,536.5 L618.2,535.5 L618.5,535.8 L618.8,535.7 L619.1,535.6 L619.4,536.2 L619.7,536.1 L620.0,536.7 L620.3,535.9 L620.6,535.8 L620.9,535.0 L621.2,535.4 L621.5,536.0 L621.8,535.6 L622.1,535.5 L622.4,535.7 L622.7,535.3 L623.0,535.8 L623.3,535.0 L623.7,534.8 L624.0,535.6 L624.3,535.4 L624.6,534.6 L624.9,535.3 L625.2,535.3 L625.5,535.6 L625.8,535.4 L626.1,535.5 L626.4,536.2 L626.7,536.6 L627.0,536.1 L627.3,536.7 L627.6,536.6 L627.9,536.8 L628.2,536.6 L628.5,536.1 L628.8,537.1 L629.1,536.6 L629.4,536.7 L629.7,535.5 L630.0,535.9 L630.3,535.9 L630.6,536.6 L630.9,535.3 L631.2,535.2 L631.5,535.3 L631.8,535.5 L632.1,536.0 L632.4,536.4 L632.6,537.0 L632.9,536.8 L633.2,538.2 L633.5,538.0 L633.8,537.9 L634.1,538.3 L634.4,539.1 L634.7,538.7 L635.0,539.0 L635.3,538.6 L635.6,538.4 L635.9,538.7 L636.2,539.1 L636.5,538.6 L636.8,537.8 L637.1,537.6 L637.4,538.0 L637.7,538.6 L638.0,538.8 L638.3,539.3 L638.6,539.3 L638.9,539.8 L639.2,540.7 L639.5,538.8 L639.8,539.3 L640.1,538.6 L640.4,538.7 L640.7,538.9 L641.0,539.4 L641.3,540.0 L641.6,540.0 L641.9,539.2 L642.2,539.1 L642.5,538.7 L642.8,538.2 L643.1,538.0 L643.4,538.4 L643.6,538.2 L643.9,537.5 L644.2,537.5 L644.5,537.4 L644.8,536.7 L645.1,536.9 L645.4,536.6 L645.7,535.5 L646.0,536.3 L646.3,536.2 L646.6,536.4 L646.9,536.7 L647.2,535.8 L647.5,535.9 L647.8,535.4 L648.1,536.0 L648.4,535.4 L648.7,534.5 L649.0,535.0 L649.3,535.4 L649.7,534.5 L650.0,535.0 L650.3,535.5 L650.6,535.7 L650.9,536.1 L651.2,535.5 L651.5,535.8 L651.8,535.2 L652.1,535.1 L652.4,534.3 L652.7,534.8 L653.0,535.4 L653.3,534.7 L653.6,535.4 L653.9,535.4 L654.2,535.0 L654.5,535.2 L654.8,534.9 L655.1,535.3 L655.4,534.9 L655.7,535.1 L656.0,535.4 L656.3,535.6 L656.6,535.7 L656.9,536.7 L657.2,536.5 L657.5,536.5 L657.8,536.1 L658.1,537.2 L658.4,536.2 L658.7,536.7 L659.0,537.2 L659.3,536.9 L659.6,536.9 L659.9,536.5 L660.2,536.1 L660.5,535.8 L660.8,535.4 L661.1,535.3 L661.4,535.0 L661.7,534.8 L662.0,535.4 L662.3,535.3 L662.6,534.6 L662.9,535.0 L663.2,535.2 L663.5,535.2 L663.8,534.5 L664.1,535.2 L664.4,533.0 L664.7,533.8 L665.0,532.7 L665.3,532.8 L665.6,531.7 L665.9,531.7 L666.2,531.7 L666.5,531.7 L666.8,531.5 L667.1,531.6 L667.4,531.2 L667.7,532.9 L668.0,531.8 L668.3,532.5 L668.7,531.9 L669.0,532.7 L669.3,532.7 L669.6,533.0 L669.9,532.7 L670.2,532.7 L670.5,532.7 L670.8,532.8 L671.1,533.3 L671.4,532.4 L671.7,531.2 L672.0,531.1 L672.3,531.0 L672.6,531.8 L672.9,531.4 L673.2,530.6 L673.5,530.6 L673.8,530.9 L674.1,531.7 L674.4,530.9 L674.7,530.5 L675.0,530.9 L675.3,531.1 L675.7,531.5 L676.0,530.7 L676.3,530.7 L676.6,531.7 L676.9,532.1 L677.2,532.8 L677.5,533.1 L677.8,532.5 L678.1,532.1 L678.4,532.7 L678.7,532.8 L679.0,533.4 L679.3,533.1 L679.6,533.7 L679.9,534.1 L680.2,533.6 L680.5,534.6 L680.8,534.0 L681.2,534.2 L681.5,534.9 L681.8,534.7 L682.1,533.6 L682.4,534.6 L682.7,534.2 L683.0,534.8 L683.3,533.8 L683.6,533.6 L683.9,533.4 L684.2,534.5 L684.5,534.6 L684.8,534.5 L685.1,534.6 L685.4,534.4 L685.7,533.9 L686.0,534.0 L686.3,534.2 L686.7,533.5 L687.0,533.5 L687.3,533.4 L687.6,533.2 L687.9,533.3 L688.2,534.1 L688.5,533.2 L688.8,532.8 L689.1,533.0 L689.4,533.3 L689.7,532.7 L690.0,533.0 L690.3,532.6 L690.6,533.2 L690.9,532.7 L691.2,532.6 L691.5,532.6 L691.8,532.5 L692.1,532.7 L692.4,532.6 L692.7,533.5 L693.0,533.4 L693.3,533.3 L693.6,533.6 L693.9,533.6 L694.1,533.5 L694.4,534.6 L694.7,533.2 L695.0,534.1 L695.3,533.9 L695.6,533.6 L695.9,533.2 L696.2,534.2 L696.5,534.4 L696.8,534.0 L697.1,534.1 L697.4,533.9 L697.7,534.0 L698.0,533.7 L698.3,534.1 L698.6,534.9 L698.9,534.7 L699.2,534.7 L699.5,534.0 L699.8,534.0 L700.1,534.1 L700.4,534.2 L700.7,534.8 L701.0,534.2 L701.3,535.2 L701.6,534.6 L701.9,535.2 L702.1,535.8 L702.4,536.2 L702.7,535.5 L703.0,535.7 L703.3,535.7 L703.6,534.8 L703.9,535.9 L704.2,535.3 L704.5,535.0 L704.8,534.7 L705.1,534.7 L705.4,533.9 L705.7,534.0 L706.0,534.7 L706.3,535.1 L706.6,534.7 L706.9,534.9 L707.2,533.8 L707.5,535.2 L707.8,534.4 L708.1,534.7 L708.4,535.8 L708.7,535.2 L709.0,535.1 L709.3,535.1 L709.6,534.7 L709.9,534.5 L710.1,535.1 L710.4,534.5 L710.7,534.4 L711.0,535.0 L711.3,535.1 L711.6,534.6 L711.9,534.8 L712.2,533.9 L712.5,534.9 L712.8,534.5 L713.1,534.5 L713.4,535.4 L713.7,535.1 L714.0,534.7 L714.3,534.8 L714.6,534.0 L714.9,534.7 L715.2,534.1 L715.5,534.5 L715.8,533.8 L716.1,533.4 L716.4,534.0 L716.7,533.7 L717.0,533.9 L717.3,534.4 L717.7,533.2 L718.0,533.1 L718.3,533.0 L718.6,533.6 L718.9,533.5 L719.2,533.5 L719.5,534.2 L719.8,534.0 L720.1,534.1 L720.4,533.6 L720.7,532.5 L721.0,532.2 L721.3,532.4 L721.6,532.0 L721.9,532.2 L722.2,532.9 L722.5,532.7 L722.8,532.6 L723.1,532.6 L723.4,533.6 L723.7,532.7 L724.0,532.5 L724.3,533.2 L724.7,534.0 L725.0,534.3 L725.3,533.5 L725.6,532.7 L725.9,532.9 L726.2,533.0 L726.5,533.1 L726.8,533.2 L727.1,533.8 L727.4,533.7 L727.7,533.1 L728.0,534.4 L728.3,533.6 L728.6,533.4 L728.9,533.4 L729.2,533.9 L729.5,533.7 L729.8,533.9 L730.1,534.1 L730.4,533.9 L730.7,533.9 L731.0,533.7 L731.3,533.1 L731.6,533.5 L731.9,533.5 L732.2,533.7 L732.5,532.8 L732.8,533.6 L733.1,534.3 L733.4,533.5 L733.7,534.0 L734.0,533.9 L734.3,533.7 L734.6,534.2 L734.9,534.6 L735.2,534.4 L735.5,533.6 L735.8,534.0 L736.1,534.2 L736.4,534.4 L736.7,534.9 L737.0,534.8 L737.3,535.2 L737.6,534.9 L737.9,534.7 L738.2,535.0 L738.5,535.1 L738.8,535.5 L739.1,535.5 L739.4,534.9 L739.7,534.7 L740.0,535.1 L740.3,534.9 L740.6,535.1 L740.9,535.4 L741.2,535.9 L741.5,535.8 L741.8,535.6 L742.2,535.5 L742.5,535.5 L742.8,535.8 L743.1,534.9 L743.4,534.6 L743.7,535.0 L744.0,535.9 L744.3,535.4 L744.6,535.9 L744.9,536.1 L745.2,536.5 L745.5,536.9 L745.8,537.4 L746.2,537.0 L746.5,537.4 L746.8,537.7 L747.1,537.2 L747.4,537.7 L747.7,537.2 L748.0,538.3 L748.3,538.6 L748.6,537.8 L748.9,538.5 L749.2,537.8 L749.5,537.3 L749.8,537.5 L750.1,537.5 L750.4,537.4 L750.7,536.6 L751.0,537.1 L751.3,537.8 L751.6,537.0 L751.9,536.8 L752.2,537.0 L752.5,537.1 L752.8,536.3 L753.1,535.7 L753.4,536.9 L753.7,536.3 L754.0,535.7 L754.3,535.5 L754.6,536.2 L754.9,536.5 L755.2,536.3 L755.5,536.0 L755.8,537.2 L756.1,536.7 L756.4,536.1 L756.7,537.1 L757.0,536.4 L757.3,536.0 L757.6,536.2 L757.9,535.9 L758.2,535.1 L758.5,535.5 L758.8,534.9 L759.1,534.6 L759.4,535.4 L759.7,535.4 L760.0,534.8 L760.3,535.0 L760.6,535.0 L760.9,534.4 L761.2,534.5 L761.5,535.3 L761.8,534.9 L762.1,535.3 L762.4,535.1 L762.7,534.3 L763.0,534.4 L763.3,533.9 L763.6,534.0 L763.9,534.5 L764.2,534.1 L764.5,534.1 L764.8,533.8 L765.1,533.4 L765.4,533.5 L765.7,534.0 L766.0,534.2 L766.3,534.0 L766.6,534.5 L766.9,533.5 L767.2,535.1 L767.5,534.1 L767.8,534.8 L768.1,534.9 L768.4,534.8 L768.7,534.3 L769.0,534.1 L769.3,533.9 L769.6,534.3 L769.9,534.9 L770.2,534.3 L770.5,535.0 L770.8,535.3 L771.1,535.4 L771.4,536.2 L771.7,534.8 L772.0,535.0 L772.3,535.0 L772.6,535.7 L772.9,535.2 L773.2,535.3 L773.5,535.7 L773.8,534.4 L774.1,535.3 L774.4,534.4 L774.7,534.2 L775.0,534.3 L775.3,534.6 L775.6,534.4 L775.9,534.2 L776.2,534.9 L776.5,535.5 L776.8,534.9 L777.1,534.5 L777.4,533.7 L777.7,534.1 L778.0,533.6 L778.3,533.4 L778.6,534.1 L778.9,533.7 L779.2,534.3 L779.5,534.2 L779.8,533.8 L780.1,533.8 L780.4,534.1 L780.7,534.1 L781.0,533.7 L781.3,534.0 L781.6,533.0 L781.9,532.0 L782.2,532.5 L782.5,532.4 L782.8,531.8 L783.1,532.2 L783.4,532.0 L783.7,532.6 L784.0,532.1 L784.3,531.4 L784.6,531.7 L784.9,532.9 L785.2,531.4 L785.5,531.5 L785.8,532.0 L786.1,530.9 L786.4,532.2 L786.7,532.1 L787.0,532.0 L787.3,532.2 L787.6,531.4 L787.9,531.7 L788.2,532.1 L788.5,531.3 L788.8,531.6 L789.1,531.0 L789.4,530.7 L789.7,531.4 L790.0,531.4 L790.3,531.9 L790.6,531.5 L790.9,531.5 L791.2,531.7 L791.5,532.1 L791.8,531.1 L792.1,531.3 L792.4,531.2 L792.7,531.6 L793.0,531.4 L793.3,531.5 L793.6,531.1 L793.9,531.8 L794.2,532.2 L794.5,532.4 L794.8,532.9 L795.1,532.6 L795.4,533.2 L795.7,532.5 L796.0,532.7 L796.3,533.3 L796.6,532.6 L796.9,532.6 L797.2,531.8 L797.5,532.4 L797.8,532.7 L798.1,532.8 L798.4,532.1 L798.6,533.1 L798.9,533.3 L799.2,532.1 L799.5,532.6 L799.8,531.7 L800.1,531.7 L800.4,531.8 L800.7,531.8 L801.0,531.9 L801.3,531.8 L801.6,531.6 L801.9,531.8 L802.2,532.4 L802.5,531.4 L802.8,532.6 L803.1,532.2 L803.4,532.0 L803.6,531.5 L803.9,531.3 L804.2,531.0 L804.5,531.4 L804.8,532.0 L805.1,532.3 L805.4,531.4 L805.7,530.7 L806.0,530.9 L806.3,531.6 L806.6,530.7 L806.9,531.7 L807.2,531.4 L807.5,531.5 L807.8,531.9 L808.1,531.4 L808.4,530.8 L808.7,531.1 L809.0,531.8 L809.3,531.4 L809.6,531.9 L809.9,531.5 L810.2,530.6 L810.5,530.9 L810.8,531.2 L811.1,531.3 L811.4,531.1 L811.7,531.9 L812.0,532.0 L812.3,531.2 L812.6,531.9 L812.9,531.4 L813.2,531.4 L813.5,531.4 L813.8,531.6 L814.1,531.8 L814.4,531.7 L814.7,531.9 L815.0,533.0 L815.3,531.5 L815.6,531.5 L815.9,531.0 L816.2,531.6 L816.5,530.8 L816.8,531.7 L817.1,530.5 L817.4,531.4 L817.7,530.6 L818.0,531.7 L818.3,531.0 L818.6,530.3 L818.9,530.8 L819.2,530.7 L819.5,530.4 L819.8,530.3 L820.1,530.2 L820.4,530.3 L820.6,530.0 L820.9,530.1 L821.2,529.7 L821.5,530.1 L821.8,530.2 L822.1,530.1 L822.4,529.8 L822.7,530.1 L823.0,531.0 L823.3,529.6 L823.6,530.0 L823.9,529.8 L824.2,531.2 L824.5,530.7 L824.8,530.4 L825.1,531.1 L825.4,531.2 L825.6,531.0 L825.9,530.9 L826.2,531.4 L826.5,532.0 L826.8,531.7 L827.1,532.8 L827.4,532.6 L827.7,533.1 L828.0,533.9 L828.3,534.3 L828.6,532.7 L828.9,533.4 L829.1,532.9 L829.4,533.1 L829.7,532.8 L830.0,531.8 L830.3,532.3 L830.6,532.4 L830.9,532.4 L831.2,532.5 L831.5,533.0 L831.8,532.2 L832.1,532.5 L832.4,531.9 L832.6,531.9 L832.9,531.4 L833.2,532.0 L833.5,532.5 L833.8,531.5 L834.1,531.5 L834.4,530.7 L834.7,530.6 L835.0,530.2 L835.3,530.8 L835.6,530.5 L835.9,530.7 L836.2,531.5 L836.5,531.5 L836.8,532.5 L837.1,532.0 L837.4,532.4 L837.6,532.2 L837.9,531.1 L838.2,531.2 L838.5,531.9 L838.8,531.2 L839.1,531.9 L839.4,531.3 L839.7,531.2 L840.0,531.8 L840.3,531.6 L840.6,532.2 L840.9,531.2 L841.2,531.2 L841.5,532.1 L841.8,532.6 L842.1,531.9 L842.4,532.1 L842.6,531.1 L842.9,531.1 L843.2,530.1 L843.5,530.4 L843.8,529.4 L844.1,528.5 L844.4,528.4 L844.7,528.4 L845.0,528.4 L845.3,528.4 L845.6,528.6 L845.9,527.6 L846.2,528.1 L846.5,529.1 L846.8,528.5 L847.1,527.9 L847.4,528.5 L847.7,528.4 L848.0,527.6 L848.3,528.3 L848.6,528.0 L848.9,528.3 L849.2,527.6 L849.5,526.3 L849.8,527.2 L850.1,527.0 L850.4,526.9 L850.7,527.2 L851.0,527.1 L851.3,528.1 L851.6,528.3 L851.9,528.5 L852.2,527.5 L852.5,528.5 L852.8,528.7 L853.1,528.5 L853.4,528.5 L853.7,528.1 L854.0,527.8 L854.3,527.6 L854.6,527.5 L854.9,528.1 L855.2,528.8 L855.5,528.6 L855.8,529.6 L856.1,528.7 L856.4,528.2 L856.7,529.4 L857.0,529.4 L857.3,528.4 L857.6,528.6 L857.9,528.1 L858.2,529.0 L858.5,529.6 L858.8,528.9 L859.1,529.0 L859.4,529.3 L859.6,529.2 L859.9,528.9 L860.2,529.5 L860.5,529.3 L860.8,529.5 L861.1,529.4 L861.4,530.0 L861.7,530.6 L862.0,529.0 L862.3,529.4 L862.6,528.9 L862.9,528.2 L863.2,528.8 L863.5,529.2 L863.8,527.8 L864.2,528.0 L864.5,528.5 L864.8,527.9 L865.1,528.9 L865.4,528.6 L865.7,528.1 L866.0,528.4 L866.3,527.7 L866.6,528.5 L866.9,529.2 L867.2,529.5 L867.5,529.7 L867.8,529.6 L868.1,529.6 L868.4,529.0 L868.7,530.0 L869.0,530.4 L869.3,530.5 L869.6,529.9 L869.9,530.1 L870.2,529.2 L870.5,529.5 L870.8,530.2 L871.1,529.0 L871.4,529.5 L871.7,529.9 L872.0,529.4 L872.3,529.6 L872.6,530.0 L872.9,530.1 L873.2,530.2 L873.5,529.0 L873.8,529.2 L874.1,529.0 L874.4,529.1 L874.7,529.0 L875.0,529.1 L875.3,529.7 L875.6,529.6 L875.9,530.0 L876.2,530.0 L876.5,529.4 L876.8,528.7 L877.1,529.8 L877.4,529.1 L877.7,529.9 L878.0,530.7 L878.3,530.2 L878.6,529.9 L878.9,530.1 L879.2,530.5 L879.5,530.4 L879.8,530.3 L880.1,530.0 L880.4,530.4 L880.7,531.4 L881.0,530.1 L881.3,530.0 L881.6,530.0 L881.9,529.5 L882.2,529.8 L882.5,530.1 L882.8,529.7 L883.1,529.4 L883.4,529.8 L883.7,529.6 L884.0,530.3 L884.3,530.4 L884.6,531.1 L884.9,531.0 L885.2,531.7 L885.5,531.0 L885.8,530.9 L886.1,530.9 L886.4,531.1 L886.6,530.1 L886.9,531.0 L887.2,530.7 L887.5,531.7 L887.8,531.3 L888.1,531.4 L888.4,531.8 L888.7,532.0 L889.0,531.5 L889.3,532.0 L889.6,532.3 L889.9,532.1 L890.2,531.3 L890.5,531.2 L890.8,532.9 L891.1,532.0 L891.4,532.0 L891.6,531.6 L891.9,531.2 L892.2,530.9 L892.5,531.5 L892.8,531.3 L893.1,531.7 L893.4,532.4 L893.7,532.6 L894.0,532.5 L894.3,532.2 L894.6,532.1 L894.9,532.6 L895.2,533.0 L895.5,532.9 L895.8,533.3 L896.1,533.1 L896.4,533.2 L896.7,533.8 L897.0,533.2 L897.3,534.2 L897.6,533.8 L897.9,534.4 L898.2,534.9 L898.5,536.0 L898.8,535.9 L899.1,536.4 L899.4,536.8 L899.7,536.8 L900.0,537.4 L900.3,537.2 L900.6,536.1 L900.9,537.1 L901.2,535.4 L901.5,535.5 L901.8,534.9 L902.1,535.2 L902.4,534.8 L902.7,534.3 L903.0,534.1 L903.3,534.7 L903.6,534.8 L903.9,533.6 L904.2,533.1 L904.5,533.1 L904.8,533.6 L905.2,533.0 L905.5,532.7 L905.8,533.2 L906.1,532.2 L906.4,532.0 L906.7,532.1 L907.0,532.2 L907.3,531.9 L907.6,531.6 L907.9,531.8 L908.2,531.4 L908.5,530.3 L908.8,531.0 L909.1,530.6 L909.4,531.1 L909.6,530.3 L909.9,530.6 L910.2,530.4 L910.5,529.5 L910.8,529.8 L911.1,530.5 L911.4,530.2 L911.7,530.0 L912.0,530.4 L912.3,530.6 L912.6,530.6 L912.9,531.3 L913.2,530.7 L913.5,531.2 L913.8,531.1 L914.1,530.7 L914.4,531.1 L914.6,531.4 L914.9,530.6 L915.2,530.2 L915.5,531.3 L915.8,530.5 L916.1,531.0 L916.4,531.3 L916.7,530.4 L917.0,530.6 L917.3,530.7 L917.6,530.2 L917.9,530.5 L918.2,530.4 L918.5,530.5 L918.8,530.5 L919.1,531.0 L919.4,530.0 L919.6,530.4 L919.9,530.6 L920.2,530.4 L920.5,530.6 L920.8,530.3 L921.1,530.9 L921.4,530.4 L921.7,529.8 L922.0,530.0 L922.3,528.9 L922.6,529.6 L922.9,530.6 L923.2,529.4 L923.5,529.3 L923.8,528.3 L924.1,528.4 L924.4,528.6 L924.6,529.0 L924.9,528.2 L925.2,528.4 L925.5,528.5 L925.8,529.1 L926.1,528.2 L926.4,527.5 L926.7,528.0 L927.0,527.1 L927.3,526.8 L927.6,525.8 L927.9,524.9 L928.2,525.3 L928.5,525.5 L928.8,525.5 L929.1,524.7 L929.4,523.7 L929.6,524.0 L929.9,522.9 L930.2,524.4 L930.5,523.1 L930.8,524.3 L931.1,524.1 L931.4,523.5 L931.7,523.9 L932.0,523.9 L932.3,524.4 L932.6,524.4 L932.9,523.9 L933.2,524.0 L933.5,524.3 L933.8,523.6 L934.1,524.0 L934.4,522.6 L934.6,522.7 L934.9,523.8 L935.2,523.4 L935.5,524.2 L935.8,523.8 L936.1,524.2 L936.4,523.3 L936.7,522.2 L937.0,523.2 L937.3,523.3 L937.6,521.9 L937.9,522.7 L938.2,522.4 L938.5,522.6 L938.8,521.6 L939.2,521.6 L939.5,521.9 L939.8,523.0 L940.1,523.8 L940.4,523.3 L940.7,524.3 L941.0,524.1 L941.3,522.7 L941.6,522.7 L941.9,522.6 L942.2,521.5 L942.5,522.2 L942.8,521.4 L943.1,522.5 L943.4,521.8 L943.6,522.1 L943.9,521.8 L944.2,521.1 L944.5,521.0 L944.8,521.5 L945.1,520.8 L945.4,520.9 L945.7,520.0 L946.0,521.2 L946.3,521.6 L946.6,521.2 L946.9,521.3 L947.2,520.1 L947.5,520.7 L947.8,520.1 L948.1,520.3 L948.4,521.4 L948.6,520.8 L948.9,520.1 L949.2,520.5 L949.5,522.0 L949.8,522.0 L950.1,521.4 L950.4,520.5 L950.7,520.9 L951.0,521.0 L951.3,521.2 L951.6,521.3 L951.9,520.5 L952.2,521.2 L952.5,520.6 L952.8,520.8 L953.1,520.9 L953.4,520.2 L953.7,520.4 L954.0,520.9 L954.3,520.0 L954.6,520.5 L954.9,521.2 L955.2,519.8 L955.5,520.4 L955.8,520.1 L956.1,520.1 L956.4,519.4 L956.7,520.3 L957.0,519.4 L957.3,519.3 L957.6,519.0 L957.9,519.6 L958.2,519.2 L958.5,518.7 L958.8,518.6 L959.1,518.5 L959.4,518.6 L959.6,519.2 L959.9,519.1 L960.2,519.8 L960.5,520.7 L960.8,519.4 L961.1,519.9 L961.4,519.3 L961.7,518.7 L962.0,520.3 L962.3,521.0 L962.6,521.0 L962.9,520.9 L963.2,520.5 L963.5,519.8 L963.8,520.5 L964.2,521.2 L964.5,520.8 L964.8,521.5 L965.1,521.5 L965.4,521.4 L965.7,522.1 L966.0,521.8 L966.3,522.4 L966.6,521.0 L966.9,521.2 L967.2,521.9 L967.5,521.8 L967.8,521.9 L968.2,521.5 L968.5,520.1 L968.8,520.9 L969.1,520.0 L969.4,520.7 L969.7,519.6 L970.0,520.1 L970.3,520.4 L970.6,520.7 L970.9,520.2 L971.2,520.4 L971.5,520.0 L971.8,520.7 L972.2,520.4 L972.5,519.4 L972.8,519.3 L973.1,519.4 L973.4,519.4 L973.7,519.3 L974.0,519.7 L974.3,519.6 L974.6,518.8 L974.9,519.3 L975.2,518.5 L975.5,518.3 L975.8,517.4 L976.2,517.4 L976.5,517.5 L976.8,517.1 L977.1,516.2 L977.4,517.0 L977.7,518.1 L978.0,517.1 L978.3,517.4 L978.7,517.1 L979.0,517.0" stroke="#0000ff" stroke-width="3.1"/>
<path d="M30.0,538.2 L30.3,537.9 L30.6,538.2 L30.9,538.2 L31.2,538.1 L31.5,538.3 L31.8,538.5 L32.1,538.4 L32.4,538.0 L32.7,538.3 L33.0,539.1 L33.3,539.1 L33.6,539.1 L33.9,538.8 L34.2,539.5 L34.5,538.9 L34.8,538.6 L35.1,539.5 L35.4,539.1 L35.7,539.2 L36.0,539.9 L36.3,539.4 L36.6,539.5 L36.9,539.0 L37.2,539.5 L37.5,538.7 L37.8,538.2 L38.1,538.5 L38.4,538.8 L38.7,538.0 L39.0,538.4 L39.3,537.7 L39.6,538.3 L39.9,538.6 L40.1,538.6 L40.4,538.6 L40.7,537.7 L41.0,538.0 L41.3,537.9 L41.6,537.3 L41.9,536.7 L42.2,537.5 L42.5,537.1 L42.8,537.0 L43.1,536.5 L43.4,535.9 L43.7,536.1 L44.0,536.2 L44.3,536.9 L44.6,536.5 L44.9,536.1 L45.2,535.8 L45.5,536.6 L45.8,536.7 L46.1,536.7 L46.4,536.4 L46.7,536.7 L47.0,536.7 L47.3,536.9 L47.6,536.7 L47.9,536.7 L48.2,536.2 L48.5,536.8 L48.8,537.3 L49.1,537.2 L49.4,537.0 L49.7,536.9 L50.0,537.0 L50.3,537.1 L50.6,536.8 L50.9,537.3 L51.2,537.3 L51.5,537.1 L51.8,536.6 L52.1,536.9 L52.4,537.0 L52.7,537.5 L53.0,537.0 L53.3,536.8 L53.6,537.3 L53.9,536.9 L54.2,537.0 L54.5,537.1 L54.8,537.6 L55.1,537.6 L55.4,537.5 L55.7,537.2 L56.0,537.2 L56.3,536.9 L56.6,537.1 L56.9,537.3 L57.2,537.0 L57.5,536.9 L57.8,537.0 L58.1,536.6 L58.4,536.7 L58.7,536.7 L59.0,536.7 L59.3,537.0 L59.6,536.8 L59.9,536.8 L60.1,536.8 L60.4,536.8 L60.7,537.3 L61.0,536.0 L61.3,535.9 L61.6,536.2 L61.9,536.0 L62.2,535.8 L62.5,535.7 L62.8,535.6 L63.1,535.5 L63.4,535.0 L63.7,535.8 L64.0,535.8 L64.3,536.2 L64.6,535.9 L64.9,535.7 L65.2,535.8 L65.5,535.6 L65.8,536.1 L66.1,536.0 L66.4,536.1 L66.7,535.9 L67.0,536.2 L67.3,535.2 L67.6,535.6 L67.9,535.3 L68.2,534.9 L68.5,535.6 L68.8,535.1 L69.1,535.7 L69.4,535.1 L69.7,535.7 L70.0,535.4 L70.3,536.4 L70.6,536.0 L70.9,535.7 L71.2,536.0 L71.5,535.0 L71.8,534.9 L72.1,534.8 L72.4,535.4 L72.7,534.8 L73.0,535.6 L73.3,535.3 L73.6,535.4 L73.9,535.3 L74.2,536.0 L74.5,536.0 L74.8,535.3 L75.1,536.1 L75.4,535.3 L75.7,535.4 L76.0,534.9 L76.3,535.4 L76.6,535.5 L76.9,535.6 L77.2,536.4 L77.5,535.9 L77.8,535.7 L78.1,535.7 L78.4,535.5 L78.7,535.8 L79.0,535.5 L79.3,535.1 L79.6,535.1 L79.9,536.0 L80.2,535.7 L80.5,535.6 L80.8,534.7 L81.1,534.7 L81.4,533.6 L81.7,534.1 L82.0,534.3 L82.3,534.2 L82.6,534.3 L82.9,535.1 L83.2,534.7 L83.5,534.2 L83.8,533.2 L84.1,533.0 L84.4,533.9 L84.7,533.6 L85.0,533.2 L85.3,533.4 L85.6,533.2 L85.9,533.2 L86.2,533.7 L86.5,532.9 L86.8,533.3 L87.1,532.9 L87.4,533.0 L87.6,532.7 L87.9,532.5 L88.2,532.6 L88.5,532.4 L88.8,533.0 L89.1,533.1 L89.4,532.7 L89.7,532.5 L90.0,532.1 L90.3,532.3 L90.6,533.0 L90.9,532.2 L91.2,532.2 L91.5,531.7 L91.8,532.1 L92.1,532.5 L92.4,531.5 L92.6,531.8 L92.9,531.7 L93.2,531.5 L93.5,530.5 L93.8,530.7 L94.1,530.4 L94.4,530.8 L94.7,530.1 L95.0,529.9 L95.3,530.1 L95.6,530.0 L95.9,529.5 L96.2,528.6 L96.5,528.3 L96.8,529.0 L97.1,528.6 L97.4,528.3 L97.6,528.8 L97.9,528.9 L98.2,528.9 L98.5,528.5 L98.8,528.7 L99.1,528.2 L99.4,528.9 L99.7,529.1 L100.0,528.7 L100.3,528.3 L100.6,527.2 L100.9,527.6 L101.2,527.0 L101.5,526.8 L101.8,526.9 L102.1,526.8 L102.4,526.3 L102.7,526.2 L103.0,526.0 L103.3,525.9 L103.6,525.4 L103.9,525.9 L104.2,526.1 L104.5,525.8 L104.8,525.4 L105.2,525.9 L105.5,525.8 L105.8,525.0 L106.1,526.6 L106.4,526.3 L106.7,525.7 L107.0,525.5 L107.3,525.5 L107.6,525.9 L107.9,524.8 L108.2,524.4 L108.5,525.2 L108.8,524.4 L109.1,524.0 L109.4,524.7 L109.7,524.4 L110.0,525.3 L110.3,524.4 L110.6,523.8 L110.9,523.1 L111.2,523.8 L111.5,522.9 L111.8,523.4 L112.1,522.8 L112.4,523.6 L112.7,522.9 L113.0,523.1 L113.3,522.9 L113.6,523.8 L113.9,523.5 L114.2,523.2 L114.5,522.9 L114.8,523.5 L115.1,523.5 L115.4,524.3 L115.7,522.9 L116.0,523.3 L116.3,523.4 L116.6,523.1 L116.9,523.4 L117.2,523.0 L117.5,523.0 L117.8,521.9 L118.1,521.4 L118.4,522.3 L118.7,522.1 L119.0,522.1 L119.3,522.0 L119.6,522.6 L119.9,522.5 L120.1,522.1 L120.4,522.3 L120.7,523.4 L121.0,523.7 L121.3,523.9 L121.6,522.4 L121.9,522.4 L122.2,522.3 L122.5,522.9 L122.8,522.9 L123.1,523.4 L123.4,523.6 L123.7,524.0 L124.0,523.5 L124.3,523.3 L124.6,523.9 L124.9,523.8 L125.2,524.0 L125.5,523.9 L125.8,523.9 L126.1,524.7 L126.4,524.5 L126.7,525.2 L127.0,525.0 L127.3,524.8 L127.6,523.7 L127.9,523.9 L128.2,524.5 L128.5,523.0 L128.8,523.5 L129.1,523.5 L129.4,523.4 L129.7,524.1 L130.0,525.0 L130.3,524.7 L130.6,524.3 L130.9,523.5 L131.2,523.4 L131.5,522.6 L131.8,522.9 L132.2,521.8 L132.5,522.3 L132.8,521.8 L133.1,521.8 L133.4,521.5 L133.7,521.8 L134.0,520.9 L134.3,520.9 L134.6,520.2 L134.9,520.1 L135.2,518.7 L135.5,518.5 L135.8,518.2 L136.1,518.2 L136.4,518.1 L136.6,518.3 L136.9,517.8 L137.2,517.9 L137.5,517.0 L137.8,516.6 L138.1,515.8 L138.4,516.2 L138.7,515.5 L139.0,515.8 L139.3,515.1 L139.6,515.4 L139.9,514.4 L140.2,513.8 L140.5,513.6 L140.8,512.9 L141.2,513.3 L141.5,512.6 L141.8,513.5 L142.1,512.8 L142.4,513.9 L142.7,513.0 L143.0,513.4 L143.3,514.7 L143.6,515.3 L143.9,515.7 L144.2,515.9 L144.5,515.7 L144.8,516.6 L145.1,517.5 L145.4,518.3 L145.7,518.5 L146.0,518.6 L146.3,518.8 L146.6,518.6 L146.9,518.9 L147.2,518.5 L147.5,517.8 L147.8,517.8 L148.2,517.4 L148.5,517.7 L148.8,518.2 L149.1,517.3 L149.4,517.6 L149.7,517.2 L150.0,517.0 L150.3,517.2 L150.6,517.2 L150.9,516.7 L151.2,517.4 L151.5,517.0 L151.8,516.8 L152.1,517.6 L152.4,516.3 L152.6,517.2 L152.9,515.8 L153.2,516.3 L153.5,515.0 L153.8,515.6 L154.1,515.9 L154.4,515.8 L154.7,515.3 L155.0,515.7 L155.3,516.3 L155.6,516.8 L155.9,517.5 L156.2,515.9 L156.5,516.7 L156.8,517.6 L157.1,517.3 L157.4,516.9 L157.6,517.2 L157.9,516.9 L158.2,517.3 L158.5,517.5 L158.8,518.0 L159.1,518.6 L159.4,518.3 L159.7,519.3 L160.0,519.2 L160.3,519.1 L160.6,519.7 L160.9,519.4 L161.2,518.9 L161.5,519.1 L161.8,519.1 L162.1,519.0 L162.4,519.2 L162.7,518.9 L163.0,518.5 L163.3,518.8 L163.6,518.5 L163.9,516.9 L164.2,516.9 L164.5,517.4 L164.8,517.2 L165.1,517.7 L165.4,518.2 L165.7,516.4 L166.0,516.8 L166.3,517.8 L166.6,518.2 L166.9,517.7 L167.2,517.8 L167.5,517.2 L167.8,517.2 L168.1,517.7 L168.4,517.7 L168.7,519.0 L169.0,518.1 L169.3,519.0 L169.7,518.9 L170.0,519.1 L170.3,518.9 L170.6,519.0 L170.9,518.8 L171.2,518.2 L171.5,518.6 L171.8,518.2 L172.1,518.7 L172.4,519.6 L172.7,518.9 L173.0,520.1 L173.3,520.3 L173.6,519.2 L173.9,519.9 L174.2,518.9 L174.5,519.1 L174.8,519.0 L175.1,517.5 L175.4,518.1 L175.7,518.4 L176.0,517.9 L176.3,518.0 L176.6,517.8 L176.9,518.2 L177.2,518.4 L177.5,519.1 L177.8,518.5 L178.1,518.8 L178.4,518.4 L178.7,519.0 L179.0,518.6 L179.3,518.8 L179.6,518.8 L179.9,519.3 L180.2,519.1 L180.5,520.1 L180.8,520.4 L181.1,521.0 L181.4,521.2 L181.7,520.5 L182.0,520.9 L182.3,521.2 L182.6,520.9 L182.9,521.2 L183.2,521.1 L183.5,520.5 L183.8,520.7 L184.1,520.3 L184.4,521.9 L184.7,521.7 L185.0,521.9 L185.3,521.4 L185.6,521.6 L185.9,521.5 L186.2,522.3 L186.5,522.6 L186.8,523.0 L187.1,523.0 L187.4,523.2 L187.7,522.9 L188.0,523.3 L188.3,522.7 L188.6,522.3 L188.9,522.7 L189.2,523.4 L189.5,522.9 L189.8,522.1 L190.1,521.8 L190.4,521.6 L190.7,521.0 L191.0,521.0 L191.3,520.8 L191.7,520.2 L192.0,520.4 L192.3,520.6 L192.6,520.1 L192.9,521.3 L193.2,520.8 L193.5,521.4 L193.8,521.0 L194.1,520.7 L194.4,519.8 L194.7,520.0 L195.0,520.0 L195.3,519.3 L195.6,519.4 L195.9,520.6 L196.2,520.7 L196.5,521.1 L196.8,520.5 L197.1,519.9 L197.4,519.8 L197.6,519.4 L197.9,520.4 L198.2,520.4 L198.5,521.1 L198.8,521.1 L199.1,521.6 L199.4,523.0 L199.7,522.3 L200.0,521.8 L200.3,521.9 L200.6,522.0 L200.9,521.8 L201.2,522.7 L201.5,521.9 L201.8,522.3 L202.1,523.2 L202.4,522.9 L202.7,522.2 L203.0,522.2 L203.3,522.3 L203.6,521.4 L203.9,521.9 L204.2,521.2 L204.5,521.2 L204.8,521.2 L205.1,520.1 L205.4,519.5 L205.7,519.3 L206.0,520.3 L206.3,520.2 L206.6,519.9 L206.9,520.1 L207.2,520.0 L207.5,519.8 L207.8,520.4 L208.1,520.5 L208.4,520.3 L208.7,520.0 L209.0,519.9 L209.3,519.3 L209.6,518.1 L209.9,517.6 L210.2,517.4 L210.5,516.8 L210.8,516.4 L211.1,516.5 L211.4,515.8 L211.7,516.4 L212.0,516.0 L212.3,516.7 L212.6,516.5 L212.9,516.1 L213.2,516.1 L213.5,516.6 L213.8,515.7 L214.1,516.4 L214.4,516.9 L214.6,517.3 L214.9,517.7 L215.2,518.5 L215.5,519.4 L215.8,519.8 L216.1,520.6 L216.4,519.1 L216.7,519.6 L217.0,519.8 L217.3,520.3 L217.6,520.0 L217.9,519.8 L218.2,520.4 L218.5,519.8 L218.8,520.9 L219.1,521.7 L219.4,521.0 L219.6,521.3 L219.9,521.0 L220.2,520.4 L220.5,522.0 L220.8,522.0 L221.1,522.3 L221.4,522.8 L221.7,521.5 L222.0,521.4 L222.3,521.6 L222.6,522.6 L222.9,521.5 L223.2,521.3 L223.5,520.8 L223.8,521.1 L224.1,520.7 L224.4,520.4 L224.7,520.0 L225.0,520.1 L225.3,520.5 L225.6,519.0 L225.9,520.9 L226.2,521.2 L226.5,521.5 L226.8,521.3 L227.0,521.2 L227.3,521.2 L227.6,520.8 L227.9,520.6 L228.2,521.3 L228.5,521.2 L228.8,521.3 L229.1,520.8 L229.4,522.2 L229.7,522.1 L230.0,520.9 L230.3,520.9 L230.6,520.2 L230.9,520.0 L231.2,519.6 L231.5,519.8 L231.8,520.2 L232.1,519.7 L232.4,519.0 L232.7,519.9 L233.0,520.5 L233.3,520.9 L233.6,521.0 L233.9,521.0 L234.2,520.7 L234.6,521.9 L234.9,521.7 L235.2,521.9 L235.5,521.3 L235.8,521.5 L236.1,521.6 L236.4,522.0 L236.7,522.3 L237.0,522.4 L237.3,522.6 L237.6,523.6 L237.9,522.6 L238.2,522.7 L238.5,524.0 L238.8,524.9 L239.1,525.3 L239.4,524.8 L239.7,523.7 L240.0,522.7 L240.3,521.7 L240.5,521.7 L240.8,520.7 L241.1,519.9 L241.4,519.6 L241.7,519.4 L242.0,518.9 L242.3,518.3 L242.6,518.9 L242.9,517.8 L243.2,518.1 L243.5,518.0 L243.8,518.1 L244.0,517.6 L244.3,517.3 L244.6,516.1 L244.9,516.6 L245.2,515.9 L245.5,515.1 L245.8,515.2 L246.1,515.4 L246.4,514.7 L246.7,514.3 L247.0,513.9 L247.3,513.9 L247.6,514.5 L247.9,515.2 L248.3,514.7 L248.6,514.6 L248.9,512.8 L249.2,513.1 L249.5,514.1 L249.8,513.6 L250.1,514.0 L250.4,513.5 L250.7,512.8 L251.0,513.3 L251.3,513.3 L251.6,513.7 L251.9,512.7 L252.2,512.6 L252.5,510.9 L252.9,511.9 L253.2,511.9 L253.5,512.1 L253.8,511.5 L254.1,512.5 L254.4,512.7 L254.7,514.0 L255.0,512.2 L255.3,513.6 L255.6,513.3 L255.9,513.3 L256.2,513.4 L256.5,513.9 L256.8,513.5 L257.1,514.2 L257.4,514.3 L257.7,515.3 L258.0,515.8 L258.3,514.6 L258.6,515.5 L258.9,514.7 L259.2,513.3 L259.5,513.3 L259.8,512.8 L260.1,513.2 L260.4,513.9 L260.6,513.8 L260.9,513.0 L261.2,513.5 L261.5,514.0 L261.8,514.1 L262.1,514.4 L262.4,515.0 L262.7,514.9 L263.0,514.3 L263.3,514.3 L263.6,514.2 L263.9,513.9 L264.1,515.5 L264.4,514.4 L264.7,514.6 L265.0,515.2 L265.3,516.2 L265.6,516.1 L265.9,516.7 L266.2,516.4 L266.5,516.0 L266.8,516.6 L267.0,516.0 L267.3,515.9 L267.6,515.6 L267.9,515.2 L268.2,514.8 L268.5,515.3 L268.8,514.8 L269.1,515.0 L269.4,514.9 L269.7,515.6 L270.0,515.9 L270.3,515.7 L270.6,515.1 L270.9,515.5 L271.1,515.6 L271.4,515.2 L271.7,516.8 L272.0,516.7 L272.3,516.4 L272.6,517.7 L272.9,517.1 L273.2,516.4 L273.5,516.7 L273.8,515.7 L274.1,515.2 L274.4,515.2 L274.7,515.6 L275.0,515.5 L275.3,516.0 L275.5,515.9 L275.8,516.3 L276.1,516.6 L276.4,516.0 L276.7,515.6 L277.0,514.4 L277.3,514.9 L277.6,515.1 L277.9,515.5 L278.2,515.7 L278.5,515.0 L278.8,515.1 L279.1,515.6 L279.4,515.0 L279.7,515.6 L280.0,515.2 L280.3,515.3 L280.6,515.3 L280.9,516.2 L281.2,516.0 L281.5,515.4 L281.8,515.7 L282.1,515.5 L282.4,515.5 L282.7,516.1 L283.1,516.1 L283.4,516.2 L283.7,515.3 L284.0,515.5 L284.3,515.8 L284.6,515.2 L284.9,514.3 L285.2,514.5 L285.6,514.4 L285.9,512.3 L286.2,511.5 L286.5,511.2 L286.8,510.8 L287.1,510.6 L287.4,510.6 L287.7,509.3 L288.0,509.3 L288.3,509.3 L288.6,508.9 L288.9,509.5 L289.2,509.4 L289.5,509.2 L289.8,508.8 L290.1,508.6 L290.4,508.8 L290.7,507.9 L291.0,508.1 L291.3,508.1 L291.6,507.5 L291.9,507.2 L292.2,506.8 L292.5,507.4 L292.9,507.2 L293.2,507.7 L293.5,506.8 L293.8,506.2 L294.1,504.8 L294.4,504.4 L294.7,504.8 L295.0,506.1 L295.3,505.6 L295.6,507.0 L295.9,506.5 L296.2,506.9 L296.5,507.1 L296.8,507.5 L297.1,508.8 L297.4,508.8 L297.7,509.9 L298.0,509.5 L298.3,508.5 L298.6,508.7 L298.9,508.1 L299.2,509.3 L299.5,508.1 L299.8,508.5 L300.1,508.2 L300.4,507.8 L300.6,508.0 L300.9,508.6 L301.2,508.4 L301.5,509.4 L301.8,509.0 L302.1,510.0 L302.4,510.0 L302.7,509.8 L303.0,509.6 L303.3,510.8 L303.5,509.7 L303.8,508.8 L304.1,508.4 L304.4,508.4 L304.7,510.9 L305.0,513.2 L305.3,516.6 L305.6,520.0 L305.9,521.4 L306.2,521.2 L306.5,521.8 L306.8,522.3 L307.1,521.5 L307.5,521.9 L307.8,522.5 L308.1,523.2 L308.4,522.7 L308.7,523.0 L309.0,523.7 L309.3,523.1 L309.6,523.0 L309.9,521.9 L310.2,522.8 L310.5,521.5 L310.8,521.5 L311.1,521.4 L311.4,520.6 L311.6,519.6 L311.9,520.2 L312.2,518.7 L312.5,518.2 L312.8,517.7 L313.1,517.9 L313.4,518.2 L313.7,517.4 L314.0,516.8 L314.3,517.2 L314.6,517.0 L314.9,517.2 L315.2,516.4 L315.5,517.9 L315.8,517.0 L316.1,517.7 L316.4,517.4 L316.7,518.1 L317.0,517.8 L317.3,519.3 L317.6,518.9 L317.9,517.9 L318.2,518.9 L318.5,518.5 L318.8,517.4 L319.1,517.8 L319.4,517.2 L319.7,516.7 L320.0,515.9 L320.3,516.1 L320.6,516.3 L320.9,516.8 L321.2,515.8 L321.5,514.8 L321.8,514.5 L322.1,513.9 L322.4,514.6 L322.7,514.2 L323.0,515.2 L323.3,514.9 L323.6,514.2 L323.9,514.1 L324.2,514.2 L324.5,514.3 L324.8,513.8 L325.1,514.1 L325.4,513.0 L325.7,512.4 L326.0,512.3 L326.3,511.9 L326.6,511.0 L326.9,510.5 L327.2,511.0 L327.5,510.3 L327.8,510.3 L328.1,510.7 L328.4,510.5 L328.7,510.1 L329.0,509.6 L329.3,509.5 L329.6,510.2 L329.9,510.8 L330.2,511.4 L330.5,511.6 L330.8,512.3 L331.1,511.8 L331.4,512.5 L331.7,512.2 L332.0,513.2 L332.3,513.0 L332.6,512.1 L332.9,511.8 L333.2,511.3 L333.5,510.7 L333.8,511.7 L334.1,511.1 L334.4,510.0 L334.7,510.3 L335.0,510.2 L335.3,510.7 L335.6,511.6 L335.9,511.3 L336.2,510.4 L336.5,510.6 L336.8,510.1 L337.1,508.4 L337.4,509.4 L337.7,509.2 L338.0,510.1 L338.3,510.6 L338.6,509.8 L338.9,508.8 L339.2,508.2 L339.5,509.1 L339.8,507.3 L340.1,507.0 L340.4,506.8 L340.7,506.8 L341.0,505.1 L341.3,505.2 L341.6,505.0 L341.9,505.8 L342.2,505.6 L342.5,505.0 L342.8,503.7 L343.1,504.6 L343.4,504.1 L343.7,504.2 L344.0,504.0 L344.3,504.2 L344.6,504.7 L344.9,504.3 L345.2,505.2 L345.5,504.6 L345.8,503.9 L346.1,504.1 L346.4,502.9 L346.7,503.6 L347.0,503.9 L347.3,503.8 L347.6,502.7 L347.9,503.7 L348.2,503.5 L348.5,502.8 L348.8,502.5 L349.1,502.3 L349.4,501.9 L349.7,502.3 L350.0,502.3 L350.3,502.8 L350.6,501.8 L350.9,501.2 L351.2,501.6 L351.5,502.1 L351.8,500.6 L352.1,500.9 L352.4,501.2 L352.6,502.0 L352.9,500.8 L353.2,501.0 L353.5,501.9 L353.8,501.7 L354.1,501.3 L354.4,502.1 L354.7,501.6 L355.0,503.3 L355.3,503.2 L355.6,503.2 L355.9,502.3 L356.2,503.2 L356.5,503.2 L356.8,505.3 L357.1,503.7 L357.5,503.8 L357.8,503.8 L358.1,503.1 L358.4,503.9 L358.7,502.9 L359.0,503.4 L359.3,503.6 L359.6,503.6 L359.9,505.2 L360.2,504.4 L360.5,505.0 L360.8,505.6 L361.0,506.4 L361.3,507.3 L361.6,507.0 L361.9,506.6 L362.2,508.1 L362.5,509.1 L362.9,510.1 L363.2,510.8 L363.5,511.6 L363.8,512.4 L364.1,512.8 L364.4,512.8 L364.7,512.2 L365.0,512.9 L365.3,514.6 L365.6,516.7 L365.9,518.7 L366.2,520.7 L366.5,523.1 L366.8,524.5 L367.1,526.1 L367.4,526.6 L367.6,528.1 L367.9,529.3 L368.2,530.1 L368.5,532.6 L368.8,532.8 L369.1,533.5 L369.4,535.2 L369.7,535.7 L370.0,537.1 L370.3,536.1 L370.6,535.4 L370.9,534.6 L371.2,534.2 L371.5,533.5 L371.8,532.1 L372.1,531.9 L372.4,531.3 L372.7,531.4 L373.0,531.6 L373.3,531.1 L373.6,530.2 L373.9,529.8 L374.1,528.8 L374.4,528.4 L374.7,528.2 L375.0,527.7 L375.3,527.4 L375.6,526.3 L375.9,526.6 L376.2,526.3 L376.5,525.7 L376.8,525.9 L377.1,526.3 L377.4,525.3 L377.7,525.1 L378.0,526.0 L378.3,524.6 L378.6,524.7 L378.9,524.3 L379.2,524.1 L379.5,523.1 L379.8,522.6 L380.2,522.7 L380.5,522.0 L380.8,521.3 L381.1,521.6 L381.4,520.9 L381.7,520.3 L382.0,520.3 L382.3,520.5 L382.6,520.4 L382.9,520.2 L383.2,520.1 L383.5,520.3 L383.8,520.6 L384.0,519.6 L384.3,519.9 L384.6,519.3 L384.9,519.4 L385.2,519.3 L385.5,519.2 L385.8,518.9 L386.1,518.4 L386.4,518.6 L386.7,518.2 L387.0,517.5 L387.3,518.3 L387.6,518.2 L387.9,517.9 L388.2,517.5 L388.5,516.9 L388.8,514.7 L389.1,513.0 L389.3,511.5 L389.6,509.9 L389.9,509.3 L390.2,508.4 L390.5,507.7 L390.8,506.8 L391.1,508.1 L391.4,509.2 L391.7,509.6 L392.0,510.3 L392.3,511.7 L392.6,511.5 L392.9,513.0 L393.2,512.9 L393.6,513.8 L393.9,513.2 L394.2,513.5 L394.5,513.5 L394.8,513.5 L395.1,513.6 L395.4,514.2 L395.7,514.2 L396.0,513.8 L396.2,514.1 L396.5,514.9 L396.8,514.5 L397.1,514.1 L397.4,514.0 L397.7,514.1 L398.0,514.2 L398.3,513.4 L398.6,512.9 L398.9,513.4 L399.2,513.8 L399.5,513.0 L399.7,512.8 L400.0,513.2 L400.3,512.1 L400.6,512.2 L400.9,511.3 L401.2,510.9 L401.5,511.6 L401.8,510.6 L402.1,510.1 L402.4,510.0 L402.7,509.5 L403.0,508.5 L403.3,509.0 L403.6,508.5 L403.9,507.7 L404.2,507.1 L404.5,506.2 L404.8,505.8 L405.1,506.1 L405.4,506.5 L405.8,505.7 L406.1,504.6 L406.4,505.2 L406.7,504.9 L407.0,504.2 L407.3,504.0 L407.6,503.8 L407.9,503.1 L408.2,502.2 L408.5,503.2 L408.7,501.8 L409.0,502.5 L409.3,503.4 L409.6,502.3 L409.9,502.3 L410.2,502.9 L410.5,503.7 L410.8,502.5 L411.1,502.9 L411.4,503.1 L411.7,504.3 L412.0,504.0 L412.3,504.8 L412.6,504.8 L412.9,504.4 L413.2,504.4 L413.5,504.6 L413.8,505.4 L414.1,505.5 L414.4,506.3 L414.7,506.4 L415.0,506.3 L415.3,506.4 L415.6,505.5 L415.9,505.5 L416.2,505.8 L416.5,506.4 L416.8,505.9 L417.1,506.6 L417.4,506.0 L417.7,505.5 L418.1,505.4 L418.4,507.1 L418.7,507.3 L419.0,507.5 L419.3,508.0 L419.6,509.0 L419.9,508.4 L420.2,508.3 L420.5,509.6 L420.8,510.0 L421.1,510.2 L421.4,511.7 L421.7,512.0 L422.0,511.9 L422.3,512.1 L422.6,512.3 L422.9,512.2 L423.2,512.5 L423.5,511.5 L423.8,511.2 L424.1,511.2 L424.3,510.7 L424.6,510.2 L424.9,509.8 L425.2,509.7 L425.5,507.8 L425.8,508.4 L426.1,507.3 L426.4,508.2 L426.7,507.5 L427.0,507.3 L427.3,506.6 L427.6,505.8 L427.9,506.1 L428.2,506.1 L428.5,505.4 L428.8,504.4 L429.1,504.4 L429.4,503.5 L429.7,503.5 L430.0,503.8 L430.3,503.6 L430.6,503.0 L430.9,502.1 L431.2,502.4 L431.5,502.9 L431.8,503.5 L432.1,505.4 L432.4,507.5 L432.7,508.1 L433.0,509.8 L433.3,509.4 L433.6,508.0 L433.9,507.6 L434.2,506.6 L434.5,504.9 L434.8,502.8 L435.1,503.3 L435.4,502.1 L435.7,502.4 L436.0,502.2 L436.3,501.2 L436.6,500.5 L436.9,500.2 L437.3,500.4 L437.6,498.9 L437.9,498.6 L438.2,498.5 L438.5,498.9 L438.8,498.7 L439.1,498.2 L439.4,498.5 L439.6,497.6 L439.9,497.1 L440.2,496.8 L440.5,496.0 L440.8,496.2 L441.1,495.5 L441.4,496.4 L441.7,493.9 L442.0,495.7 L442.3,494.5 L442.6,493.3 L442.9,493.7 L443.2,493.5 L443.5,492.5 L443.8,493.5 L444.1,493.2 L444.4,493.6 L444.7,493.0 L445.0,495.2 L445.3,495.4 L445.6,496.6 L445.9,496.2 L446.1,496.9 L446.4,496.4 L446.7,496.7 L447.0,495.9 L447.3,496.6 L447.6,496.5 L447.9,496.6 L448.2,496.4 L448.5,496.1 L448.8,496.0 L449.1,495.6 L449.4,494.5 L449.7,494.3 L450.0,493.2 L450.3,492.5 L450.6,492.8 L450.9,492.6 L451.2,492.7 L451.5,491.9 L451.8,491.6 L452.1,490.8 L452.4,491.2 L452.7,490.8 L453.0,491.2 L453.3,492.0 L453.6,490.7 L453.9,490.4 L454.2,491.5 L454.5,490.6 L454.7,491.0 L455.0,491.3 L455.3,491.0 L455.6,492.6 L455.9,492.7 L456.2,493.4 L456.5,495.3 L456.8,495.3 L457.1,496.1 L457.4,496.3 L457.7,497.6 L458.0,498.6 L458.3,497.2 L458.6,497.5 L458.9,498.2 L459.2,496.8 L459.5,496.3 L459.8,496.6 L460.1,495.3 L460.4,495.0 L460.8,494.9 L461.1,492.6 L461.4,493.3 L461.7,492.8 L462.0,491.1 L462.3,490.3 L462.6,489.6 L462.9,490.1 L463.2,490.3 L463.5,490.6 L463.9,490.4 L464.2,491.0 L464.5,491.2 L464.8,491.3 L465.1,490.8 L465.4,491.4 L465.7,492.9 L466.0,493.6 L466.3,492.8 L466.6,493.2 L466.9,493.6 L467.3,494.2 L467.6,494.1 L467.9,494.8 L468.2,495.0 L468.5,495.3 L468.8,494.9 L469.1,496.0 L469.4,494.9 L469.7,494.7 L470.0,494.5 L470.3,493.0 L470.6,492.4 L470.9,492.2 L471.2,491.9 L471.5,490.6 L471.8,490.8 L472.1,490.4 L472.4,491.5 L472.7,492.9 L473.1,493.4 L473.4,493.5 L473.7,494.6 L474.0,494.3 L474.3,494.4 L474.6,494.0 L474.9,493.8 L475.2,493.5 L475.5,494.6 L475.8,493.2 L476.1,493.0 L476.4,492.3 L476.7,492.0 L477.0,491.4 L477.3,491.1 L477.6,490.1 L477.9,491.3 L478.2,489.7 L478.5,490.4 L478.8,490.0 L479.1,490.7 L479.4,489.7 L479.7,491.7 L480.0,491.1 L480.3,491.2 L480.6,490.7 L480.9,491.5 L481.2,491.5 L481.5,492.0 L481.8,492.1 L482.1,492.3 L482.4,491.8 L482.7,492.6 L483.0,493.6 L483.3,492.7 L483.6,493.6 L483.9,492.7 L484.2,491.8 L484.5,491.3 L484.8,490.7 L485.2,491.8 L485.5,491.3 L485.8,491.0 L486.1,491.4 L486.4,490.9 L486.7,489.7 L487.0,490.3 L487.3,488.7 L487.6,489.8 L487.9,488.4 L488.2,487.6 L488.5,488.4 L488.8,487.7 L489.1,487.2 L489.4,487.5 L489.7,486.4 L490.0,485.3 L490.3,485.9 L490.6,485.3 L490.9,484.5 L491.2,484.1 L491.5,482.7 L491.8,483.9 L492.1,483.2 L492.4,483.3 L492.7,483.4 L493.0,483.7 L493.3,481.9 L493.6,481.9 L493.9,482.1 L494.1,479.7 L494.4,479.8 L494.7,479.0 L495.0,476.5 L495.3,478.0 L495.6,477.4 L495.9,477.3 L496.2,477.2 L496.5,477.3 L496.8,476.5 L497.1,478.6 L497.4,478.1 L497.6,478.0 L497.9,477.6 L498.2,478.6 L498.5,478.1 L498.8,478.7 L499.1,477.8 L499.4,477.6 L499.7,479.2 L500.0,480.4 L500.3,478.9 L500.6,478.6 L500.9,477.9 L501.2,479.9 L501.5,480.4 L501.8,480.2 L502.1,479.6 L502.4,478.4 L502.7,479.8 L503.0,478.8 L503.3,479.9 L503.6,479.8 L503.9,480.7 L504.2,480.8 L504.5,479.6 L504.8,481.1 L505.1,480.5 L505.4,480.7 L505.7,481.8 L506.0,480.7 L506.3,481.7 L506.6,482.1 L506.9,480.5 L507.2,479.2 L507.5,480.9 L507.8,480.5 L508.1,481.3 L508.4,481.7 L508.7,480.4 L509.0,481.4 L509.3,480.8 L509.6,481.0 L509.9,479.0 L510.2,479.6 L510.5,479.1 L510.8,479.4 L511.1,479.5 L511.4,478.8 L511.7,480.1 L512.0,480.1 L512.3,479.3 L512.6,478.3 L512.9,479.0 L513.2,478.1 L513.5,479.1 L513.8,479.0 L514.1,478.0 L514.4,478.2 L514.6,478.6 L514.9,477.7 L515.2,477.9 L515.5,479.2 L515.8,478.7 L516.1,479.2 L516.4,480.3 L516.7,479.6 L517.0,479.5 L517.3,480.8 L517.6,479.8 L517.9,479.8 L518.2,478.6 L518.5,478.6 L518.8,476.3 L519.2,477.0 L519.5,476.5 L519.8,476.5 L520.1,476.8 L520.4,475.4 L520.7,476.2 L521.0,475.5 L521.3,475.5 L521.6,474.4 L521.9,474.3 L522.2,474.8 L522.5,475.6 L522.8,476.0 L523.2,476.5 L523.5,476.6 L523.8,477.9 L524.1,475.1 L524.4,476.2 L524.7,475.3 L525.0,476.9 L525.3,476.4 L525.6,476.1 L525.9,476.0 L526.2,475.4 L526.5,475.7 L526.8,476.1 L527.1,476.9 L527.4,476.1 L527.6,476.3 L527.9,476.5 L528.2,477.0 L528.5,476.3 L528.8,475.5 L529.1,475.4 L529.4,474.9 L529.7,474.5 L530.0,474.0 L530.3,472.6 L530.6,473.4 L530.9,473.2 L531.2,472.7 L531.5,472.8 L531.8,473.3 L532.2,472.0 L532.5,472.0 L532.8,472.0 L533.1,470.6 L533.4,470.0 L533.7,469.5 L534.0,468.5 L534.3,468.0 L534.6,469.1 L534.9,468.8 L535.2,469.7 L535.5,469.7 L535.8,469.8 L536.1,469.5 L536.4,468.7 L536.7,469.5 L537.0,468.9 L537.3,468.1 L537.6,468.2 L537.9,466.6 L538.2,467.6 L538.5,466.7 L538.8,465.8 L539.1,466.8 L539.4,466.8 L539.7,466.0 L540.0,464.4 L540.3,464.3 L540.6,465.0 L540.9,464.7 L541.2,463.9 L541.5,465.6 L541.8,465.5 L542.2,465.7 L542.5,466.2 L542.8,466.2 L543.1,468.9 L543.4,469.2 L543.7,469.3 L544.0,469.3 L544.3,469.8 L544.6,469.7 L544.9,471.1 L545.2,470.4 L545.5,470.9 L545.8,470.2 L546.1,469.4 L546.4,470.4 L546.7,471.0 L547.0,472.5 L547.3,472.5 L547.6,471.7 L547.9,471.1 L548.2,470.3 L548.5,470.6 L548.8,470.3 L549.1,470.6 L549.4,470.4 L549.7,468.0 L550.0,468.1 L550.3,468.3 L550.6,467.4 L550.9,467.9 L551.2,468.4 L551.5,468.6 L551.8,467.4 L552.1,468.8 L552.4,467.4 L552.6,468.2 L552.9,468.8 L553.2,467.8 L553.5,466.8 L553.8,468.2 L554.1,466.5 L554.4,468.7 L554.7,468.4 L555.0,468.7 L555.3,467.1 L555.6,468.2 L555.9,468.2 L556.2,467.3 L556.5,467.0 L556.8,467.1 L557.1,467.4 L557.4,466.8 L557.7,467.6 L558.0,468.2 L558.3,467.7 L558.6,467.0 L558.9,467.9 L559.2,466.6 L559.5,466.5 L559.8,466.4 L560.1,465.8 L560.4,466.8 L560.7,467.5 L561.0,467.2 L561.3,466.6 L561.6,465.0 L561.9,464.8 L562.2,465.3 L562.5,464.7 L562.8,465.1 L563.1,465.1 L563.4,465.2 L563.7,463.8 L564.0,463.5 L564.3,463.7 L564.6,463.1 L564.9,463.2 L565.2,464.7 L565.5,463.6 L565.8,463.2 L566.1,461.8 L566.4,461.9 L566.7,462.9 L567.0,463.5 L567.3,462.2 L567.6,461.4 L567.9,462.3 L568.2,463.5 L568.5,464.2 L568.8,464.2 L569.1,465.1 L569.4,464.0 L569.7,462.8 L570.0,462.9 L570.3,463.3 L570.6,463.2 L570.9,462.6 L571.2,462.4 L571.5,463.2 L571.8,464.1 L572.1,461.9 L572.4,461.0 L572.7,461.5 L573.0,462.7 L573.3,462.5 L573.6,463.9 L573.9,464.8 L574.2,464.2 L574.5,464.5 L574.8,464.5 L575.2,464.1 L575.5,465.6 L575.8,464.4 L576.1,464.7 L576.4,465.2 L576.7,465.0 L577.0,464.0 L577.3,464.0 L577.6,463.8 L577.9,463.6 L578.2,462.5 L578.5,461.8 L578.8,461.2 L579.2,460.9 L579.5,460.3 L579.8,459.4 L580.1,460.6 L580.4,458.8 L580.7,458.6 L581.0,458.8 L581.3,460.3 L581.6,459.1 L581.9,459.3 L582.2,457.9 L582.5,457.9 L582.8,457.4 L583.2,459.7 L583.5,458.3 L583.8,459.4 L584.1,458.9 L584.4,457.6 L584.7,458.9 L585.0,458.5 L585.3,460.2 L585.6,460.5 L585.9,462.4 L586.2,461.9 L586.5,461.7 L586.8,462.6 L587.1,461.7 L587.4,461.5 L587.6,463.0 L587.9,463.4 L588.2,463.3 L588.5,464.3 L588.8,462.5 L589.1,463.8 L589.4,465.2 L589.7,464.5 L590.0,466.0 L590.3,467.8 L590.6,466.6 L590.9,467.4 L591.2,467.8 L591.5,469.8 L591.8,471.5 L592.2,471.1 L592.5,472.1 L592.8,471.7 L593.1,471.4 L593.4,471.3 L593.7,471.0 L594.0,472.1 L594.3,473.2 L594.6,472.0 L594.9,470.7 L595.2,470.0 L595.5,470.0 L595.8,468.8 L596.1,469.7 L596.4,469.8 L596.6,468.9 L596.9,470.1 L597.2,470.1 L597.5,469.6 L597.8,469.6 L598.1,470.0 L598.4,468.9 L598.7,467.7 L599.0,466.6 L599.3,468.3 L599.6,468.9 L599.9,469.5 L600.2,469.7 L600.5,470.4 L600.8,471.3 L601.2,472.1 L601.5,472.9 L601.8,473.8 L602.1,474.3 L602.4,474.0 L602.7,473.9 L603.0,475.0 L603.3,475.0 L603.6,474.4 L603.9,475.0 L604.2,475.6 L604.5,476.6 L604.8,475.9 L605.1,476.0 L605.4,478.5 L605.7,478.5 L606.0,478.6 L606.3,478.8 L606.6,478.4 L606.9,476.8 L607.2,476.3 L607.5,476.9 L607.8,475.0 L608.1,476.0 L608.4,476.2 L608.6,476.4 L608.9,476.4 L609.2,475.6 L609.5,473.0 L609.8,473.4 L610.1,474.4 L610.4,475.0 L610.7,474.0 L611.0,473.9 L611.3,473.3 L611.6,474.0 L611.9,470.9 L612.2,471.1 L612.5,470.7 L612.8,470.6 L613.1,470.1 L613.4,470.7 L613.6,470.1 L613.9,469.1 L614.2,468.4 L614.5,467.5 L614.8,468.7 L615.1,468.8 L615.4,468.0 L615.7,464.5 L616.0,462.3 L616.3,461.6 L616.6,461.9 L616.9,460.4 L617.2,460.5 L617.5,460.8 L617.8,458.6 L618.2,458.1 L618.5,457.5 L618.8,457.7 L619.1,457.1 L619.4,457.4 L619.7,457.3 L620.0,457.7 L620.3,455.5 L620.6,455.1 L620.9,455.5 L621.2,455.7 L621.5,455.0 L621.8,454.5 L622.2,455.0 L622.5,455.8 L622.8,454.0 L623.1,452.9 L623.4,453.8 L623.7,452.2 L624.0,452.9 L624.3,451.5 L624.6,451.2 L624.9,451.9 L625.2,450.6 L625.5,449.8 L625.8,452.5 L626.2,454.0 L626.5,455.1 L626.8,453.9 L627.1,454.8 L627.4,455.1 L627.7,455.9 L628.0,455.5 L628.3,454.8 L628.6,453.5 L628.9,454.7 L629.2,453.9 L629.5,453.5 L629.8,453.4 L630.1,453.5 L630.4,452.6 L630.7,453.3 L631.0,454.1 L631.3,455.8 L631.6,456.0 L631.9,456.8 L632.2,457.0 L632.5,456.9 L632.8,458.7 L633.1,456.7 L633.4,459.5 L633.7,458.1 L634.0,458.6 L634.3,458.5 L634.6,458.7 L634.9,457.6 L635.2,458.3 L635.5,457.2 L635.8,456.6 L636.1,457.4 L636.4,458.3 L636.6,458.0 L636.9,456.1 L637.2,455.6 L637.5,456.3 L637.8,456.5 L638.1,456.7 L638.4,456.3 L638.7,456.7 L639.0,457.8 L639.3,457.5 L639.6,455.7 L639.9,453.1 L640.2,453.5 L640.5,453.7 L640.8,454.1 L641.1,452.3 L641.4,451.7 L641.6,451.3 L641.9,452.0 L642.2,452.3 L642.5,451.5 L642.8,453.5 L643.1,451.0 L643.4,450.0 L643.7,450.2 L644.0,448.8 L644.3,448.6 L644.6,448.1 L644.9,448.0 L645.2,447.8 L645.5,448.4 L645.8,448.1 L646.1,447.4 L646.4,449.3 L646.6,447.5 L646.9,446.5 L647.2,445.2 L647.5,445.9 L647.8,445.6 L648.1,445.9 L648.4,444.3 L648.7,444.2 L649.0,443.7 L649.3,443.7 L649.6,444.8 L649.9,443.2 L650.2,440.4 L650.5,440.2 L650.8,440.2 L651.2,440.2 L651.5,440.2 L651.8,439.1 L652.1,437.8 L652.4,438.9 L652.7,438.0 L653.0,440.5 L653.3,442.1 L653.6,442.0 L653.9,441.8 L654.2,442.7 L654.5,443.9 L654.8,443.2 L655.2,443.9 L655.5,444.5 L655.8,444.7 L656.1,444.7 L656.4,444.7 L656.7,444.6 L657.0,446.1 L657.3,445.5 L657.6,446.8 L657.9,448.2 L658.2,447.9 L658.5,445.5 L658.8,443.7 L659.2,441.3 L659.5,440.1 L659.8,439.2 L660.1,439.0 L660.4,437.6 L660.7,438.0 L661.0,437.5 L661.3,437.8 L661.6,435.5 L661.9,433.4 L662.1,434.0 L662.4,432.5 L662.7,429.7 L663.0,427.8 L663.3,427.2 L663.6,425.0 L663.9,424.4 L664.1,422.3 L664.4,420.3 L664.7,421.1 L665.0,418.5 L665.3,418.5 L665.6,416.7 L665.9,418.4 L666.2,417.7 L666.5,415.5 L666.8,414.8 L667.1,416.9 L667.4,417.0 L667.7,415.9 L668.0,416.0 L668.3,417.4 L668.6,416.3 L668.9,417.3 L669.2,417.7 L669.5,418.1 L669.8,417.1 L670.1,418.8 L670.4,416.8 L670.6,419.3 L670.9,417.1 L671.2,417.2 L671.5,417.9 L671.8,415.7 L672.1,416.3 L672.4,416.2 L672.7,418.1 L673.0,419.0 L673.3,418.5 L673.6,419.2 L673.9,421.0 L674.2,420.8 L674.5,421.5 L674.8,420.6 L675.1,419.7 L675.4,421.6 L675.7,422.5 L676.0,422.0 L676.3,422.2 L676.6,421.8 L676.9,422.0 L677.2,421.0 L677.5,420.8 L677.8,420.4 L678.1,422.9 L678.4,422.2 L678.7,422.2 L679.0,421.9 L679.3,422.7 L679.6,424.3 L679.9,425.0 L680.2,425.7 L680.5,424.3 L680.8,425.7 L681.1,424.7 L681.4,427.6 L681.7,428.2 L682.0,429.2 L682.3,431.0 L682.7,430.7 L683.0,431.1 L683.3,433.4 L683.6,432.0 L683.9,430.1 L684.2,429.0 L684.5,426.5 L684.8,426.7 L685.1,426.7 L685.4,426.5 L685.7,422.9 L686.0,422.6 L686.3,422.9 L686.6,422.6 L686.9,423.4 L687.2,424.2 L687.5,421.5 L687.8,419.8 L688.2,418.1 L688.5,417.7 L688.8,418.8 L689.1,416.7 L689.4,415.8 L689.7,413.4 L690.0,414.5 L690.3,415.0 L690.6,414.4 L690.9,414.1 L691.2,414.1 L691.5,413.4 L691.8,412.2 L692.2,410.4 L692.5,411.3 L692.8,412.1 L693.1,413.9 L693.4,412.6 L693.7,412.0 L694.0,411.1 L694.3,409.6 L694.6,411.1 L694.9,409.8 L695.2,410.1 L695.4,412.9 L695.7,411.1 L696.0,412.9 L696.3,411.9 L696.6,415.1 L696.9,414.2 L697.2,412.4 L697.5,412.6 L697.8,412.1 L698.1,410.2 L698.4,409.4 L698.7,407.0 L699.0,405.8 L699.3,404.0 L699.6,404.2 L699.9,402.2 L700.2,403.4 L700.5,403.1 L700.8,403.3 L701.1,404.5 L701.4,404.3 L701.6,403.6 L701.9,402.6 L702.2,403.8 L702.5,402.7 L702.8,401.8 L703.1,401.9 L703.4,402.9 L703.7,405.0 L704.0,403.2 L704.3,403.1 L704.6,400.4 L704.9,397.3 L705.1,395.6 L705.4,394.0 L705.7,394.0 L706.0,394.2 L706.3,392.0 L706.6,392.4 L706.9,395.2 L707.2,390.9 L707.5,389.1 L707.8,390.0 L708.2,390.0 L708.5,389.1 L708.8,389.6 L709.1,386.3 L709.4,386.7 L709.7,386.7 L710.0,385.7 L710.3,386.6 L710.6,387.8 L710.9,387.1 L711.2,387.3 L711.5,391.1 L711.8,388.7 L712.1,386.8 L712.4,389.1 L712.7,388.5 L713.0,387.0 L713.3,384.6 L713.6,383.8 L713.9,383.8 L714.2,387.2 L714.6,385.6 L714.9,385.6 L715.2,384.3 L715.5,382.7 L715.8,383.7 L716.1,382.9 L716.4,379.8 L716.6,382.2 L716.9,381.9 L717.2,380.9 L717.5,378.8 L717.8,379.4 L718.1,378.3 L718.4,378.5 L718.7,378.3 L719.0,375.9 L719.3,373.4 L719.6,376.6 L719.9,377.1 L720.2,376.0 L720.5,377.0 L720.8,376.6 L721.1,376.1 L721.4,376.9 L721.7,377.8 L722.0,378.3 L722.3,379.6 L722.6,378.4 L722.9,377.9 L723.2,378.8 L723.5,377.1 L723.8,377.4 L724.1,379.5 L724.4,379.9 L724.6,378.9 L724.9,378.5 L725.2,378.2 L725.5,378.4 L725.8,375.5 L726.1,372.3 L726.5,366.6 L726.8,367.4 L727.1,365.1 L727.4,365.7 L727.6,364.4 L727.9,365.2 L728.2,365.5 L728.5,365.2 L728.9,359.5 L729.2,353.7 L729.5,350.4 L729.8,350.9 L730.2,351.1 L730.5,351.5 L730.8,351.1 L731.1,352.5 L731.4,353.5 L731.7,355.4 L732.0,358.9 L732.3,358.5 L732.6,361.6 L732.9,363.5 L733.2,367.6 L733.5,370.2 L733.8,373.7 L734.1,373.1 L734.4,370.1 L734.7,367.5 L734.9,367.2 L735.2,365.4 L735.5,365.3 L735.8,364.2 L736.1,364.8 L736.4,365.7 L736.8,366.9 L737.1,369.8 L737.4,372.0 L737.7,373.1 L738.0,371.8 L738.3,370.8 L738.6,370.4 L738.9,372.8 L739.2,372.3 L739.5,373.0 L739.8,371.6 L740.1,373.5 L740.4,373.5 L740.7,369.5 L741.0,368.7 L741.2,366.9 L741.5,366.7 L741.8,363.3 L742.1,358.9 L742.4,357.4 L742.7,352.8 L743.0,350.9 L743.3,350.3 L743.7,349.1 L744.0,347.1 L744.3,345.8 L744.6,344.3 L744.9,346.4 L745.2,349.1 L745.6,351.0 L745.9,351.3 L746.2,355.0 L746.5,359.9 L746.8,362.3 L747.0,364.0 L747.3,366.2 L747.6,366.3 L747.9,369.9 L748.2,372.0 L748.5,374.7 L748.8,370.2 L749.0,366.2 L749.3,365.8 L749.6,362.0 L749.9,365.7 L750.3,365.3 L750.6,366.0 L750.9,364.5 L751.2,358.1 L751.5,363.5 L751.9,367.7 L752.2,365.3 L752.5,363.4 L752.8,361.7 L753.1,358.9 L753.4,359.4 L753.7,358.6 L753.9,359.5 L754.2,361.0 L754.6,351.0 L755.0,340.8 L755.3,337.4 L755.5,333.6 L755.8,330.2 L756.1,329.8 L756.4,328.4 L756.8,330.6 L757.1,330.4 L757.4,332.9 L757.7,334.4 L758.0,332.7 L758.3,331.1 L758.6,329.0 L758.9,325.2 L759.2,324.3 L759.5,323.2 L759.8,320.5 L760.2,318.4 L760.5,315.3 L760.8,314.8 L761.1,313.7 L761.4,316.0 L761.7,317.1 L762.0,315.2 L762.3,315.7 L762.6,314.2 L762.9,313.1 L763.2,311.8 L763.5,312.4 L763.8,312.7 L764.1,312.0 L764.4,311.6 L764.7,311.3 L764.9,313.8 L765.2,315.1 L765.5,314.1 L765.8,315.9 L766.1,313.5 L766.3,312.1 L766.6,311.3 L766.9,308.1 L767.2,304.6 L767.4,299.7 L767.7,299.0 L768.0,297.9 L768.3,300.2 L768.6,302.4 L768.9,302.2 L769.1,302.6 L769.4,304.7 L769.7,303.1 L770.0,302.7 L770.3,301.3 L770.6,298.4 L770.9,298.6 L771.2,296.8 L771.5,293.8 L771.8,291.5 L772.1,288.4 L772.4,286.1 L772.7,285.0 L773.0,283.8 L773.3,283.9 L773.6,284.1 L773.9,284.0 L774.2,284.2 L774.4,282.3 L774.7,281.9 L775.0,281.2 L775.3,279.0 L775.6,280.8 L775.9,281.4 L776.2,282.4 L776.5,283.7 L776.8,285.8 L777.1,289.1 L777.4,289.0 L777.7,289.6 L778.0,292.0 L778.3,291.8 L778.6,290.5 L778.9,292.3 L779.2,291.5 L779.5,294.4 L779.8,293.7 L780.1,293.5 L780.4,292.7 L780.7,292.2 L781.0,295.3 L781.3,291.8 L781.6,292.5 L781.9,292.1 L782.2,292.8 L782.5,294.4 L782.8,294.5 L783.1,297.9 L783.4,297.5 L783.7,297.9 L784.0,298.8 L784.3,298.4 L784.6,298.6 L784.9,299.6 L785.1,300.3 L785.4,302.5 L785.7,301.2 L786.0,301.8 L786.3,299.3 L786.6,296.9 L786.9,296.5 L787.2,294.1 L787.5,291.4 L787.8,288.5 L788.1,286.1 L788.4,282.3 L788.7,281.9 L789.0,280.6 L789.3,279.6 L789.6,278.0 L789.9,277.1 L790.2,278.3 L790.5,277.7 L790.8,277.2 L791.1,277.1 L791.4,278.2 L791.7,279.2 L792.0,278.0 L792.3,281.4 L792.6,283.9 L792.9,282.0 L793.2,283.1 L793.5,282.5 L793.8,283.7 L794.1,281.4 L794.4,280.3 L794.7,280.9 L795.0,279.9 L795.3,280.8 L795.6,279.7 L795.9,280.0 L796.1,282.2 L796.4,285.6 L796.7,287.5 L797.0,287.3 L797.3,288.3 L797.6,286.8 L797.9,285.6 L798.2,284.1 L798.4,281.2 L798.7,280.1 L799.0,278.7 L799.3,277.3 L799.6,276.7 L799.9,275.7 L800.2,274.4 L800.5,271.8 L800.8,271.3 L801.2,269.1 L801.5,266.5 L801.8,263.7 L802.1,262.1 L802.4,262.2 L802.7,259.6 L803.0,259.3 L803.3,261.9 L803.5,260.5 L803.8,261.4 L804.1,260.3 L804.4,259.3 L804.7,259.9 L805.0,258.9 L805.3,259.4 L805.6,256.1 L805.8,257.9 L806.1,256.4 L806.4,257.0 L806.7,252.5 L807.0,252.4 L807.3,252.1 L807.6,252.4 L807.9,252.4 L808.2,249.8 L808.4,253.0 L808.7,250.2 L809.0,250.6 L809.3,251.8 L809.6,252.7 L809.9,252.8 L810.2,256.0 L810.5,252.8 L810.8,255.3 L811.2,256.8 L811.5,258.1 L811.8,258.3 L812.1,259.3 L812.4,259.0 L812.7,258.3 L813.0,258.3 L813.3,257.8 L813.6,259.6 L813.9,257.8 L814.2,257.7 L814.5,256.4 L814.8,255.8 L815.1,256.3 L815.4,256.7 L815.7,258.0 L816.0,256.7 L816.3,256.2 L816.6,253.8 L816.9,253.2 L817.2,253.3 L817.5,251.6 L817.8,253.1 L818.1,250.8 L818.4,250.8 L818.7,249.5 L819.0,250.2 L819.3,251.4 L819.6,252.0 L819.9,251.0 L820.2,248.9 L820.5,249.2 L820.8,246.7 L821.1,245.8 L821.4,243.5 L821.7,242.2 L822.0,241.7 L822.3,243.3 L822.6,241.4 L822.9,242.0 L823.2,244.1 L823.5,245.1 L823.8,246.3 L824.1,248.6 L824.4,250.4 L824.7,253.3 L825.0,250.2 L825.3,254.5 L825.6,255.5 L825.8,257.3 L826.1,256.5 L826.4,257.4 L826.7,259.0 L827.0,260.4 L827.3,262.1 L827.6,262.4 L827.9,266.9 L828.1,266.5 L828.4,269.4 L828.7,269.7 L829.0,268.8 L829.3,266.6 L829.6,265.6 L829.9,259.9 L830.1,258.8 L830.4,255.8 L830.7,255.1 L831.0,253.2 L831.3,249.3 L831.6,250.5 L831.9,247.7 L832.1,247.4 L832.4,244.9 L832.7,245.2 L833.0,244.8 L833.3,244.8 L833.6,243.0 L833.9,244.7 L834.2,242.8 L834.5,243.2 L834.8,240.8 L835.1,242.4 L835.4,241.8 L835.7,242.5 L836.0,242.4 L836.3,241.7 L836.6,240.9 L836.9,238.8 L837.2,239.3 L837.5,240.0 L837.8,236.8 L838.1,237.8 L838.4,235.6 L838.7,238.5 L839.0,240.6 L839.3,239.0 L839.6,237.4 L839.9,237.7 L840.2,235.4 L840.4,234.5 L840.7,236.4 L841.0,235.4 L841.3,234.3 L841.6,231.2 L841.9,232.3 L842.2,234.0 L842.5,234.0 L842.8,234.8 L843.1,234.6 L843.5,235.4 L843.8,235.5 L844.1,236.5 L844.4,236.3 L844.7,235.7 L845.0,235.4 L845.3,236.5 L845.6,235.2 L845.9,232.9 L846.2,234.6 L846.5,235.2 L846.8,235.4 L847.1,236.5 L847.4,234.6 L847.7,236.0 L848.0,234.1 L848.3,233.1 L848.6,231.3 L848.9,230.3 L849.2,229.9 L849.5,232.2 L849.8,231.3 L850.1,229.5 L850.4,228.7 L850.7,228.7 L851.0,228.4 L851.3,228.3 L851.6,227.4 L851.9,227.3 L852.2,225.3 L852.5,227.9 L852.8,229.3 L853.2,228.5 L853.5,227.9 L853.8,228.4 L854.1,229.6 L854.4,228.3 L854.7,228.1 L855.0,228.4 L855.3,229.7 L855.6,226.6 L855.9,224.8 L856.1,223.2 L856.4,221.5 L856.7,219.6 L857.0,217.7 L857.3,216.8 L857.6,217.3 L857.9,217.3 L858.2,215.9 L858.5,217.9 L858.8,213.6 L859.1,211.2 L859.4,211.9 L859.7,210.2 L860.0,207.7 L860.3,209.2 L860.6,208.8 L860.9,208.5 L861.2,210.6 L861.5,210.0 L861.8,208.9 L862.1,207.4 L862.4,206.8 L862.7,207.0 L863.0,204.3 L863.3,206.4 L863.6,206.2 L863.9,206.0 L864.2,205.1 L864.5,203.7 L864.8,203.7 L865.1,205.5 L865.4,202.3 L865.7,204.4 L866.0,204.1 L866.3,204.2 L866.6,201.2 L866.9,201.1 L867.1,197.8 L867.4,197.2 L867.7,194.7 L868.0,193.9 L868.3,192.8 L868.6,193.8 L868.9,196.1 L869.1,193.7 L869.4,195.5 L869.7,197.0 L870.0,200.1 L870.3,200.5 L870.6,200.9 L870.9,198.9 L871.1,199.3 L871.4,197.7 L871.7,197.5 L872.0,196.8 L872.3,195.3 L872.6,194.1 L872.9,192.8 L873.1,192.0 L873.4,190.1 L873.7,190.0 L874.0,186.4 L874.3,188.5 L874.6,189.9 L874.9,187.7 L875.2,189.9 L875.5,189.9 L875.8,190.6 L876.1,192.4 L876.4,191.2 L876.7,193.4 L877.0,191.1 L877.3,191.8 L877.6,191.8 L877.9,193.8 L878.2,191.8 L878.5,192.1 L878.8,192.5 L879.1,191.9 L879.4,188.4 L879.7,191.5 L880.0,190.5 L880.3,190.1 L880.6,191.5 L880.9,190.2 L881.2,188.4 L881.5,188.9 L881.8,193.9 L882.1,194.4 L882.5,196.6 L882.8,199.7 L883.1,199.9 L883.4,202.0 L883.7,198.1 L884.0,197.2 L884.2,196.6 L884.5,197.0 L884.8,196.0 L885.1,191.7 L885.4,193.6 L885.7,191.3 L886.0,192.5 L886.3,191.9 L886.6,195.0 L886.9,197.1 L887.2,198.0 L887.5,199.4 L887.9,203.7 L888.2,205.5 L888.5,208.0 L888.8,210.3 L889.1,211.1 L889.4,214.1 L889.6,211.9 L889.9,212.6 L890.2,214.9 L890.5,216.7 L890.8,217.8 L891.1,214.7 L891.4,214.9 L891.7,212.3 L892.0,209.7 L892.2,209.2 L892.5,208.6 L892.8,205.3 L893.1,205.9 L893.4,207.0 L893.7,203.2 L894.0,199.1 L894.2,197.0 L894.5,193.4 L894.8,196.4 L895.1,192.5 L895.4,188.8 L895.7,191.6 L896.0,192.3 L896.3,192.0 L896.5,193.9 L896.8,195.1 L897.1,195.5 L897.4,200.5 L897.7,200.1 L898.0,203.4 L898.2,206.8 L898.5,209.2 L898.8,215.7 L899.1,223.5 L899.3,231.7 L899.6,239.4 L899.9,234.5 L900.3,227.3 L900.6,220.9 L900.9,218.7 L901.1,216.5 L901.4,212.3 L901.7,214.3 L902.0,216.2 L902.3,219.0 L902.6,220.3 L902.9,219.2 L903.2,212.0 L903.5,211.5 L903.8,207.0 L904.1,204.9 L904.3,204.3 L904.6,201.2 L904.9,203.0 L905.2,205.3 L905.5,205.4 L905.9,206.9 L906.2,208.1 L906.5,208.4 L906.8,207.5 L907.1,207.5 L907.4,207.7 L907.6,206.6 L907.9,205.0 L908.2,205.5 L908.5,206.1 L908.8,204.6 L909.0,199.5 L909.3,193.9 L909.6,191.1 L909.9,190.2 L910.2,187.8 L910.6,185.9 L910.9,183.5 L911.2,181.5 L911.5,180.9 L911.8,183.9 L912.1,183.4 L912.4,183.9 L912.6,183.4 L912.9,183.7 L913.2,183.7 L913.5,183.0 L913.8,185.1 L914.1,188.7 L914.4,190.9 L914.7,193.9 L915.0,195.2 L915.3,194.1 L915.6,194.4 L915.9,191.8 L916.2,192.2 L916.5,191.2 L916.8,192.4 L917.1,193.4 L917.4,190.6 L917.7,189.3 L918.0,191.5 L918.3,193.6 L918.6,192.1 L918.9,195.2 L919.2,196.4 L919.5,197.6 L919.8,197.2 L920.1,199.9 L920.3,199.8 L920.6,200.3 L920.9,201.0 L921.2,202.8 L921.5,200.5 L921.8,199.7 L922.2,198.9 L922.5,196.0 L922.8,195.0 L923.1,193.9 L923.4,193.2 L923.7,191.4 L924.0,188.5 L924.3,188.2 L924.6,188.0 L924.9,189.4 L925.2,190.0 L925.6,191.9 L925.9,194.1 L926.2,193.9 L926.5,193.6 L926.8,195.1 L927.1,194.1 L927.5,194.1 L927.8,195.1 L928.1,195.3 L928.4,194.1 L928.7,194.9 L929.0,191.9 L929.4,188.5 L929.7,186.3 L930.0,184.7 L930.3,185.2 L930.6,183.9 L930.9,183.7 L931.2,182.4 L931.5,180.9 L931.8,181.1 L932.0,178.8 L932.3,177.1 L932.6,179.8 L932.9,176.7 L933.3,173.0 L933.6,170.7 L933.9,170.7 L934.2,172.4 L934.5,170.5 L934.8,172.9 L935.0,172.5 L935.3,172.0 L935.6,172.8 L935.9,170.3 L936.2,172.9 L936.5,176.6 L936.7,178.3 L937.0,180.1 L937.3,181.9 L937.6,182.4 L937.9,183.2 L938.1,185.8 L938.4,186.2 L938.7,186.5 L939.0,186.9 L939.3,186.8 L939.6,184.8 L939.9,183.1 L940.1,184.7 L940.4,187.6 L940.7,186.1 L941.0,183.7 L941.3,183.9 L941.6,184.5 L941.9,183.8 L942.1,183.7 L942.4,184.1 L942.7,182.0 L943.0,184.7 L943.3,185.9 L943.6,187.9 L943.9,190.2 L944.1,191.2 L944.4,192.4 L944.7,192.3 L944.9,193.2 L945.2,194.7 L945.5,197.1 L945.8,194.0 L946.2,192.2 L946.5,191.8 L946.8,189.5 L947.1,186.4 L947.3,184.4 L947.6,180.9 L947.9,181.0 L948.2,182.3 L948.5,181.2 L948.8,180.2 L949.1,181.3 L949.4,180.8 L949.7,180.3 L950.0,179.2 L950.3,180.3 L950.6,180.7 L951.0,183.0 L951.3,183.0 L951.6,182.5 L951.9,180.1 L952.1,177.3 L952.4,174.2 L952.7,173.2 L953.0,173.4 L953.3,171.8 L953.5,171.1 L953.8,171.2 L954.1,171.5 L954.4,171.3 L954.7,172.1 L955.0,170.2 L955.3,168.0 L955.6,166.8 L955.9,167.2 L956.1,167.4 L956.4,165.2 L956.7,165.1 L957.0,164.7 L957.4,160.0 L957.8,142.7 L958.1,125.7 L958.4,117.2 L958.7,104.2 L959.0,107.8 L959.3,111.9 L959.6,114.4 L959.9,111.3 L960.1,107.4 L960.4,104.9 L960.7,107.9 L961.1,113.6 L961.4,116.5 L961.7,112.0 L962.1,108.2 L962.4,104.9 L962.7,108.4 L962.9,110.5 L963.2,113.3 L963.5,108.8 L963.9,105.9 L964.2,109.0 L964.6,115.0 L965.0,119.8 L965.3,125.0 L965.6,121.9 L966.0,118.4 L966.4,116.6 L966.7,111.1 L967.0,105.4 L967.3,100.9 L967.6,95.1 L967.9,91.5 L968.2,89.5 L968.5,91.3 L968.7,91.9 L969.0,93.7 L969.3,95.2 L969.5,96.7 L969.8,98.5 L970.1,98.0 L970.4,95.4 L970.7,93.9 L971.0,91.5 L971.3,93.6 L971.5,93.6 L971.8,95.9 L972.1,89.6 L972.4,81.3 L972.7,83.7 L972.9,84.1 L973.2,84.0 L973.5,83.4 L973.8,82.7 L974.1,80.2 L974.4,82.0 L974.7,83.2 L975.0,85.0 L975.3,85.8 L975.6,86.6 L975.9,87.0 L976.1,83.5 L976.4,75.3 L976.7,77.6 L976.9,79.7 L977.2,80.8 L977.6,86.7 L977.9,79.2 L978.2,73.7 L978.5,73.2 L978.8,71.5 L979.1,69.3 L979.3,72.8 L979.6,72.5" stroke="#ff0000" stroke-width="3.3"/>
<path d="M30.0,537.5 L30.3,537.5 L30.6,540.4 L30.9,538.8 L31.2,537.4 L31.5,538.4 L31.8,539.3 L32.1,538.2 L32.4,537.7 L32.7,538.5 L33.0,537.9 L33.3,537.8 L33.6,537.1 L33.9,537.0 L34.2,538.5 L34.5,538.4 L34.8,537.1 L35.1,536.7 L35.4,536.5 L35.7,537.5 L36.0,536.7 L36.3,535.7 L36.6,537.0 L36.9,536.6 L37.2,535.9 L37.5,536.8 L37.8,536.8 L38.1,537.6 L38.4,536.5 L38.7,536.2 L39.0,536.7 L39.3,535.7 L39.6,537.1 L39.9,536.7 L40.1,537.2 L40.4,537.7 L40.7,538.6 L41.0,537.2 L41.3,538.0 L41.6,536.5 L41.9,536.2 L42.2,537.1 L42.5,536.2" stroke="#000000" stroke-width="5.0"/>
<path d="M41.6,536.5 L41.9,536.2 L42.2,537.1 L42.5,536.2 L42.8,537.4 L43.1,536.8 L43.4,536.5 L43.7,537.8 L44.0,537.1 L44.3,538.2 L44.6,536.6 L44.9,537.6 L45.2,537.9 L45.5,536.5 L45.8,538.3 L46.1,537.9 L46.4,537.2 L46.7,537.2 L47.0,537.2 L47.3,535.9 L47.6,536.2 L47.9,535.9 L48.2,536.7 L48.5,538.5 L48.8,535.8 L49.1,538.0 L49.4,537.9 L49.7,537.1 L50.0,536.8 L50.3,535.5 L50.6,536.1 L50.9,537.1 L51.2,536.3 L51.5,538.0 L51.8,537.1 L52.1,537.4 L52.4,535.6 L52.7,535.5 L53.0,536.6 L53.3,537.6 L53.6,536.0 L53.9,537.5 L54.2,536.4 L54.5,536.7 L54.8,535.7 L55.1,535.4 L55.4,535.0 L55.7,534.7 L56.0,535.7 L56.3,532.5 L56.6,534.8 L56.9,535.5 L57.2,535.5 L57.5,535.9 L57.8,534.1 L58.1,536.3 L58.4,533.6 L58.7,535.6 L59.0,534.1 L59.3,535.4 L59.6,535.5 L59.9,535.5 L60.1,536.2 L60.4,536.0" stroke="#000000" stroke-width="5.6"/>
<path d="M59.6,535.5 L59.9,535.5 L60.1,536.2 L60.4,536.0 L60.7,535.9 L61.0,536.4 L61.3,536.6 L61.6,536.6 L61.9,537.4 L62.2,537.4 L62.5,536.8 L62.8,537.0 L63.1,536.7 L63.4,536.4 L63.7,535.8 L64.0,537.3 L64.3,536.7 L64.6,537.0 L64.9,536.0 L65.2,538.1 L65.5,535.9 L65.8,535.7 L66.1,536.6 L66.4,535.4 L66.7,535.8 L67.0,536.7 L67.3,536.5 L67.6,536.9 L67.9,535.6 L68.2,536.2 L68.5,536.5 L68.8,536.8 L69.1,536.4 L69.4,536.3 L69.7,536.4 L70.0,536.1 L70.3,535.1 L70.6,535.5 L70.9,534.8 L71.2,535.0 L71.5,535.4 L71.8,536.6 L72.1,535.7 L72.4,534.8 L72.7,536.6 L73.0,536.2 L73.3,535.6 L73.6,536.1 L73.9,536.4 L74.2,534.4 L74.5,536.1 L74.8,534.7 L75.1,534.9 L75.4,534.5 L75.7,534.1 L76.0,533.9 L76.3,535.0 L76.6,535.3 L76.9,534.1 L77.2,534.6 L77.5,535.0 L77.8,534.5 L78.1,535.8 L78.4,535.2 L78.7,536.5 L79.0,534.7 L79.3,535.7 L79.6,536.1 L79.9,534.9 L80.1,535.1 L80.4,534.2" stroke="#000000" stroke-width="6.4"/>
<path d="M79.6,536.1 L79.9,534.9 L80.1,535.1 L80.4,534.2 L80.7,534.4 L81.0,535.9 L81.3,535.0 L81.6,533.6 L81.9,535.1 L82.2,535.8 L82.5,536.5 L82.8,535.5 L83.1,536.5 L83.4,534.5 L83.7,534.6 L84.0,536.8 L84.3,536.7 L84.6,535.4 L84.9,535.8 L85.2,534.9 L85.5,535.0 L85.8,535.6 L86.1,536.6 L86.4,534.3 L86.7,534.8 L87.0,535.6 L87.3,534.6 L87.6,534.5 L87.9,536.0 L88.2,533.8 L88.5,534.2 L88.8,535.4 L89.1,536.0 L89.4,536.1 L89.7,532.7 L90.0,535.3 L90.3,535.2 L90.6,535.2 L90.9,534.9 L91.2,532.4 L91.5,536.2 L91.8,535.1 L92.1,534.3 L92.4,534.7 L92.7,534.7 L93.0,534.7 L93.3,535.8 L93.6,535.5 L93.9,535.3 L94.2,535.7 L94.5,534.3 L94.8,535.7 L95.2,536.2 L95.5,535.9 L95.8,536.5 L96.1,535.2 L96.4,536.6 L96.7,536.1 L97.0,535.4 L97.3,534.7 L97.6,535.3 L97.9,532.6 L98.2,533.6 L98.5,532.2 L98.8,534.1 L99.1,532.7 L99.4,535.2 L99.7,535.8 L100.0,533.9 L100.3,534.5 L100.6,535.2 L100.9,533.5 L101.2,532.5 L101.5,534.2 L101.8,531.8 L102.1,535.5 L102.4,534.8 L102.7,532.7 L103.0,533.8 L103.3,532.8 L103.6,533.4 L103.9,532.7 L104.2,533.5 L104.5,532.8 L104.8,532.5 L105.2,533.1 L105.5,533.7 L105.8,534.6 L106.1,533.1 L106.4,533.2 L106.7,531.5 L107.0,532.6 L107.3,532.3 L107.6,533.3 L107.9,532.4 L108.2,533.8 L108.5,531.0 L108.8,534.4 L109.1,531.5 L109.4,531.7 L109.7,530.5 L110.0,532.7 L110.3,533.1 L110.6,534.0 L110.9,531.9 L111.2,532.0 L111.5,531.8 L111.8,532.6 L112.1,532.2 L112.4,533.5 L112.7,531.2 L113.0,530.4 L113.3,529.8 L113.6,531.3 L113.9,530.0 L114.2,531.0 L114.5,532.0 L114.8,533.4 L115.2,531.3 L115.5,532.9 L115.8,531.2 L116.1,530.6 L116.4,529.9 L116.7,531.2 L117.0,531.3 L117.3,530.7 L117.6,528.4 L117.9,529.0 L118.2,529.9 L118.5,530.0 L118.8,529.4 L119.1,530.4 L119.4,528.4 L119.7,529.9 L120.0,531.1 L120.3,530.3 L120.6,531.2 L120.9,530.6 L121.2,530.2 L121.5,533.2 L121.8,531.2 L122.1,531.7 L122.4,531.5 L122.7,531.2 L123.0,529.8 L123.3,530.0 L123.6,529.8 L123.9,530.1 L124.2,531.5 L124.5,529.4 L124.8,530.4 L125.2,529.9 L125.5,530.4 L125.8,531.3 L126.1,530.0 L126.4,528.4 L126.7,529.1 L127.0,531.7 L127.3,530.8 L127.6,530.8 L127.9,532.0 L128.2,531.7 L128.5,528.8 L128.8,529.2 L129.1,530.0 L129.4,528.5 L129.7,528.5 L130.0,529.6 L130.3,530.5 L130.6,529.3 L130.9,529.4 L131.2,530.5 L131.5,530.0 L131.8,531.6 L132.1,529.4 L132.4,530.0 L132.7,531.0 L133.0,530.7 L133.3,530.8 L133.6,529.7 L133.9,528.6 L134.1,528.9 L134.4,529.4 L134.7,529.2 L135.0,529.4 L135.3,529.3 L135.6,529.8 L135.9,531.2 L136.2,527.3 L136.5,529.0 L136.8,528.7 L137.1,527.4 L137.4,527.0 L137.7,528.9 L138.0,528.4 L138.3,529.6 L138.6,526.6 L138.9,528.5 L139.2,529.4 L139.5,528.9 L139.8,527.7 L140.1,529.1 L140.4,528.7 L140.6,524.8 L140.9,528.0 L141.2,526.5 L141.5,527.6 L141.8,526.1 L142.1,528.5 L142.4,527.3 L142.7,525.5 L143.0,527.0 L143.3,526.3 L143.6,525.7 L143.9,527.5 L144.2,527.5 L144.5,527.6 L144.8,528.3 L145.1,527.6 L145.4,531.6 L145.6,531.1 L145.9,529.1 L146.2,527.1 L146.5,528.1 L146.8,529.7 L147.1,531.6 L147.4,529.9 L147.7,530.8 L148.0,530.3 L148.3,529.1 L148.6,529.5 L148.9,532.1 L149.2,530.2 L149.5,528.4 L149.8,529.5 L150.1,529.4 L150.4,530.9 L150.7,528.6 L151.0,529.5 L151.3,529.1 L151.6,528.8 L151.9,529.2 L152.2,527.6 L152.5,529.5 L152.8,529.1 L153.1,528.8 L153.4,530.3 L153.7,529.9 L154.0,529.5 L154.3,529.0 L154.6,529.7 L154.9,530.2 L155.2,529.5 L155.5,529.5 L155.8,530.2 L156.1,528.7 L156.4,530.3 L156.7,529.5 L157.0,532.3 L157.3,533.3 L157.6,531.2 L157.9,531.6 L158.2,530.9 L158.5,532.0 L158.8,531.4 L159.1,532.6 L159.4,531.1 L159.7,531.2 L160.0,532.7 L160.3,533.9 L160.6,532.6 L160.9,533.0 L161.2,532.3 L161.5,531.1 L161.8,531.9 L162.1,531.8 L162.4,532.1 L162.7,530.1 L163.0,530.9 L163.3,530.2 L163.6,532.0 L163.9,531.5 L164.1,530.5 L164.4,531.4 L164.7,531.8 L165.0,530.6 L165.3,531.0 L165.6,529.7 L165.9,530.1 L166.2,529.0 L166.5,530.8 L166.8,530.8 L167.1,530.0 L167.4,531.0 L167.7,530.6 L168.0,531.0 L168.3,530.2 L168.6,529.9 L168.9,530.2 L169.2,528.5 L169.5,530.9 L169.8,530.5 L170.1,529.9 L170.4,528.1 L170.7,529.6 L171.0,527.7 L171.3,528.5 L171.6,528.7 L171.9,528.8 L172.2,531.5 L172.5,531.0 L172.8,529.3 L173.1,529.2 L173.4,530.5 L173.7,528.0 L174.0,528.7 L174.3,530.1 L174.6,528.0 L174.9,528.3 L175.2,527.9 L175.5,527.0 L175.8,527.7 L176.1,528.7 L176.4,528.3 L176.7,531.0 L177.0,529.7 L177.3,530.9 L177.6,531.2 L177.9,529.9 L178.1,528.8 L178.4,529.9 L178.7,530.7 L179.0,531.4 L179.3,528.9 L179.6,531.2 L179.9,531.1 L180.2,530.8 L180.5,531.9 L180.8,531.4 L181.1,532.2 L181.4,532.5 L181.7,532.2 L182.0,530.2 L182.3,529.6 L182.6,529.8 L182.9,530.7 L183.2,529.2 L183.5,527.8 L183.8,531.1 L184.1,533.3 L184.4,529.3 L184.7,530.9 L185.0,531.1 L185.3,531.0 L185.6,532.4 L185.9,530.7 L186.2,532.1 L186.5,531.5 L186.8,531.7 L187.1,531.1 L187.4,530.8 L187.7,532.6 L188.0,531.7 L188.3,531.9 L188.6,532.7 L188.9,531.8 L189.2,533.2 L189.5,532.8 L189.8,532.7 L190.1,531.9 L190.4,531.4 L190.7,529.8 L191.0,532.2 L191.3,529.8 L191.6,529.9 L191.9,530.4 L192.1,529.0 L192.4,531.0 L192.7,531.7 L193.0,530.4 L193.3,529.4 L193.6,530.9 L193.9,529.9 L194.2,529.6 L194.5,531.6 L194.8,530.1 L195.1,530.4 L195.4,529.5 L195.7,531.1 L196.0,529.2 L196.3,530.4 L196.6,529.9 L196.9,529.5 L197.2,528.9 L197.5,529.1 L197.8,530.5 L198.1,531.1 L198.4,531.9 L198.7,529.1 L199.0,530.8 L199.3,530.0 L199.6,531.0 L199.9,529.4 L200.1,531.5 L200.4,531.9 L200.7,531.0 L201.0,530.2 L201.3,529.5 L201.6,530.4 L201.9,531.7 L202.2,529.0 L202.5,529.9 L202.8,529.9 L203.1,530.8 L203.4,530.7 L203.7,531.1 L204.0,530.3 L204.3,531.2 L204.6,530.3 L204.9,528.4 L205.2,531.4 L205.5,530.9 L205.8,531.6 L206.1,531.3 L206.4,528.2 L206.7,530.4 L207.0,532.3 L207.3,531.7 L207.6,531.7 L207.9,529.6 L208.1,529.5 L208.4,530.1 L208.7,530.3 L209.0,530.6 L209.3,529.9 L209.6,530.5 L209.9,531.3 L210.2,531.1 L210.5,530.8 L210.8,530.2 L211.1,531.0 L211.4,530.8 L211.7,529.1 L212.0,528.9 L212.3,529.4 L212.6,529.3 L212.9,529.9 L213.2,529.7 L213.5,527.9 L213.8,530.8 L214.1,529.0 L214.4,530.6 L214.7,530.3 L215.0,529.7 L215.3,530.0 L215.6,530.8 L215.9,530.6 L216.2,531.9 L216.5,530.9 L216.8,531.3 L217.1,532.0 L217.4,533.9 L217.7,531.4 L218.0,533.1 L218.3,533.4 L218.6,533.0 L218.9,533.2 L219.2,531.1 L219.5,532.9 L219.8,531.8 L220.1,533.2 L220.4,534.4 L220.7,533.3 L221.0,532.0 L221.3,533.2 L221.7,534.0 L222.0,532.5 L222.3,532.3 L222.6,532.9 L222.9,534.1 L223.2,533.2 L223.5,531.1 L223.8,532.1 L224.1,532.9 L224.4,532.9 L224.7,533.5 L225.0,531.7 L225.3,534.1 L225.6,532.8 L225.9,532.7 L226.2,533.8 L226.5,532.9 L226.8,532.4 L227.1,534.5 L227.4,533.8 L227.7,534.4 L228.0,533.3 L228.3,534.5 L228.6,535.7 L228.8,534.2 L229.1,536.8 L229.4,535.3 L229.7,534.3 L230.0,534.4 L230.3,534.1 L230.6,534.7 L230.9,533.2 L231.2,534.7 L231.5,533.6 L231.8,533.5 L232.1,534.1 L232.4,533.5 L232.7,534.8 L233.0,534.0 L233.3,536.1 L233.6,532.5 L233.9,533.5 L234.2,533.9 L234.5,533.3 L234.8,534.6 L235.1,535.3 L235.4,535.3 L235.8,535.5 L236.1,535.6 L236.4,536.9 L236.7,535.3 L237.0,535.7 L237.3,536.7 L237.6,536.4 L237.9,537.8 L238.2,537.0 L238.5,535.3 L238.8,535.7 L239.1,536.4 L239.4,536.9 L239.7,537.0 L240.0,536.3 L240.3,537.1 L240.6,536.5 L240.9,535.7 L241.2,536.2 L241.5,533.7 L241.8,534.9 L242.1,535.4 L242.4,535.6 L242.7,535.8 L243.0,534.1 L243.3,535.1 L243.6,536.8 L243.9,533.5 L244.2,533.5 L244.5,535.0 L244.8,532.7 L245.1,535.9 L245.4,533.8 L245.7,533.7 L246.0,534.0 L246.3,532.3 L246.6,533.3 L246.9,533.2 L247.2,533.7 L247.4,533.7 L247.7,532.8 L248.0,534.1 L248.3,533.4 L248.6,531.2 L248.9,531.8 L249.2,532.6 L249.5,532.9 L249.8,531.8 L250.1,531.1 L250.4,534.3 L250.7,532.9 L251.0,533.9 L251.3,533.6 L251.6,531.0 L251.9,533.4 L252.2,531.1 L252.5,532.7 L252.8,530.9 L253.1,530.7 L253.4,532.1 L253.7,529.3 L254.0,531.3 L254.3,530.8 L254.6,531.0 L254.9,530.7 L255.2,531.4 L255.5,530.1 L255.8,530.6 L256.1,532.6 L256.4,530.5 L256.7,532.7 L257.0,529.9 L257.3,530.5 L257.6,530.7 L257.9,530.6 L258.2,530.6 L258.5,530.8 L258.8,530.5 L259.1,531.9 L259.4,532.4 L259.6,531.4 L259.9,532.5 L260.2,530.2 L260.5,531.0 L260.8,531.2 L261.1,532.0 L261.4,530.2 L261.7,531.0 L262.0,529.7 L262.3,528.9 L262.6,529.0 L262.9,530.7 L263.2,529.3 L263.5,530.0 L263.8,529.9 L264.1,529.6 L264.4,530.3 L264.7,531.5 L265.0,530.6 L265.3,531.5 L265.6,529.0 L265.9,528.8 L266.2,531.1 L266.5,529.2 L266.8,528.6 L267.1,529.0 L267.4,527.8 L267.6,528.7 L267.9,528.7 L268.2,527.4 L268.5,528.1 L268.8,527.4 L269.1,529.5 L269.4,529.1 L269.7,527.8 L270.0,529.0 L270.3,528.8 L270.6,528.1 L270.9,528.1 L271.2,528.3 L271.5,527.9 L271.8,530.0 L272.1,529.4 L272.4,529.1 L272.7,528.1 L273.0,527.6 L273.3,528.6 L273.6,530.4 L273.9,528.3 L274.2,528.4 L274.5,529.4 L274.8,528.8 L275.2,527.6 L275.5,528.8 L275.8,527.4 L276.1,528.8 L276.4,529.4 L276.7,528.4 L277.0,531.0 L277.3,531.0 L277.6,528.3 L277.9,530.3 L278.2,530.1 L278.5,530.8 L278.8,531.0 L279.1,531.8 L279.4,530.8 L279.7,530.1 L280.0,531.2 L280.3,530.3 L280.6,531.1 L280.9,531.0 L281.1,530.7 L281.4,531.0 L281.7,531.3 L282.0,530.5 L282.3,532.0 L282.6,532.8 L282.9,532.3 L283.2,531.5 L283.5,532.0 L283.8,529.6 L284.1,530.0 L284.4,530.7 L284.7,530.3 L285.0,531.6 L285.3,529.7 L285.6,529.8 L285.9,530.8 L286.2,530.6 L286.5,530.8 L286.8,529.6 L287.1,530.0 L287.4,530.5 L287.7,529.7 L288.0,529.5 L288.3,529.6 L288.6,530.0 L288.9,527.1 L289.2,528.1 L289.5,528.8 L289.8,528.1 L290.1,529.7 L290.4,529.2 L290.7,528.2 L291.0,527.8 L291.3,529.2 L291.6,526.9 L291.9,529.2 L292.2,529.7 L292.5,527.0 L292.8,526.8 L293.1,525.6 L293.4,526.0 L293.7,526.4 L294.0,528.0 L294.4,528.1 L294.7,527.8 L295.0,528.6 L295.3,526.7 L295.6,528.6 L295.9,527.4 L296.2,527.6 L296.5,526.1 L296.8,527.4 L297.1,526.1 L297.4,525.4 L297.7,528.9 L298.0,526.6 L298.3,526.5 L298.6,527.9 L298.9,528.2 L299.2,528.0 L299.5,528.5 L299.8,528.7 L300.1,528.5 L300.4,528.4" stroke="#000000" stroke-width="7.0"/>
<path d="M299.5,528.5 L299.8,528.7 L300.1,528.5 L300.4,528.4 L300.7,528.9 L301.0,528.6 L301.2,528.6 L301.5,527.1 L301.8,528.4 L302.1,528.9 L302.4,528.6 L302.7,528.6 L303.0,529.2 L303.3,528.6 L303.6,528.1 L303.9,529.9 L304.2,529.1 L304.5,528.6 L304.8,529.1 L305.1,527.9 L305.4,529.1 L305.8,528.1 L306.1,530.5 L306.4,529.3 L306.7,529.3 L307.0,530.6 L307.3,528.4 L307.6,530.5 L307.9,530.3 L308.2,531.6 L308.5,530.7 L308.8,529.8 L309.1,528.4 L309.4,529.2 L309.7,529.8 L310.0,529.4 L310.3,529.8 L310.6,531.7 L310.9,529.5 L311.2,530.5 L311.5,529.2 L311.8,529.0 L312.1,529.6 L312.4,528.3 L312.7,528.6 L313.0,529.4 L313.3,527.3 L313.6,529.7 L313.9,529.5 L314.2,529.6 L314.5,527.4 L314.8,528.0 L315.1,526.0 L315.4,528.3 L315.7,528.6 L316.0,525.8 L316.3,526.5 L316.6,528.0 L316.9,526.4 L317.2,527.7 L317.5,525.4 L317.8,528.1 L318.1,526.4 L318.4,527.7 L318.7,526.8 L319.0,526.6 L319.3,526.8 L319.6,527.3 L319.9,527.2 L320.2,527.2 L320.5,526.6 L320.8,527.7 L321.1,527.5 L321.4,527.9 L321.7,526.6 L322.0,525.9 L322.3,527.9 L322.6,526.5 L322.9,525.1 L323.2,526.0 L323.5,526.7 L323.8,527.1 L324.1,527.2 L324.4,525.4 L324.7,527.7 L325.0,524.5 L325.3,525.5 L325.6,526.1 L325.9,527.3 L326.2,527.3 L326.5,527.1 L326.8,525.3 L327.1,526.4 L327.4,526.4 L327.7,526.1 L328.0,525.7 L328.3,523.8 L328.6,524.9 L328.9,526.6 L329.2,525.5 L329.5,523.7 L329.8,525.5 L330.1,523.8 L330.4,523.9 L330.7,524.6 L331.0,524.5 L331.3,523.4 L331.6,523.9 L331.9,524.7 L332.2,523.4 L332.5,524.1 L332.8,523.9 L333.1,523.9 L333.4,523.4 L333.7,524.8 L334.0,522.2 L334.3,524.5 L334.6,523.6 L334.9,524.0 L335.2,524.8 L335.5,524.5 L335.8,525.2 L336.1,523.1 L336.4,524.5 L336.7,523.0 L337.0,523.4 L337.3,524.7 L337.6,523.4 L337.9,523.2 L338.2,524.4 L338.5,523.9 L338.8,523.8 L339.1,523.9 L339.4,523.3 L339.7,522.0 L340.0,523.5 L340.3,521.7 L340.6,523.3 L340.9,522.7 L341.2,523.5 L341.5,520.0 L341.8,521.8 L342.1,521.6 L342.4,523.7 L342.7,522.9 L343.0,521.9 L343.3,521.6 L343.6,523.5 L343.9,521.0 L344.2,522.0 L344.5,522.2 L344.8,522.1 L345.1,522.7 L345.4,521.0 L345.7,523.1 L346.0,523.2 L346.3,520.1 L346.6,521.2 L346.9,520.8 L347.2,522.4 L347.5,520.5 L347.8,520.0 L348.1,520.4 L348.4,523.1 L348.6,520.7 L348.9,518.5 L349.2,520.5 L349.5,520.2 L349.8,520.8 L350.1,520.5 L350.4,520.7 L350.7,522.0 L351.0,519.7 L351.3,520.9 L351.6,520.5 L351.9,522.3 L352.2,520.7 L352.5,521.0 L352.8,520.3 L353.2,522.9 L353.5,521.5 L353.8,522.9 L354.1,520.4 L354.4,520.1 L354.7,522.3 L355.0,523.7 L355.3,521.8 L355.6,523.8 L355.9,522.4 L356.2,521.6 L356.5,521.4 L356.8,520.5 L357.0,521.1 L357.3,522.2 L357.6,522.0 L357.9,523.6 L358.2,522.6 L358.5,520.9 L358.8,521.2 L359.1,522.3 L359.4,523.0 L359.7,521.8 L360.0,523.4 L360.3,522.8 L360.6,522.7 L360.9,522.6 L361.2,522.8 L361.5,523.1 L361.8,527.6 L362.1,526.9 L362.4,527.7 L362.7,528.6 L363.0,530.6 L363.3,531.5 L363.6,530.9 L363.9,533.1 L364.2,532.7 L364.5,537.2 L364.8,537.8 L365.2,540.7 L365.5,541.1 L365.8,542.3 L366.1,543.5 L366.4,544.9 L366.7,545.8 L367.0,546.1 L367.3,545.7 L367.6,546.4 L368.0,546.1 L368.3,548.0 L368.6,547.8 L368.9,546.6 L369.2,546.6 L369.4,546.4 L369.7,544.7 L370.0,545.9 L370.3,544.5 L370.6,546.0 L370.9,543.7 L371.1,543.7 L371.4,543.9 L371.7,543.8 L372.0,543.0 L372.3,541.4 L372.6,540.6 L372.9,540.2 L373.3,540.2 L373.6,540.4 L373.9,539.3 L374.2,540.3 L374.5,538.0 L374.8,538.6 L375.1,537.8 L375.4,538.7 L375.7,538.3 L376.0,537.2 L376.2,536.8 L376.5,537.9 L376.8,538.1 L377.1,536.0 L377.4,534.4 L377.7,535.5 L378.0,536.7 L378.3,536.7 L378.6,535.1 L378.9,535.1 L379.2,533.9 L379.5,536.2 L379.8,534.5 L380.2,534.5 L380.5,534.7 L380.8,534.3 L381.1,537.0 L381.4,535.7 L381.7,535.3 L382.0,535.2 L382.3,536.1 L382.6,535.9 L382.9,534.5 L383.2,535.0 L383.5,533.5 L383.8,535.3 L384.0,533.2 L384.3,534.4 L384.6,533.6 L384.9,533.9 L385.2,533.8 L385.5,533.3 L385.8,532.1 L386.1,533.5 L386.4,532.4 L386.7,533.2 L387.1,532.2 L387.4,531.5 L387.7,529.9 L388.0,531.6 L388.3,531.4 L388.6,529.5 L388.9,529.2 L389.2,527.2 L389.5,530.1 L389.7,530.2 L390.0,529.6 L390.3,530.4 L390.6,529.0 L390.9,529.0 L391.2,526.7 L391.5,528.1 L391.8,528.6 L392.1,528.9 L392.4,527.9 L392.7,528.5 L393.0,527.6 L393.2,530.2 L393.5,530.0 L393.8,529.7 L394.1,531.2 L394.4,531.2 L394.7,529.9 L395.0,528.2 L395.3,528.8 L395.6,528.6 L395.9,528.5 L396.2,528.2 L396.5,527.0 L396.8,526.3 L397.1,528.9 L397.5,528.4 L397.8,528.0 L398.1,528.6 L398.4,528.0 L398.7,527.3 L399.0,527.2 L399.3,526.9 L399.6,527.1 L399.9,528.2 L400.2,528.5 L400.5,526.8 L400.8,529.9 L401.1,527.6 L401.4,528.6 L401.7,527.6 L402.1,528.7 L402.4,527.8 L402.7,527.7 L403.0,526.5 L403.3,526.6 L403.6,525.2 L403.9,526.4 L404.2,526.1 L404.5,527.5 L404.8,525.9 L405.1,527.3 L405.4,526.2 L405.7,526.4 L406.0,527.4 L406.3,527.4 L406.7,526.6 L407.0,525.5 L407.3,524.9 L407.6,527.2 L407.9,526.9 L408.2,525.8 L408.5,528.0 L408.8,526.4 L409.1,526.4 L409.4,527.1 L409.7,526.5 L410.0,525.5 L410.3,527.1 L410.6,525.8 L410.9,526.0 L411.1,525.9 L411.4,525.1 L411.7,524.8 L412.0,525.0 L412.3,527.6 L412.6,525.3 L412.9,526.2 L413.2,527.3 L413.5,525.0 L413.8,525.3 L414.1,525.5 L414.4,528.0 L414.7,526.2 L415.0,525.1 L415.3,527.2 L415.6,526.8 L415.9,527.1 L416.2,526.0 L416.5,528.3 L416.8,525.6 L417.1,526.4 L417.4,526.4 L417.7,527.0 L418.0,527.9 L418.3,526.9 L418.6,526.6 L418.9,528.3 L419.2,528.2 L419.5,528.9 L419.8,527.0 L420.1,528.2 L420.4,529.5 L420.6,528.9 L420.9,528.6 L421.2,528.5 L421.5,529.2 L421.8,529.0 L422.1,528.8 L422.4,528.5 L422.7,528.3 L423.0,526.8 L423.3,527.1 L423.6,527.7 L423.9,528.7 L424.2,528.3 L424.5,528.2 L424.7,528.0 L425.0,527.4 L425.3,527.9 L425.6,528.6 L425.9,528.4 L426.2,528.9 L426.5,527.6 L426.8,527.3 L427.1,528.6 L427.4,527.5 L427.7,527.6 L428.0,527.2 L428.3,527.2 L428.6,526.0 L428.9,525.0 L429.2,525.9 L429.5,526.1 L429.8,527.0 L430.1,526.5 L430.4,526.0" stroke="#000000" stroke-width="6.6"/>
<path d="M429.5,526.1 L429.8,527.0 L430.1,526.5 L430.4,526.0 L430.7,528.4 L431.0,527.1 L431.3,527.2 L431.5,527.1 L431.8,528.4 L432.1,527.3 L432.4,526.9 L432.7,527.3 L433.0,527.2 L433.3,527.3 L433.6,527.2 L433.9,525.6 L434.1,526.5 L434.4,527.1 L434.7,526.1 L435.0,524.7 L435.3,525.7 L435.6,524.8 L435.9,522.2 L436.2,523.7 L436.5,522.9 L436.8,521.9 L437.1,522.1 L437.4,520.4 L437.7,520.8 L438.0,522.5 L438.3,520.9 L438.6,523.0 L438.9,521.2 L439.2,521.5 L439.5,520.3 L439.8,518.9 L440.1,519.9 L440.4,519.2 L440.7,519.5 L441.0,518.1 L441.3,520.3 L441.6,517.8 L441.9,521.1 L442.2,519.2 L442.5,519.7 L442.8,519.4 L443.1,519.7 L443.4,521.3 L443.7,519.6 L444.0,520.0 L444.3,519.7 L444.6,519.4 L444.9,517.9 L445.2,518.9 L445.5,518.3 L445.8,518.5 L446.1,518.8 L446.4,520.4 L446.7,518.9 L447.0,517.5 L447.3,519.0 L447.6,519.2 L447.9,518.7 L448.2,519.6 L448.5,517.7 L448.8,518.7 L449.1,518.1 L449.4,518.6 L449.7,517.3 L450.0,518.3 L450.3,518.6 L450.6,518.4 L450.9,516.5 L451.2,519.1 L451.5,515.8 L451.8,517.8 L452.1,515.3 L452.4,515.5 L452.7,517.0 L453.0,517.6 L453.3,515.4 L453.6,516.1 L453.9,517.3 L454.2,516.0 L454.5,516.1 L454.8,515.0 L455.1,515.1 L455.4,517.4 L455.7,514.6 L456.0,516.9 L456.3,515.7 L456.6,515.7 L456.9,516.0 L457.2,514.9 L457.5,515.7 L457.8,517.1 L458.1,515.8 L458.4,517.0 L458.7,515.4 L459.0,517.3 L459.3,515.7 L459.6,516.0 L459.9,516.8 L460.2,514.9 L460.5,515.6 L460.8,516.9 L461.1,516.0 L461.4,516.5 L461.7,515.3 L462.0,515.2 L462.3,515.6 L462.6,515.2 L462.9,517.7 L463.2,517.3 L463.5,514.8 L463.8,515.2 L464.1,516.1 L464.4,516.2 L464.7,515.5 L465.0,514.2 L465.3,515.8 L465.6,515.1 L465.9,515.3 L466.2,515.2 L466.5,515.0 L466.8,514.2 L467.1,515.2 L467.4,513.4 L467.7,515.4 L468.0,514.1 L468.3,514.1 L468.6,515.1 L468.9,514.5 L469.2,516.6 L469.5,514.2 L469.8,515.7 L470.1,515.8 L470.4,516.4 L470.7,515.1 L471.0,515.7 L471.3,516.6 L471.6,516.9 L471.9,515.5 L472.2,514.1 L472.5,514.5 L472.8,514.7 L473.1,515.8 L473.4,515.5 L473.7,512.8 L474.0,515.0 L474.3,514.9 L474.6,513.0 L474.9,512.5 L475.2,514.2 L475.5,515.5 L475.8,514.4 L476.1,510.7 L476.4,512.3 L476.7,514.0 L477.0,513.7 L477.3,513.0 L477.6,512.7 L477.9,512.0 L478.2,512.8 L478.5,512.8 L478.8,512.8 L479.1,514.4 L479.4,513.8 L479.7,512.9 L480.0,515.1 L480.3,513.4 L480.6,512.7 L480.9,514.8 L481.2,513.0 L481.5,514.5 L481.8,514.4 L482.0,513.9 L482.3,515.3 L482.6,513.5 L482.9,514.1 L483.2,513.9 L483.5,511.8 L483.8,512.8 L484.1,512.6 L484.4,512.6 L484.7,514.7 L485.0,513.8 L485.3,514.5 L485.6,515.2 L485.9,511.9 L486.2,511.7 L486.5,514.9 L486.8,512.7 L487.1,513.2 L487.4,512.5 L487.7,513.2 L488.0,512.3 L488.3,511.7 L488.6,511.1 L488.9,511.5 L489.2,511.7 L489.5,513.3 L489.8,511.9 L490.0,512.0 L490.3,512.9 L490.6,512.9 L490.9,512.2 L491.2,512.3 L491.5,512.1 L491.8,510.9 L492.1,509.9 L492.4,510.5 L492.7,511.4 L493.0,512.2 L493.3,509.7 L493.6,511.6 L493.9,511.5 L494.2,511.2 L494.5,513.4 L494.8,512.8 L495.1,511.1 L495.4,511.1 L495.7,508.7 L496.0,510.8 L496.3,509.6 L496.6,509.8 L496.9,509.5 L497.2,511.7 L497.5,510.0 L497.7,509.1 L498.0,510.4 L498.3,510.9 L498.6,509.3 L498.9,509.4 L499.2,510.2 L499.5,510.7 L499.8,508.9 L500.1,507.8 L500.4,510.1 L500.7,510.3 L501.0,509.6 L501.3,509.8 L501.6,509.2 L501.9,509.1 L502.2,511.1 L502.5,510.0 L502.8,510.2 L503.1,511.7 L503.4,509.4 L503.7,509.1 L504.0,509.3 L504.3,511.7 L504.6,508.9 L504.9,510.4 L505.2,510.8 L505.5,510.4 L505.8,508.9 L506.1,509.8 L506.4,511.4 L506.7,510.7 L507.0,510.3 L507.3,510.4 L507.6,511.8 L507.9,510.9 L508.2,511.0 L508.5,511.1 L508.8,510.3 L509.1,510.5 L509.4,509.6 L509.6,508.7 L509.9,511.2 L510.2,508.4 L510.5,511.2 L510.8,508.1 L511.1,510.2 L511.4,510.1 L511.7,507.9 L512.0,506.9 L512.3,510.7 L512.6,510.3 L512.9,509.3 L513.2,508.0 L513.5,510.1 L513.8,508.8 L514.1,510.2 L514.4,508.5 L514.7,509.3 L515.0,507.8 L515.3,508.5 L515.6,507.9 L515.9,508.4 L516.1,509.8 L516.4,508.3 L516.7,509.5 L517.0,508.1 L517.3,509.7 L517.6,508.6 L517.9,509.9 L518.2,510.0 L518.5,506.6 L518.8,508.6 L519.1,506.9 L519.4,508.7 L519.7,509.6 L520.0,507.2 L520.3,506.1 L520.6,506.2 L520.9,508.6 L521.2,507.2 L521.5,509.3 L521.8,506.7 L522.1,509.3 L522.4,509.6 L522.7,506.7 L523.0,508.7 L523.3,509.0 L523.6,506.9 L523.9,506.0 L524.1,507.6 L524.4,507.4 L524.7,508.5 L525.0,506.9 L525.3,508.4 L525.6,507.0 L525.9,508.1 L526.2,509.2 L526.5,509.3 L526.8,510.0 L527.1,507.7 L527.4,508.5 L527.7,508.2 L528.0,508.1 L528.3,507.7 L528.6,508.9 L528.9,507.7 L529.2,508.2 L529.5,508.0 L529.8,508.4 L530.1,508.5 L530.4,507.6 L530.7,506.9 L531.0,508.1 L531.3,509.3 L531.6,508.8 L531.9,508.9 L532.1,507.8 L532.4,508.2 L532.7,507.7 L533.0,506.8 L533.3,508.4 L533.6,506.9 L533.9,508.3 L534.2,507.4 L534.5,509.2 L534.8,505.6 L535.1,507.2 L535.4,508.6 L535.7,508.3 L536.0,507.6 L536.3,507.4 L536.6,506.9 L536.9,506.5 L537.2,507.7 L537.5,508.7 L537.8,508.4 L538.1,507.5 L538.4,506.0 L538.7,505.8 L539.0,506.6 L539.3,507.5 L539.7,506.5 L540.0,506.6 L540.3,508.1 L540.6,509.1 L540.9,506.8 L541.2,507.0 L541.5,506.3 L541.8,505.9 L542.1,503.9 L542.4,504.4 L542.7,505.1 L543.0,508.5 L543.3,504.7 L543.6,507.4 L543.9,506.1 L544.2,505.0 L544.5,506.5 L544.8,505.1 L545.1,505.8 L545.4,506.6 L545.7,505.6 L546.0,505.3 L546.3,506.4 L546.7,504.5 L547.0,506.5 L547.3,506.0 L547.6,506.8 L547.9,505.0 L548.2,507.5 L548.5,507.1 L548.8,507.2 L549.1,507.1 L549.4,509.0 L549.7,508.3 L550.0,508.5 L550.3,507.0 L550.6,507.4 L550.9,508.9 L551.2,507.3 L551.5,508.1 L551.8,507.3 L552.1,506.3 L552.4,506.9 L552.7,506.6 L553.0,507.5 L553.3,507.3 L553.6,505.6 L553.9,509.1 L554.1,505.2 L554.4,506.1 L554.7,505.6 L555.0,507.3 L555.3,505.4 L555.6,504.9 L555.9,506.5 L556.2,506.0 L556.5,503.5 L556.8,506.2 L557.1,505.5 L557.4,505.8 L557.7,505.8 L558.0,505.0 L558.3,506.0 L558.6,506.0 L558.9,508.1 L559.2,507.4 L559.5,507.5 L559.8,506.1 L560.1,508.7 L560.4,507.9 L560.7,507.7 L561.0,508.1 L561.3,507.0 L561.6,507.7 L561.9,507.6 L562.2,507.9 L562.5,507.3 L562.8,507.4 L563.1,508.2 L563.4,508.3 L563.7,510.7 L564.0,509.4 L564.3,508.1 L564.6,508.9 L564.9,508.7 L565.2,509.4 L565.5,506.5 L565.8,509.6 L566.1,508.5 L566.4,509.2 L566.6,508.8 L566.9,508.9 L567.2,508.4 L567.5,506.7 L567.8,508.2 L568.1,508.1 L568.4,506.5 L568.7,507.7 L569.0,510.1 L569.3,507.3 L569.6,510.5 L569.9,509.0 L570.2,507.7 L570.5,507.8 L570.8,507.3 L571.1,509.5 L571.4,508.4 L571.7,508.4 L572.0,509.0 L572.3,510.2 L572.6,510.1 L572.9,509.9 L573.2,510.0 L573.5,512.5 L573.8,513.0 L574.1,511.8 L574.4,512.4 L574.7,512.2 L575.0,511.8 L575.3,512.0 L575.6,512.9 L575.9,511.5 L576.2,511.1 L576.5,509.8 L576.8,510.6 L577.1,509.6 L577.4,511.4 L577.7,509.1 L578.0,510.3 L578.3,510.5 L578.6,510.3 L578.9,509.5 L579.2,509.9 L579.5,510.0 L579.8,508.6 L580.1,509.2 L580.4,511.0 L580.7,507.0 L581.0,509.0 L581.3,507.6 L581.6,509.1 L581.9,508.9 L582.2,508.2 L582.5,508.9 L582.8,511.5 L583.2,508.4 L583.5,509.0 L583.8,510.7 L584.1,508.3 L584.4,508.0 L584.7,507.1 L585.0,508.4 L585.3,509.2 L585.6,508.6 L585.9,507.7 L586.2,508.9 L586.5,506.2 L586.8,507.4 L587.1,509.0 L587.4,510.5 L587.7,508.9 L588.0,511.0 L588.3,509.4 L588.6,509.2 L588.9,510.5 L589.2,511.8 L589.5,509.4 L589.8,510.8 L590.2,510.6 L590.5,511.3 L590.8,511.2 L591.1,510.9 L591.4,510.3 L591.7,512.1 L592.0,511.4 L592.3,513.9 L592.6,513.9 L592.9,515.7 L593.2,514.6 L593.5,515.3 L593.8,514.7 L594.1,515.1 L594.4,514.1 L594.7,514.3 L595.0,514.7 L595.3,516.5 L595.6,513.2 L595.9,513.9 L596.2,513.5 L596.5,514.4 L596.8,513.8 L597.1,513.7 L597.4,514.8 L597.7,513.4 L598.0,513.4 L598.2,512.2 L598.5,513.7 L598.8,513.7 L599.1,513.0 L599.4,511.0 L599.7,511.6 L600.0,510.2 L600.3,511.5 L600.6,509.8 L600.9,509.2 L601.2,510.3 L601.5,509.2 L601.8,511.8 L602.1,510.6 L602.4,511.8 L602.7,508.6 L603.0,511.0 L603.3,513.0 L603.6,512.8 L603.9,512.0 L604.2,514.1 L604.5,512.9 L604.7,513.4 L605.0,512.6 L605.3,515.2 L605.6,513.8 L605.9,515.8 L606.2,516.1 L606.5,514.0 L606.8,516.3 L607.1,516.2 L607.4,516.9 L607.7,516.2 L608.0,517.5 L608.3,517.4 L608.6,516.0 L608.9,517.8 L609.2,518.1 L609.5,518.1 L609.8,517.0 L610.1,518.3 L610.4,517.4 L610.7,516.8 L611.0,519.7 L611.2,518.4 L611.5,517.4 L611.8,516.3 L612.1,517.1 L612.4,516.2 L612.7,518.7 L613.0,516.5 L613.3,516.5 L613.6,517.1 L613.9,516.3 L614.2,516.3 L614.5,516.0 L614.8,514.9 L615.1,514.3 L615.4,515.5 L615.7,514.0 L616.0,514.4 L616.3,515.0 L616.6,512.6 L616.9,510.9 L617.2,512.8 L617.5,510.7 L617.9,511.4 L618.2,510.8 L618.5,511.3 L618.8,510.1 L619.1,511.7 L619.4,514.1 L619.7,512.5 L620.0,511.7 L620.3,510.7 L620.6,509.8 L620.9,510.4 L621.2,508.9 L621.5,508.2 L621.8,511.3 L622.1,509.8 L622.4,511.0 L622.7,511.1 L623.0,510.6 L623.3,512.9 L623.6,514.6 L623.9,510.4 L624.2,513.0 L624.5,511.7 L624.7,513.1 L625.0,513.6 L625.3,513.3 L625.6,512.3 L625.9,513.9 L626.2,513.8 L626.5,515.2 L626.8,513.6 L627.1,513.1 L627.4,512.6 L627.7,513.0 L628.0,513.4 L628.3,516.0 L628.6,513.8 L628.9,513.2 L629.2,515.4 L629.5,514.6 L629.8,514.8 L630.1,516.7 L630.4,516.4 L630.7,516.3 L631.0,514.7 L631.3,515.0 L631.7,514.8 L632.0,514.8 L632.3,514.1 L632.6,515.4 L632.9,516.0 L633.2,515.3 L633.5,516.3 L633.8,515.8 L634.1,513.9 L634.4,515.8 L634.7,517.4 L635.0,517.3 L635.3,517.3 L635.6,517.6 L635.9,515.1 L636.2,515.7 L636.5,516.0 L636.8,516.4 L637.1,517.1 L637.4,517.0 L637.7,515.4 L638.0,516.2 L638.3,516.8 L638.6,514.4 L638.9,514.1 L639.2,514.8 L639.6,515.7 L639.9,514.8 L640.2,516.1 L640.5,513.6 L640.8,514.8 L641.1,513.7 L641.4,515.3 L641.7,513.2 L642.0,515.7 L642.3,514.9 L642.6,515.0 L642.9,514.5 L643.2,514.6 L643.5,514.2 L643.8,515.6 L644.1,515.8 L644.4,512.8 L644.7,513.7 L645.0,514.2 L645.3,512.6 L645.6,514.7 L645.9,512.6 L646.2,513.1 L646.5,512.5 L646.8,511.1 L647.1,513.0 L647.4,511.7 L647.8,511.7 L648.1,511.0 L648.4,512.0 L648.7,512.5 L649.0,510.9 L649.3,510.2 L649.6,510.2 L649.9,511.1 L650.2,509.5 L650.5,510.3 L650.8,510.1 L651.1,507.8 L651.4,510.9 L651.7,507.7 L652.0,509.5 L652.3,508.2 L652.6,509.4 L652.9,510.8 L653.2,510.5 L653.5,509.1 L653.8,509.2 L654.1,510.1 L654.4,510.4 L654.7,510.9 L655.0,509.9 L655.3,510.9 L655.5,511.6 L655.8,511.6 L656.1,511.7 L656.4,513.9 L656.7,513.6 L657.0,512.8 L657.3,513.1 L657.6,513.3 L657.9,512.4 L658.2,513.3 L658.5,513.9 L658.8,513.5 L659.1,514.2 L659.4,514.0 L659.7,512.6 L660.0,513.4 L660.3,511.9 L660.6,512.3 L660.9,511.8 L661.2,512.6 L661.5,511.6 L661.8,512.5 L662.0,510.6 L662.3,511.7 L662.6,510.3 L662.9,511.8 L663.2,509.6 L663.5,510.9 L663.8,509.6 L664.1,510.7 L664.4,510.8 L664.7,508.7 L665.0,509.8 L665.3,510.3 L665.6,510.0 L665.9,510.4 L666.2,507.4 L666.5,507.8 L666.8,508.6 L667.1,510.7 L667.4,510.1 L667.7,506.8 L668.0,509.8 L668.3,508.2 L668.6,508.9 L668.9,507.1 L669.1,508.3 L669.4,506.2 L669.7,506.7 L670.0,507.4 L670.3,507.4 L670.6,507.5 L670.9,507.9 L671.2,508.0 L671.5,508.5 L671.8,510.0 L672.1,507.0 L672.4,507.8 L672.7,507.5 L673.0,508.8 L673.3,508.3 L673.6,508.4 L673.9,508.4 L674.2,509.8 L674.5,507.9 L674.8,507.8 L675.1,508.6 L675.4,508.6 L675.7,507.6 L676.0,509.5 L676.3,509.1 L676.6,509.2 L676.9,509.4 L677.2,509.4 L677.5,509.9 L677.8,511.5 L678.1,510.9 L678.4,511.7 L678.7,513.0 L679.0,510.2 L679.3,510.3 L679.6,509.8 L679.9,510.7 L680.2,511.5 L680.5,512.6 L680.8,510.9 L681.2,512.1 L681.5,511.4 L681.8,512.5 L682.1,511.0 L682.4,512.2 L682.7,511.8 L683.0,513.3 L683.3,511.2 L683.6,512.3 L683.9,512.8 L684.2,511.1 L684.5,512.0 L684.8,511.9 L685.1,510.8 L685.4,510.9 L685.7,510.3 L686.0,512.3 L686.3,509.6 L686.7,509.0 L687.0,509.7 L687.3,508.3 L687.6,508.1 L687.9,510.7 L688.2,510.1 L688.5,510.1 L688.8,507.7 L689.1,509.5 L689.4,505.9 L689.7,508.4 L690.0,508.3 L690.3,508.9 L690.6,506.6 L690.9,506.1 L691.2,508.5 L691.5,507.2 L691.8,509.3 L692.1,506.4 L692.4,506.4 L692.7,506.0 L693.0,505.9 L693.3,505.8 L693.6,506.4 L693.9,506.4 L694.1,506.6 L694.4,506.8 L694.7,506.3 L695.0,507.4 L695.3,507.7 L695.6,508.2 L695.9,507.7 L696.2,505.5 L696.5,506.5 L696.8,508.1 L697.1,508.2 L697.4,508.8 L697.7,507.6 L698.0,507.3 L698.3,507.0 L698.6,507.7 L698.9,506.9 L699.2,509.4 L699.5,507.7 L699.8,508.6 L700.1,507.8 L700.4,508.0 L700.7,509.9 L701.0,507.4 L701.3,508.6 L701.6,506.6 L701.9,507.6 L702.1,507.7 L702.4,506.4 L702.7,506.9 L703.0,507.3 L703.3,507.6 L703.6,506.3 L703.9,506.5 L704.2,506.8 L704.5,505.0 L704.8,507.4 L705.1,505.8 L705.4,506.4 L705.7,505.9 L706.0,505.6 L706.3,507.9 L706.6,505.0 L706.9,508.5 L707.2,505.3 L707.5,506.3 L707.8,506.1 L708.1,507.9 L708.4,505.6 L708.7,504.5 L709.0,507.0 L709.3,506.8 L709.6,507.2 L709.9,505.9 L710.1,505.1 L710.4,506.2 L710.7,506.3 L711.0,505.7 L711.3,505.3 L711.6,506.5 L711.9,506.6 L712.2,504.0 L712.5,504.5 L712.8,506.0 L713.1,503.9 L713.4,504.9 L713.7,506.1 L714.0,505.2 L714.3,503.9 L714.6,505.0 L714.9,505.4 L715.2,504.6 L715.5,505.0 L715.8,503.7 L716.1,506.4 L716.4,503.7 L716.7,504.7 L717.0,505.4 L717.3,504.2 L717.7,505.0 L718.0,501.7 L718.3,503.3 L718.6,504.5 L718.9,504.0 L719.2,503.8 L719.5,503.7 L719.8,503.4 L720.1,503.6 L720.4,503.7 L720.7,503.4 L721.0,501.5 L721.3,503.8 L721.6,503.2 L721.9,505.4 L722.2,504.8 L722.5,504.7 L722.8,506.0 L723.1,506.0 L723.4,504.7 L723.7,507.1 L724.0,505.1 L724.3,504.8 L724.7,507.5 L725.0,505.4 L725.3,507.1 L725.6,505.9 L725.9,507.0 L726.2,505.4 L726.5,506.5 L726.8,508.0 L727.1,506.5 L727.4,506.1 L727.7,504.1 L728.0,506.3 L728.3,507.2 L728.6,506.1 L728.9,506.0 L729.2,506.8 L729.5,506.2 L729.8,504.4 L730.1,506.2 L730.4,505.3 L730.7,507.6 L731.0,507.0 L731.3,505.3 L731.6,507.2 L731.9,505.5 L732.2,507.5 L732.5,505.6 L732.8,504.6 L733.1,504.3 L733.4,504.2 L733.7,504.9 L734.0,504.6 L734.3,506.6 L734.6,506.0 L734.9,507.1 L735.2,505.0 L735.5,506.0 L735.8,505.9 L736.1,505.8 L736.4,505.3 L736.7,507.1 L737.0,506.5 L737.3,505.2 L737.6,507.9 L737.9,507.3 L738.2,508.3 L738.5,507.1 L738.8,507.0 L739.1,506.6 L739.4,506.3 L739.7,507.5 L740.0,507.2 L740.3,507.3 L740.6,509.4 L740.9,508.1 L741.2,508.3 L741.5,508.4 L741.8,506.9 L742.2,508.2 L742.5,507.8 L742.8,506.3 L743.1,507.3 L743.4,507.7 L743.7,506.8 L744.0,505.7 L744.3,506.5 L744.6,508.6 L744.9,508.6 L745.2,510.9 L745.5,510.3 L745.8,509.4 L746.2,508.9 L746.5,509.0 L746.8,510.2 L747.1,511.0 L747.4,509.8 L747.7,508.8 L748.0,510.4 L748.3,511.8 L748.6,509.9 L748.9,511.0 L749.2,511.7 L749.5,509.9 L749.8,511.4 L750.1,509.5 L750.4,508.7 L750.7,510.2 L751.0,506.6 L751.3,508.2 L751.6,509.0 L751.9,509.0 L752.2,505.8 L752.5,507.3 L752.8,507.2 L753.1,508.1 L753.4,507.3 L753.7,508.4 L754.0,505.4 L754.3,507.5 L754.6,505.6 L754.9,505.0 L755.2,504.8 L755.5,507.1 L755.8,506.8 L756.1,505.2 L756.4,506.1 L756.7,504.9 L757.0,505.2 L757.3,504.5 L757.6,505.5 L757.9,505.9 L758.2,504.4 L758.5,503.2 L758.8,502.7 L759.1,502.8 L759.4,503.5 L759.7,503.3 L760.0,503.6 L760.3,503.2 L760.6,503.7 L760.9,502.6 L761.2,503.1 L761.5,501.9 L761.8,505.4 L762.1,501.6 L762.4,503.8 L762.7,502.9 L763.0,502.2 L763.3,504.3 L763.6,502.3 L763.9,502.9 L764.2,502.6 L764.5,500.4 L764.8,503.2 L765.1,502.5 L765.4,500.8 L765.7,501.3 L766.0,501.4 L766.3,500.4 L766.6,500.5 L766.9,502.5 L767.2,501.0 L767.5,500.5 L767.8,501.4 L768.1,500.5 L768.4,500.5 L768.7,501.0 L769.0,499.6 L769.3,500.9 L769.6,501.2 L769.9,500.9 L770.2,500.0 L770.5,501.3 L770.8,502.0 L771.1,498.6 L771.4,499.2 L771.7,501.8 L772.0,500.5 L772.3,501.7 L772.6,501.8 L772.9,501.6 L773.2,499.7 L773.5,501.0 L773.8,500.4 L774.1,500.6 L774.4,498.7 L774.7,499.9 L775.0,500.6 L775.3,501.1 L775.6,500.3 L775.9,500.0 L776.2,500.5 L776.5,498.7 L776.8,500.7 L777.1,500.6 L777.4,499.5 L777.7,500.6 L778.0,499.3 L778.3,500.6 L778.6,498.6 L778.9,499.6 L779.2,499.9 L779.5,496.5 L779.8,499.8 L780.1,499.0 L780.4,497.8 L780.7,498.1 L781.0,497.2 L781.3,497.0 L781.6,497.1 L781.9,497.2 L782.2,497.3 L782.5,497.1 L782.8,496.2 L783.1,497.9 L783.4,497.8 L783.7,496.7 L784.0,496.3 L784.3,493.9 L784.6,496.5 L784.9,497.3 L785.2,496.6 L785.5,497.9 L785.8,496.7 L786.1,495.4 L786.4,496.6 L786.7,497.2 L787.0,496.5 L787.3,497.4 L787.6,495.3 L787.9,498.9 L788.2,497.3 L788.5,493.9 L788.8,496.3 L789.1,496.6 L789.4,496.1 L789.7,496.6 L790.0,496.4 L790.3,495.0 L790.6,496.5 L790.9,496.3 L791.2,495.4 L791.5,496.1 L791.8,495.9 L792.1,497.1 L792.4,496.1 L792.7,496.1 L793.0,495.0 L793.3,496.2 L793.6,498.5 L793.9,496.1 L794.2,497.7 L794.5,498.2 L794.8,496.8 L795.1,497.3 L795.4,496.6 L795.7,497.0 L796.0,496.0 L796.3,496.8 L796.6,496.2 L796.9,495.3 L797.2,495.9 L797.5,496.1 L797.8,497.0 L798.1,497.1 L798.4,496.3 L798.6,494.7 L798.9,495.5 L799.2,496.0 L799.5,495.7 L799.8,495.8 L800.1,496.9 L800.4,495.1 L800.7,495.5 L801.0,495.3 L801.3,493.6 L801.6,495.3 L801.9,495.1 L802.2,495.4 L802.5,495.0 L802.8,496.0 L803.1,494.2 L803.4,494.9 L803.6,494.5 L803.9,494.6 L804.2,493.6 L804.5,494.2 L804.8,494.3 L805.1,493.5 L805.4,492.4 L805.7,494.4 L806.0,493.3 L806.3,494.8 L806.6,494.4 L806.9,494.9 L807.2,493.4 L807.5,493.7 L807.8,494.5 L808.1,492.8 L808.4,495.2 L808.7,493.7 L809.0,494.6 L809.3,493.3 L809.6,495.6 L809.9,494.2 L810.2,494.7 L810.5,496.1 L810.8,493.7 L811.1,494.5 L811.4,493.5 L811.7,497.3 L812.0,496.2 L812.3,495.4 L812.6,495.0 L812.9,493.1 L813.2,496.1 L813.5,496.7 L813.8,495.4 L814.1,496.4 L814.4,495.6 L814.7,493.7 L815.0,494.4 L815.3,492.8 L815.6,496.2 L815.9,493.7 L816.2,496.2 L816.5,495.9 L816.8,497.1 L817.1,495.3 L817.4,494.2 L817.7,495.2 L818.0,493.4 L818.3,494.9 L818.6,494.4 L818.9,492.2 L819.2,492.1 L819.5,491.6 L819.8,493.7 L820.1,494.0 L820.4,495.7 L820.6,493.4 L820.9,493.2 L821.2,494.2 L821.5,494.9 L821.8,492.6 L822.1,494.0 L822.4,491.9 L822.7,492.9 L823.0,492.7 L823.3,493.3 L823.6,491.7 L823.9,493.0 L824.2,496.6 L824.5,493.0 L824.8,496.1 L825.1,494.4 L825.4,493.8 L825.6,494.2 L825.9,495.5 L826.2,495.5 L826.5,495.9 L826.8,495.4 L827.1,495.6 L827.4,496.4 L827.7,495.5 L828.0,496.2 L828.3,499.0 L828.6,497.9 L828.9,496.4 L829.1,496.0 L829.4,495.8 L829.7,496.3 L830.0,498.1 L830.3,495.9 L830.6,495.0 L830.9,495.6 L831.2,496.0 L831.5,495.1 L831.8,496.0 L832.1,494.3 L832.4,494.9 L832.6,494.8 L832.9,495.3 L833.2,493.2 L833.5,495.8 L833.8,493.1 L834.1,494.0 L834.4,494.1 L834.7,491.7 L835.0,492.3 L835.3,492.5 L835.6,493.6 L835.9,493.1 L836.2,495.0 L836.5,494.2 L836.8,492.9 L837.1,492.4 L837.4,492.4 L837.6,492.9 L837.9,491.7 L838.2,494.5 L838.5,495.4 L838.8,491.6 L839.1,492.9 L839.4,493.9 L839.7,493.5 L840.0,495.2 L840.3,492.4 L840.6,492.9 L840.9,494.0 L841.2,492.7 L841.5,491.7 L841.8,492.0 L842.1,492.8 L842.4,493.6 L842.7,492.6 L843.0,494.7 L843.3,492.8 L843.6,493.2 L843.9,491.8 L844.2,492.9 L844.5,491.6 L844.8,491.3 L845.1,489.8 L845.4,490.7 L845.7,489.2 L846.0,489.0 L846.3,489.9 L846.6,490.0 L846.9,492.0 L847.2,491.0 L847.5,490.1 L847.8,491.3 L848.1,489.1 L848.4,490.1 L848.7,490.2 L849.0,490.5 L849.3,490.6 L849.6,490.0 L849.9,491.6 L850.2,489.5 L850.5,490.4 L850.8,490.6 L851.1,492.6 L851.4,492.0 L851.7,490.1 L852.0,490.4 L852.3,489.5 L852.6,490.6 L852.9,491.8 L853.2,490.6 L853.5,491.4 L853.8,491.2 L854.1,489.7 L854.4,490.3 L854.7,490.9 L855.0,491.4 L855.3,491.5 L855.6,493.4 L855.9,493.6 L856.2,492.3 L856.5,490.8 L856.8,491.7 L857.1,491.1 L857.4,490.4 L857.7,490.7 L858.0,491.6 L858.3,491.1 L858.6,491.6 L858.9,490.0 L859.2,490.7 L859.5,491.5 L859.8,489.3 L860.1,491.0 L860.4,491.2 L860.7,490.2 L861.0,489.9 L861.3,488.3 L861.7,489.7 L862.0,490.9 L862.3,490.8 L862.6,487.3 L862.9,489.6 L863.2,487.9 L863.5,486.2 L863.8,488.4 L864.1,489.6 L864.4,489.1 L864.7,486.8 L865.0,489.6 L865.3,488.1 L865.6,487.8 L865.9,488.9 L866.2,491.5 L866.5,490.9 L866.8,490.5 L867.1,490.9 L867.4,490.0 L867.6,490.4 L867.9,489.4 L868.2,492.5 L868.5,491.9 L868.8,490.3 L869.1,487.7 L869.4,491.1 L869.7,491.2 L870.0,490.5 L870.3,490.2 L870.6,491.2 L870.9,489.8 L871.2,492.0 L871.5,491.1 L871.8,490.4 L872.1,492.1 L872.4,489.7 L872.7,491.1 L873.0,490.1 L873.3,488.4 L873.6,490.5 L873.9,489.5 L874.2,489.7 L874.5,489.9 L874.8,490.5 L875.1,491.5 L875.4,489.9 L875.7,489.6 L876.0,490.8 L876.3,490.8 L876.6,490.8 L876.9,490.5 L877.2,491.2 L877.5,491.5 L877.8,488.9 L878.1,487.9 L878.4,487.3 L878.6,488.9 L878.9,491.2 L879.2,489.2 L879.5,487.8 L879.8,489.2 L880.1,487.7 L880.4,488.9 L880.7,487.0 L881.0,488.6 L881.3,488.4 L881.6,488.9 L881.9,488.2 L882.2,487.2 L882.5,489.0 L882.8,488.2 L883.1,489.5 L883.4,488.3 L883.6,485.9 L883.9,487.0 L884.2,487.5 L884.5,488.5 L884.8,488.5 L885.1,488.2 L885.4,487.4 L885.7,487.7 L886.0,485.2 L886.3,487.2 L886.6,486.6 L886.9,487.3 L887.2,486.9 L887.5,487.6 L887.8,487.5 L888.2,488.1 L888.5,490.0 L888.8,488.6 L889.1,488.9 L889.4,487.6 L889.7,488.2 L890.0,487.5 L890.3,488.5 L890.6,487.6 L890.9,488.1 L891.2,489.9 L891.5,489.2 L891.8,487.8 L892.2,490.6 L892.5,487.1 L892.8,487.8 L893.1,490.7 L893.4,487.7 L893.7,487.3 L894.0,485.3 L894.3,488.1 L894.6,488.1 L894.9,488.3 L895.2,488.9 L895.5,491.1 L895.8,489.5 L896.1,489.5 L896.4,489.0 L896.7,490.5 L897.0,492.5 L897.3,493.3 L897.6,491.8 L897.9,492.3 L898.2,493.7 L898.4,495.7 L898.7,496.1 L899.0,497.5 L899.3,500.4 L899.6,500.4 L899.9,498.4 L900.3,495.8 L900.6,494.7 L900.9,495.2 L901.2,493.2 L901.5,493.0 L901.8,492.9 L902.1,492.5 L902.3,491.3 L902.6,492.2 L902.9,490.0 L903.2,490.1 L903.5,490.5 L903.8,490.5 L904.1,489.2 L904.4,489.6 L904.7,489.3 L905.0,491.0 L905.3,485.6 L905.6,488.6 L905.9,488.8 L906.2,487.5 L906.5,487.7 L906.8,486.8 L907.1,488.5 L907.5,486.6 L907.8,486.4 L908.1,487.4 L908.4,486.4 L908.7,487.1 L909.0,486.1 L909.3,486.0 L909.6,484.8 L909.9,485.0 L910.2,484.1 L910.5,485.9 L910.8,483.6 L911.1,484.5 L911.4,485.0 L911.7,484.7 L912.0,484.7 L912.3,486.0 L912.6,484.9 L912.9,485.1 L913.2,483.9 L913.5,485.1 L913.8,484.3 L914.1,484.0 L914.4,483.4 L914.7,484.5 L915.0,483.9 L915.3,483.7 L915.6,482.9 L915.9,485.7 L916.2,483.2 L916.5,482.4 L916.8,484.0 L917.1,484.2 L917.4,484.7 L917.7,484.8 L918.0,484.0 L918.3,485.0 L918.6,483.5 L918.9,482.6 L919.2,483.7 L919.5,483.5 L919.8,483.9 L920.1,482.9 L920.4,483.7 L920.7,481.9 L921.0,483.1 L921.3,482.8 L921.6,483.7 L921.9,482.0 L922.2,483.7 L922.5,481.3 L922.8,482.9 L923.1,483.0 L923.4,481.4 L923.7,481.0 L924.0,481.2 L924.3,482.2 L924.6,479.5 L924.9,482.6 L925.2,481.5 L925.5,482.2 L925.8,482.4 L926.1,480.6 L926.4,479.0 L926.7,481.7 L927.0,482.1 L927.3,480.0 L927.6,481.1 L927.9,479.8 L928.2,480.6 L928.5,482.0 L928.8,481.3 L929.1,481.0 L929.4,479.9 L929.7,480.8 L930.0,480.2 L930.3,479.5 L930.6,479.0 L931.0,479.4 L931.3,479.3 L931.6,480.6 L931.9,480.6 L932.2,479.7 L932.5,480.8 L932.8,479.9 L933.1,479.5 L933.4,480.3 L933.7,478.8 L934.0,479.6 L934.3,480.3 L934.6,479.1 L934.9,479.1 L935.2,478.5 L935.5,478.7 L935.8,477.9 L936.1,479.5 L936.4,477.5 L936.7,479.4 L937.0,480.2 L937.3,477.1 L937.6,477.4 L937.9,478.6 L938.2,478.2 L938.5,477.2 L938.8,479.4 L939.1,476.7 L939.4,478.7 L939.7,477.1 L940.0,478.8 L940.3,478.9 L940.6,477.7 L940.9,477.0 L941.2,476.5 L941.5,479.1 L941.8,478.1 L942.1,477.8 L942.4,476.5 L942.7,477.8 L943.0,478.3 L943.3,479.3 L943.6,477.8 L943.9,476.5 L944.2,476.6 L944.5,479.2 L944.8,477.3 L945.1,478.1 L945.4,477.8 L945.6,476.7 L945.9,477.1 L946.2,475.2 L946.5,474.9 L946.8,475.8 L947.1,476.5 L947.4,474.0 L947.7,475.6 L948.0,474.8 L948.3,476.9 L948.6,475.5 L948.9,473.5 L949.2,474.9 L949.5,472.6 L949.8,473.1 L950.1,474.3 L950.4,474.7 L950.8,474.8 L951.1,474.7 L951.4,473.2 L951.7,473.0 L952.0,471.3 L952.3,471.3 L952.6,472.3 L952.9,474.0 L953.2,473.9 L953.5,472.6 L953.8,471.9 L954.1,472.6 L954.4,472.9 L954.7,471.6 L955.0,472.9 L955.3,471.5 L955.6,471.4 L955.9,471.9 L956.1,471.8 L956.4,469.8 L956.7,469.3 L957.0,470.8 L957.3,469.6 L957.6,471.1 L957.9,472.0 L958.2,470.1 L958.5,469.6 L958.8,470.0 L959.1,468.9 L959.4,469.9 L959.7,470.1 L960.0,470.1 L960.3,471.8 L960.6,471.6 L960.9,471.5 L961.2,470.9 L961.5,472.6 L961.9,473.2 L962.2,472.3 L962.5,473.7 L962.8,472.4 L963.1,471.3 L963.4,471.0 L963.7,471.4 L964.0,473.0 L964.3,474.4 L964.6,473.2 L964.9,474.0 L965.2,472.7 L965.5,472.4 L965.8,471.0 L966.1,472.0 L966.4,471.0 L966.7,471.7 L967.1,472.3 L967.4,470.4 L967.7,472.1 L968.0,469.4 L968.3,471.6 L968.6,470.2 L968.9,471.3 L969.2,469.9 L969.5,471.3 L969.8,470.3 L970.1,470.5 L970.4,470.8 L970.7,470.5 L971.0,471.6 L971.3,469.1 L971.7,471.5 L972.0,468.9 L972.3,469.8 L972.6,468.3 L972.9,470.6 L973.2,469.3 L973.5,470.3 L973.8,470.3 L974.1,470.6 L974.4,468.0 L974.7,469.0 L975.0,469.1 L975.3,468.3 L975.6,466.8 L975.9,468.4 L976.2,466.3 L976.5,466.6 L976.8,467.7 L977.1,466.6 L977.4,466.6 L977.7,467.6 L978.0,466.5 L978.3,465.8 L978.7,467.4 L979.0,467.7 L979.3,467.0 L979.6,467.5" stroke="#000000" stroke-width="5.7"/>
</g>
<line x1="31" y1="539.5" x2="985" y2="539.5" stroke="#ff2ee0" stroke-width="1" shape-rendering="crispEdges"/>
<g shape-rendering="crispEdges" stroke="#000" stroke-width="1" fill="none"><rect x="30.5" y="23.5" width="950" height="588"/><line x1="981" y1="43.5" x2="985" y2="43.5"/><line x1="981" y1="76.5" x2="985" y2="76.5"/><line x1="981" y1="109.5" x2="985" y2="109.5"/><line x1="981" y1="142.5" x2="985" y2="142.5"/><line x1="981" y1="175.5" x2="985" y2="175.5"/><line x1="981" y1="208.5" x2="985" y2="208.5"/><line x1="981" y1="241.5" x2="985" y2="241.5"/><line x1="981" y1="274.5" x2="985" y2="274.5"/><line x1="981" y1="307.5" x2="985" y2="307.5"/><line x1="981" y1="341.5" x2="985" y2="341.5"/><line x1="981" y1="374.5" x2="985" y2="374.5"/><line x1="981" y1="407.5" x2="985" y2="407.5"/><line x1="981" y1="440.5" x2="985" y2="440.5"/><line x1="981" y1="473.5" x2="985" y2="473.5"/><line x1="981" y1="506.5" x2="985" y2="506.5"/><line x1="981" y1="572.5" x2="985" y2="572.5"/><line x1="981" y1="605.5" x2="985" y2="605.5"/><line x1="30.5" y1="612" x2="30.5" y2="616"/><line x1="134.5" y1="612" x2="134.5" y2="616"/><line x1="240.5" y1="612" x2="240.5" y2="616"/><line x1="345.5" y1="612" x2="345.5" y2="616"/><line x1="451.5" y1="612" x2="451.5" y2="616"/><line x1="556.5" y1="612" x2="556.5" y2="616"/><line x1="661.5" y1="612" x2="661.5" y2="616"/><line x1="765.5" y1="612" x2="765.5" y2="616"/><line x1="871.5" y1="612" x2="871.5" y2="616"/><line x1="976.5" y1="612" x2="976.5" y2="616"/></g>
<line x1="980" y1="539.5" x2="985" y2="539.5" stroke="#ff2ee0" stroke-width="1" shape-rendering="crispEdges"/>
</svg>
<div class="t" style="left:164.1px;top:3.5px;font-size:19.21px;color:#0000ff;">GLOBAL MARKETS COMPOSITE INDICES PERCENTAGE CHANGE SINCE 2017</div>
<div class="t" style="left:494px;top:27px;font-size:14.55px;-webkit-text-stroke:0.4px #000;transform:scaleY(1.12);transform-origin:0 50%;text-rendering:geometricPrecision;will-change:transform;">01-09-2026</div>
<div class="t" style="left:443.5px;top:638px;font-size:11.4px;font-weight:normal;"><span style="letter-spacing:-0.08px">world gold charts</span><span style="letter-spacing:0.75px"> © www</span><span style="letter-spacing:-0.17px">.goldchartsrus.com</span></div>
<div class="t yl" style="top:37.8px;">750 %</div>
<div class="t yl" style="top:70.8px;">700 %</div>
<div class="t yl" style="top:103.8px;">650 %</div>
<div class="t yl" style="top:136.8px;">600 %</div>
<div class="t yl" style="top:169.8px;">550 %</div>
<div class="t yl" style="top:202.8px;">500 %</div>
<div class="t yl" style="top:235.8px;">450 %</div>
<div class="t yl" style="top:268.8px;">400 %</div>
<div class="t yl" style="top:301.8px;">350 %</div>
<div class="t yl" style="top:335.8px;">300 %</div>
<div class="t yl" style="top:368.8px;">250 %</div>
<div class="t yl" style="top:401.8px;">200 %</div>
<div class="t yl" style="top:434.8px;">150 %</div>
<div class="t yl" style="top:467.8px;">100 %</div>
<div class="t yl" style="top:500.8px;">50 %</div>
<div class="t yl" style="top:533.8px;">0 %</div>
<div class="t yl" style="top:566.8px;">-50 %</div>
<div class="t yl" style="top:599.8px;">-100 %</div>
<div class="t xl" style="left:0.5px;top:619.8px;">2017</div>
<div class="t xl" style="left:104.5px;top:619.8px;">2018</div>
<div class="t xl" style="left:210.5px;top:619.8px;">2019</div>
<div class="t xl" style="left:315.5px;top:619.8px;">2020</div>
<div class="t xl" style="left:421.5px;top:619.8px;">2021</div>
<div class="t xl" style="left:526.5px;top:619.8px;">2022</div>
<div class="t xl" style="left:631.5px;top:619.8px;">2023</div>
<div class="t xl" style="left:735.5px;top:619.8px;">2024</div>
<div class="t xl" style="left:841.5px;top:619.8px;">2025</div>
<div class="t xl" style="left:946.5px;top:619.8px;">2026</div>
<div class="sw" style="top:39px;background:#000000;"></div>
<div class="t lg" style="top:36.8px;"><span style="letter-spacing:0.08px">Global</span> Composite</div>
<div class="sw" style="top:63px;background:#ff0000;"></div>
<div class="t lg" style="top:60.8px;"><span class="ka">A</span>mericas Composite</div>
<div class="sw" style="top:87px;background:#0000ff;"></div>
<div class="t lg" style="top:84.8px;"><span class="ka">A</span>sian Composite</div>
<div class="sw" style="top:111px;background:#10b010;"></div>
<div class="t lg" style="top:108.8px;"><span style="letter-spacing:0.12px">European</span> Composite</div>
<div class="sw" style="top:135px;background:#a98466;"></div>
<div class="t lg" style="top:132.8px;"><span style="letter-spacing:0.04px;word-spacing:0.4px">United States </span>Composite</div>
</body></html>
